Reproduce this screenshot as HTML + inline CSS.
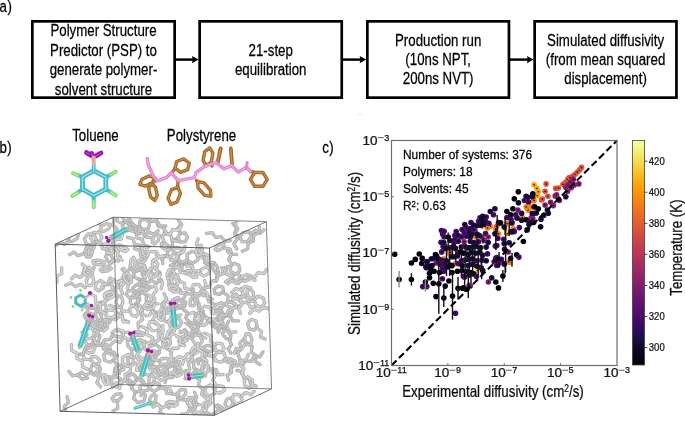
<!DOCTYPE html>
<html><head><meta charset="utf-8"><style>
html,body{margin:0;padding:0;background:#fff;}
svg{display:block;font-family:"Liberation Sans",sans-serif;will-change:transform;}
text{stroke:currentColor;stroke-width:0.25px;}
</style></head><body>
<svg width="685" height="436" viewBox="0 0 685 436">
<line x1="82.5" y1="177.2" x2="77.8" y2="175.2" stroke="#45bcc7" stroke-width="4.0" stroke-linecap="round" />
<line x1="77.8" y1="175.2" x2="73.0" y2="173.3" stroke="#82dc70" stroke-width="4.0" stroke-linecap="round" />
<line x1="77.8" y1="175.2" x2="73.0" y2="173.3" stroke="#b8f0a8" stroke-width="1.2" stroke-linecap="round" />
<line x1="82.5" y1="189.2" x2="77.5" y2="192.7" stroke="#45bcc7" stroke-width="4.0" stroke-linecap="round" />
<line x1="77.5" y1="192.7" x2="72.4" y2="196.2" stroke="#82dc70" stroke-width="4.0" stroke-linecap="round" />
<line x1="77.5" y1="192.7" x2="72.4" y2="196.2" stroke="#b8f0a8" stroke-width="1.2" stroke-linecap="round" />
<line x1="93.7" y1="195.6" x2="93.7" y2="201.4" stroke="#45bcc7" stroke-width="4.0" stroke-linecap="round" />
<line x1="93.7" y1="201.4" x2="93.7" y2="207.3" stroke="#82dc70" stroke-width="4.0" stroke-linecap="round" />
<line x1="93.7" y1="201.4" x2="93.7" y2="207.3" stroke="#b8f0a8" stroke-width="1.2" stroke-linecap="round" />
<line x1="105.8" y1="189.2" x2="110.8" y2="192.3" stroke="#45bcc7" stroke-width="4.0" stroke-linecap="round" />
<line x1="110.8" y1="192.3" x2="115.8" y2="195.4" stroke="#82dc70" stroke-width="4.0" stroke-linecap="round" />
<line x1="110.8" y1="192.3" x2="115.8" y2="195.4" stroke="#b8f0a8" stroke-width="1.2" stroke-linecap="round" />
<line x1="105.8" y1="177.2" x2="110.8" y2="174.5" stroke="#45bcc7" stroke-width="4.0" stroke-linecap="round" />
<line x1="110.8" y1="174.5" x2="115.8" y2="171.8" stroke="#82dc70" stroke-width="4.0" stroke-linecap="round" />
<line x1="110.8" y1="174.5" x2="115.8" y2="171.8" stroke="#b8f0a8" stroke-width="1.2" stroke-linecap="round" />
<polygon points="93.7,170.7 82.5,177.2 82.5,189.2 93.7,195.6 105.8,189.2 105.8,177.2" fill="none" stroke="#45bcc7" stroke-width="4.9" stroke-linejoin="round"/>
<polygon points="93.7,170.7 82.5,177.2 82.5,189.2 93.7,195.6 105.8,189.2 105.8,177.2" fill="none" stroke="#9be6ec" stroke-width="1.2" stroke-linejoin="round"/>
<line x1="93.7" y1="170.7" x2="93.7" y2="164.1" stroke="#45bcc7" stroke-width="3.8" stroke-linecap="round" />
<line x1="93.7" y1="164.1" x2="93.7" y2="157.5" stroke="#eba3a0" stroke-width="3.8" stroke-linecap="round" />
<line x1="93.7" y1="170.7" x2="93.7" y2="164.1" stroke="#9be6ec" stroke-width="1.14" stroke-linecap="round" />
<line x1="91.5" y1="155.7" x2="86.5" y2="152.6" stroke="#9a17aa" stroke-width="4.8" stroke-linecap="round" />
<line x1="91.5" y1="155.7" x2="86.5" y2="152.6" stroke="#c75bd2" stroke-width="1.0" stroke-linecap="round" />
<line x1="93.0" y1="155.9" x2="91.5" y2="153.4" stroke="#9a17aa" stroke-width="4.8" stroke-linecap="round" />
<line x1="93.0" y1="155.9" x2="91.5" y2="153.4" stroke="#c75bd2" stroke-width="1.0" stroke-linecap="round" />
<line x1="95.9" y1="155.8" x2="101.0" y2="153.0" stroke="#9a17aa" stroke-width="4.8" stroke-linecap="round" />
<line x1="95.9" y1="155.8" x2="101.0" y2="153.0" stroke="#c75bd2" stroke-width="1.0" stroke-linecap="round" />
<circle cx="93.7" cy="157.6" r="2.2" fill="#eba3a0"/>
<line x1="154.5" y1="179.5" x2="154.5" y2="177.6" stroke="#a66824" stroke-width="3.4" stroke-linecap="round" />
<line x1="154.5" y1="179.5" x2="154.5" y2="177.6" stroke="#d29a58" stroke-width="1.0" stroke-linecap="round" />
<path d="M154.5,177.6 L152.4,182.8 L145.2,186.1 L139.9,184.4 L142.0,179.2 L149.2,175.9 Z" fill="none" stroke="#a66824" stroke-width="3.4" stroke-linecap="round" stroke-linejoin="round"/>
<path d="M154.5,177.6 L152.4,182.8 L145.2,186.1 L139.9,184.4 L142.0,179.2 L149.2,175.9 Z" fill="none" stroke="#d29a58" stroke-width="1.0" stroke-linecap="round" stroke-linejoin="round"/>
<line x1="155.0" y1="181.0" x2="151.2" y2="183.6" stroke="#a66824" stroke-width="3.4" stroke-linecap="round" />
<line x1="155.0" y1="181.0" x2="151.2" y2="183.6" stroke="#d29a58" stroke-width="1.0" stroke-linecap="round" />
<path d="M154.8,200.4 L150.5,196.9 L148.7,188.5 L151.2,183.6 L155.5,187.1 L157.3,195.5 Z" fill="none" stroke="#a66824" stroke-width="3.4" stroke-linecap="round" stroke-linejoin="round"/>
<path d="M154.8,200.4 L150.5,196.9 L148.7,188.5 L151.2,183.6 L155.5,187.1 L157.3,195.5 Z" fill="none" stroke="#d29a58" stroke-width="1.0" stroke-linecap="round" stroke-linejoin="round"/>
<line x1="171.5" y1="173.5" x2="175.1" y2="168.2" stroke="#a66824" stroke-width="3.4" stroke-linecap="round" />
<line x1="171.5" y1="173.5" x2="175.1" y2="168.2" stroke="#d29a58" stroke-width="1.0" stroke-linecap="round" />
<path d="M189.3,163.0 L187.7,169.7 L180.6,172.3 L175.1,168.2 L176.7,161.5 L183.8,158.9 Z" fill="none" stroke="#a66824" stroke-width="3.4" stroke-linecap="round" stroke-linejoin="round"/>
<path d="M189.3,163.0 L187.7,169.7 L180.6,172.3 L175.1,168.2 L176.7,161.5 L183.8,158.9 Z" fill="none" stroke="#d29a58" stroke-width="1.0" stroke-linecap="round" stroke-linejoin="round"/>
<line x1="178.0" y1="181.0" x2="177.7" y2="187.3" stroke="#a66824" stroke-width="3.4" stroke-linecap="round" />
<line x1="178.0" y1="181.0" x2="177.7" y2="187.3" stroke="#d29a58" stroke-width="1.0" stroke-linecap="round" />
<path d="M177.7,187.3 L180.5,193.4 L177.1,201.9 L170.9,204.3 L168.1,198.2 L171.5,189.7 Z" fill="none" stroke="#a66824" stroke-width="3.4" stroke-linecap="round" stroke-linejoin="round"/>
<path d="M177.7,187.3 L180.5,193.4 L177.1,201.9 L170.9,204.3 L168.1,198.2 L171.5,189.7 Z" fill="none" stroke="#d29a58" stroke-width="1.0" stroke-linecap="round" stroke-linejoin="round"/>
<line x1="250.8" y1="171.5" x2="254.6" y2="172.5" stroke="#a66824" stroke-width="3.4" stroke-linecap="round" />
<line x1="250.8" y1="171.5" x2="254.6" y2="172.5" stroke="#d29a58" stroke-width="1.0" stroke-linecap="round" />
<path d="M267.2,179.4 L263.0,186.3 L254.6,186.3 L250.4,179.4 L254.6,172.5 L263.0,172.5 Z" fill="none" stroke="#a66824" stroke-width="3.4" stroke-linecap="round" stroke-linejoin="round"/>
<path d="M267.2,179.4 L263.0,186.3 L254.6,186.3 L250.4,179.4 L254.6,172.5 L263.0,172.5 Z" fill="none" stroke="#d29a58" stroke-width="1.0" stroke-linecap="round" stroke-linejoin="round"/>
<line x1="212.0" y1="166.0" x2="211.3" y2="162.0" stroke="#a66824" stroke-width="3.4" stroke-linecap="round" />
<line x1="212.0" y1="166.0" x2="211.3" y2="162.0" stroke="#d29a58" stroke-width="1.0" stroke-linecap="round" />
<path d="M209.6,147.9 L212.9,153.1 L211.3,162.0 L206.4,165.7 L203.1,160.5 L204.7,151.6 Z" fill="none" stroke="#a66824" stroke-width="3.4" stroke-linecap="round" stroke-linejoin="round"/>
<path d="M209.6,147.9 L212.9,153.1 L211.3,162.0 L206.4,165.7 L203.1,160.5 L204.7,151.6 Z" fill="none" stroke="#d29a58" stroke-width="1.0" stroke-linecap="round" stroke-linejoin="round"/>
<line x1="196.5" y1="180.5" x2="197.5" y2="181.6" stroke="#a66824" stroke-width="3.4" stroke-linecap="round" />
<line x1="196.5" y1="180.5" x2="197.5" y2="181.6" stroke="#d29a58" stroke-width="1.0" stroke-linecap="round" />
<path d="M210.9,196.4 L204.7,195.3 L198.0,187.8 L197.5,181.6 L203.7,182.7 L210.4,190.2 Z" fill="none" stroke="#a66824" stroke-width="3.4" stroke-linecap="round" stroke-linejoin="round"/>
<path d="M210.9,196.4 L204.7,195.3 L198.0,187.8 L197.5,181.6 L203.7,182.7 L210.4,190.2 Z" fill="none" stroke="#d29a58" stroke-width="1.0" stroke-linecap="round" stroke-linejoin="round"/>
<line x1="220.6" y1="148.5" x2="218.0" y2="161.5" stroke="#a66824" stroke-width="4.0" stroke-linecap="round" />
<line x1="220.6" y1="148.5" x2="218.0" y2="161.5" stroke="#d29a58" stroke-width="1.1" stroke-linecap="round" />
<line x1="230.8" y1="148.5" x2="232.0" y2="164.0" stroke="#a66824" stroke-width="3.8" stroke-linecap="round" />
<line x1="230.8" y1="148.5" x2="232.0" y2="164.0" stroke="#d29a58" stroke-width="1.1" stroke-linecap="round" />
<path d="M147.3,158.8 L148.3,165.0 L151.0,170.7 L153.0,175.5 L157.5,181.0 L167.1,177.2 L171.1,172.6 L178.3,180.6 L186.0,179.2 L194.4,177.6 L196.0,172.3 L204.6,166.5 L215.9,162.5 L223.9,168.9 L231.9,165.7 L238.3,172.1 L246.4,167.3 L250.4,171.3" fill="none" stroke="#e283d6" stroke-width="3.4" stroke-linecap="round" stroke-linejoin="round"/>
<path d="M147.3,158.8 L148.3,165.0 L151.0,170.7 L153.0,175.5 L157.5,181.0 L167.1,177.2 L171.1,172.6 L178.3,180.6 L186.0,179.2 L194.4,177.6 L196.0,172.3 L204.6,166.5 L215.9,162.5 L223.9,168.9 L231.9,165.7 L238.3,172.1 L246.4,167.3 L250.4,171.3" fill="none" stroke="#f2b4ea" stroke-width="1.0" stroke-linecap="round" stroke-linejoin="round"/>
<line x1="246.4" y1="167.3" x2="247.2" y2="162.5" stroke="#e283d6" stroke-width="3.0" stroke-linecap="round" />
<clipPath id="hull"><polygon points="55.2,244.2 113.3,217.2 266.3,221.7 271.6,388.9 214.4,415.3 60.1,411.3"/></clipPath>
<g clip-path="url(#hull)" fill="none" stroke-linecap="round" stroke-linejoin="round"><path d="M95.5,324.5 L99.6,320.3 L105.5,320.5 L107.2,325.0 L103.1,329.3 L97.3,329.0 Z" stroke="#a9a9a9" stroke-width="3.3"/><path d="M95.5,324.5 L99.6,320.3 L105.5,320.5 L107.2,325.0 L103.1,329.3 L97.3,329.0 Z" stroke="#d6d6d6" stroke-width="1.81"/><path d="M106.3,321.0 L110.6,317.6 L115.6,319.9 L118.8,316.1" stroke="#a9a9a9" stroke-width="3.3"/><path d="M106.3,321.0 L110.6,317.6 L115.6,319.9 L118.8,316.1" stroke="#d6d6d6" stroke-width="1.81"/><path d="M162.8,263.7 L162.6,257.9 L167.7,255.1 L167.5,249.3 L172.6,246.5 L172.3,240.7 L177.4,237.9" stroke="#a9a9a9" stroke-width="3.3"/><path d="M162.8,263.7 L162.6,257.9 L167.7,255.1 L167.5,249.3 L172.6,246.5 L172.3,240.7 L177.4,237.9" stroke="#c8c8c8" stroke-width="1.81"/><path d="M170.3,323.1 L173.2,318.7 L179.0,318.4 L181.8,322.6 L178.9,327.0 L173.2,327.3 Z" stroke="#a9a9a9" stroke-width="3.3"/><path d="M170.3,323.1 L173.2,318.7 L179.0,318.4 L181.8,322.6 L178.9,327.0 L173.2,327.3 Z" stroke="#cccccc" stroke-width="1.81"/><path d="M170.3,322.2 L164.9,321.5 L163.0,316.3 L158.0,316.7" stroke="#a9a9a9" stroke-width="3.3"/><path d="M170.3,322.2 L164.9,321.5 L163.0,316.3 L158.0,316.7" stroke="#cccccc" stroke-width="1.81"/><path d="M205.6,375.7 L200.1,377.4 L196.1,373.2 L190.5,374.9 L186.5,370.7 L181.0,372.4 L177.0,368.2" stroke="#a9a9a9" stroke-width="3.3"/><path d="M205.6,375.7 L200.1,377.4 L196.1,373.2 L190.5,374.9 L186.5,370.7 L181.0,372.4 L177.0,368.2" stroke="#cccccc" stroke-width="1.81"/><path d="M204.8,333.3 L199.5,335.6 L195.0,331.9 L189.7,334.3 L185.2,330.6 L179.9,332.9" stroke="#a9a9a9" stroke-width="3.3"/><path d="M204.8,333.3 L199.5,335.6 L195.0,331.9 L189.7,334.3 L185.2,330.6 L179.9,332.9" stroke="#d6d6d6" stroke-width="1.81"/><path d="M153.7,259.8 L157.9,263.9 L156.2,269.4 L160.4,273.4 L158.6,279.0 L162.8,283.0 L161.1,288.6" stroke="#a9a9a9" stroke-width="3.3"/><path d="M153.7,259.8 L157.9,263.9 L156.2,269.4 L160.4,273.4 L158.6,279.0 L162.8,283.0 L161.1,288.6" stroke="#d6d6d6" stroke-width="1.81"/><path d="M175.4,284.8 L169.5,283.6 L167.6,277.8 L171.5,273.3 L177.4,274.5 L179.4,280.3 Z" stroke="#a9a9a9" stroke-width="3.3"/><path d="M175.4,284.8 L169.5,283.6 L167.6,277.8 L171.5,273.3 L177.4,274.5 L179.4,280.3 Z" stroke="#d2d2d2" stroke-width="1.81"/><path d="M179.2,281.2 L184.3,283.1 L185.0,288.6 L189.9,289.3" stroke="#a9a9a9" stroke-width="3.3"/><path d="M179.2,281.2 L184.3,283.1 L185.0,288.6 L189.9,289.3" stroke="#d2d2d2" stroke-width="1.81"/><path d="M180.3,242.0 L177.8,237.8 L180.2,233.3 L185.0,233.0 L187.5,237.2 L185.2,241.7 Z" stroke="#a9a9a9" stroke-width="3.3"/><path d="M180.3,242.0 L177.8,237.8 L180.2,233.3 L185.0,233.0 L187.5,237.2 L185.2,241.7 Z" stroke="#c8c8c8" stroke-width="1.81"/><path d="M180.4,233.0 L177.9,228.1 L181.1,223.7 L178.0,219.7" stroke="#a9a9a9" stroke-width="3.3"/><path d="M180.4,233.0 L177.9,228.1 L181.1,223.7 L178.0,219.7" stroke="#c8c8c8" stroke-width="1.81"/><path d="M133.8,293.1 L132.8,287.9 L136.7,284.4 L141.5,286.2 L142.5,291.4 L138.6,294.9 Z" stroke="#a9a9a9" stroke-width="3.3"/><path d="M133.8,293.1 L132.8,287.9 L136.7,284.4 L141.5,286.2 L142.5,291.4 L138.6,294.9 Z" stroke="#c4c4c4" stroke-width="1.81"/><path d="M138.7,294.9 L139.7,300.3 L135.4,303.7 L137.3,308.3" stroke="#a9a9a9" stroke-width="3.3"/><path d="M138.7,294.9 L139.7,300.3 L135.4,303.7 L137.3,308.3" stroke="#c4c4c4" stroke-width="1.81"/><path d="M138.9,260.6 L143.0,257.4 L146.4,257.0 L145.7,259.9 L141.6,263.1 L138.2,263.5 Z" stroke="#a9a9a9" stroke-width="3.3"/><path d="M138.9,260.6 L143.0,257.4 L146.4,257.0 L145.7,259.9 L141.6,263.1 L138.2,263.5 Z" stroke="#d6d6d6" stroke-width="1.81"/><path d="M144.1,265.1 L146.1,270.3 L142.3,274.3 L145.0,278.6" stroke="#a9a9a9" stroke-width="3.3"/><path d="M144.1,265.1 L146.1,270.3 L142.3,274.3 L145.0,278.6" stroke="#d6d6d6" stroke-width="1.81"/><path d="M119.0,280.6 L118.5,286.4 L113.1,288.5 L112.5,294.2 L107.1,296.3" stroke="#a9a9a9" stroke-width="3.3"/><path d="M119.0,280.6 L118.5,286.4 L113.1,288.5 L112.5,294.2 L107.1,296.3" stroke="#c4c4c4" stroke-width="1.81"/><path d="M202.0,405.3 L205.7,402.0 L210.3,400.8 L211.2,403.0 L207.5,406.3 L203.0,407.5 Z" stroke="#a9a9a9" stroke-width="3.3"/><path d="M202.0,405.3 L205.7,402.0 L210.3,400.8 L211.2,403.0 L207.5,406.3 L203.0,407.5 Z" stroke="#d6d6d6" stroke-width="1.81"/><path d="M203.3,408.4 L199.9,412.8 L194.5,411.7 L192.3,416.2" stroke="#a9a9a9" stroke-width="3.3"/><path d="M203.3,408.4 L199.9,412.8 L194.5,411.7 L192.3,416.2" stroke="#d6d6d6" stroke-width="1.81"/><path d="M240.9,306.1 L236.2,306.0 L232.3,302.3 L233.0,298.7 L237.6,298.8 L241.5,302.5 Z" stroke="#a9a9a9" stroke-width="3.3"/><path d="M240.9,306.1 L236.2,306.0 L232.3,302.3 L233.0,298.7 L237.6,298.8 L241.5,302.5 Z" stroke="#d2d2d2" stroke-width="1.81"/><path d="M242.4,302.5 L247.9,302.6 L250.4,307.5 L255.3,306.6" stroke="#a9a9a9" stroke-width="3.3"/><path d="M242.4,302.5 L247.9,302.6 L250.4,307.5 L255.3,306.6" stroke="#d2d2d2" stroke-width="1.81"/><path d="M126.7,279.0 L126.0,273.9 L129.3,269.2 L133.3,269.6 L134.0,274.7 L130.7,279.4 Z" stroke="#a9a9a9" stroke-width="3.3"/><path d="M126.7,279.0 L126.0,273.9 L129.3,269.2 L133.3,269.6 L134.0,274.7 L130.7,279.4 Z" stroke="#c8c8c8" stroke-width="1.81"/><path d="M135.1,277.3 L139.8,280.1 L139.4,285.6 L144.1,287.3" stroke="#a9a9a9" stroke-width="3.3"/><path d="M135.1,277.3 L139.8,280.1 L139.4,285.6 L144.1,287.3" stroke="#c8c8c8" stroke-width="1.81"/><path d="M175.0,372.6 L174.6,368.1 L176.4,363.4 L178.7,363.2 L179.1,367.7 L177.3,372.4 Z" stroke="#a9a9a9" stroke-width="3.3"/><path d="M175.0,372.6 L174.6,368.1 L176.4,363.4 L178.7,363.2 L179.1,367.7 L177.3,372.4 Z" stroke="#c8c8c8" stroke-width="1.81"/><path d="M174.4,372.7 L171.9,377.6 L166.4,377.6 L165.1,382.5" stroke="#a9a9a9" stroke-width="3.3"/><path d="M174.4,372.7 L171.9,377.6 L166.4,377.6 L165.1,382.5" stroke="#c8c8c8" stroke-width="1.81"/><path d="M128.6,321.9 L123.0,320.2 L122.0,314.5 L116.4,312.9 L115.3,307.2 L109.8,305.5" stroke="#a9a9a9" stroke-width="3.3"/><path d="M128.6,321.9 L123.0,320.2 L122.0,314.5 L116.4,312.9 L115.3,307.2 L109.8,305.5" stroke="#d2d2d2" stroke-width="1.81"/><path d="M139.8,378.4 L143.7,374.0 L149.3,375.4 L153.1,371.0 L158.7,372.5" stroke="#a9a9a9" stroke-width="3.3"/><path d="M139.8,378.4 L143.7,374.0 L149.3,375.4 L153.1,371.0 L158.7,372.5" stroke="#cccccc" stroke-width="1.81"/><path d="M114.2,371.7 L115.3,368.1 L119.4,365.1 L122.4,365.7 L121.3,369.4 L117.2,372.3 Z" stroke="#a9a9a9" stroke-width="3.3"/><path d="M114.2,371.7 L115.3,368.1 L119.4,365.1 L122.4,365.7 L121.3,369.4 L117.2,372.3 Z" stroke="#c8c8c8" stroke-width="1.81"/><path d="M115.4,373.0 L112.2,377.5 L106.8,376.7 L104.8,381.3" stroke="#a9a9a9" stroke-width="3.3"/><path d="M115.4,373.0 L112.2,377.5 L106.8,376.7 L104.8,381.3" stroke="#c8c8c8" stroke-width="1.81"/><path d="M95.2,288.3 L96.4,283.2 L100.8,280.5 L104.2,283.0 L103.0,288.1 L98.6,290.8 Z" stroke="#a9a9a9" stroke-width="3.3"/><path d="M95.2,288.3 L96.4,283.2 L100.8,280.5 L104.2,283.0 L103.0,288.1 L98.6,290.8 Z" stroke="#d2d2d2" stroke-width="1.81"/><path d="M105.2,284.9 L110.7,284.1 L113.8,288.6 L118.5,286.9" stroke="#a9a9a9" stroke-width="3.3"/><path d="M105.2,284.9 L110.7,284.1 L113.8,288.6 L118.5,286.9" stroke="#d2d2d2" stroke-width="1.81"/><path d="M195.2,375.9 L199.7,379.5 L198.4,385.2 L202.9,388.9 L201.6,394.6 L206.1,398.3" stroke="#a9a9a9" stroke-width="3.3"/><path d="M195.2,375.9 L199.7,379.5 L198.4,385.2 L202.9,388.9 L201.6,394.6 L206.1,398.3" stroke="#cccccc" stroke-width="1.81"/><path d="M180.7,368.6 L175.7,365.7 L176.0,359.9 L171.0,357.0 L171.3,351.2 L166.3,348.3 L166.6,342.5" stroke="#a9a9a9" stroke-width="3.3"/><path d="M180.7,368.6 L175.7,365.7 L176.0,359.9 L171.0,357.0 L171.3,351.2 L166.3,348.3 L166.6,342.5" stroke="#d2d2d2" stroke-width="1.81"/><path d="M121.0,312.5 L118.1,317.5 L112.3,317.3 L109.5,322.4 L103.7,322.1 L100.8,327.2" stroke="#a9a9a9" stroke-width="3.3"/><path d="M121.0,312.5 L118.1,317.5 L112.3,317.3 L109.5,322.4 L103.7,322.1 L100.8,327.2" stroke="#cccccc" stroke-width="1.81"/><path d="M205.0,393.0 L205.7,387.3 L210.8,384.8 L215.2,387.9 L214.6,393.5 L209.5,396.1 Z" stroke="#a9a9a9" stroke-width="3.3"/><path d="M205.0,393.0 L205.7,387.3 L210.8,384.8 L215.2,387.9 L214.6,393.5 L209.5,396.1 Z" stroke="#d2d2d2" stroke-width="1.81"/><path d="M210.2,396.2 L210.4,401.7 L205.5,404.3 L206.6,409.2" stroke="#a9a9a9" stroke-width="3.3"/><path d="M210.2,396.2 L210.4,401.7 L205.5,404.3 L206.6,409.2" stroke="#d2d2d2" stroke-width="1.81"/><path d="M149.8,364.2 L155.0,366.8 L155.1,372.6 L160.3,375.2" stroke="#a9a9a9" stroke-width="3.3"/><path d="M149.8,364.2 L155.0,366.8 L155.1,372.6 L160.3,375.2" stroke="#d2d2d2" stroke-width="1.81"/><path d="M94.1,375.1 L90.4,370.8 L91.8,365.4 L96.9,364.4 L100.6,368.7 L99.2,374.1 Z" stroke="#a9a9a9" stroke-width="3.3"/><path d="M94.1,375.1 L90.4,370.8 L91.8,365.4 L96.9,364.4 L100.6,368.7 L99.2,374.1 Z" stroke="#c8c8c8" stroke-width="1.81"/><path d="M90.5,372.6 L85.7,375.3 L81.1,372.2 L77.3,375.5" stroke="#a9a9a9" stroke-width="3.3"/><path d="M90.5,372.6 L85.7,375.3 L81.1,372.2 L77.3,375.5" stroke="#c8c8c8" stroke-width="1.81"/><path d="M143.0,335.4 L137.8,335.4 L133.7,333.6 L134.8,331.7 L140.0,331.8 L144.1,333.6 Z" stroke="#a9a9a9" stroke-width="3.3"/><path d="M143.0,335.4 L137.8,335.4 L133.7,333.6 L134.8,331.7 L140.0,331.8 L144.1,333.6 Z" stroke="#cccccc" stroke-width="1.81"/><path d="M138.4,328.1 L138.0,322.6 L142.6,319.7 L141.2,314.9" stroke="#a9a9a9" stroke-width="3.3"/><path d="M138.4,328.1 L138.0,322.6 L142.6,319.7 L141.2,314.9" stroke="#cccccc" stroke-width="1.81"/><path d="M185.1,263.7 L179.9,266.4 L175.2,263.1 L170.1,265.8" stroke="#a9a9a9" stroke-width="3.3"/><path d="M185.1,263.7 L179.9,266.4 L175.2,263.1 L170.1,265.8" stroke="#c8c8c8" stroke-width="1.81"/><path d="M187.8,314.2 L193.3,312.3 L197.5,316.3 L203.0,314.3 L207.2,318.4" stroke="#a9a9a9" stroke-width="3.3"/><path d="M187.8,314.2 L193.3,312.3 L197.5,316.3 L203.0,314.3 L207.2,318.4" stroke="#d6d6d6" stroke-width="1.81"/><path d="M164.1,388.7 L169.9,388.9 L172.3,394.2 L178.1,394.5 L180.5,399.7 L186.3,400.0" stroke="#a9a9a9" stroke-width="3.3"/><path d="M164.1,388.7 L169.9,388.9 L172.3,394.2 L178.1,394.5 L180.5,399.7 L186.3,400.0" stroke="#d6d6d6" stroke-width="1.81"/><path d="M199.4,370.9 L194.0,368.2 L193.3,362.3 L197.9,359.0 L203.4,361.6 L204.1,367.5 Z" stroke="#a9a9a9" stroke-width="3.3"/><path d="M199.4,370.9 L194.0,368.2 L193.3,362.3 L197.9,359.0 L203.4,361.6 L204.1,367.5 Z" stroke="#c8c8c8" stroke-width="1.81"/><path d="M195.4,370.0 L192.3,374.6 L186.9,374.0 L185.0,378.7" stroke="#a9a9a9" stroke-width="3.3"/><path d="M195.4,370.0 L192.3,374.6 L186.9,374.0 L185.0,378.7" stroke="#c8c8c8" stroke-width="1.81"/><path d="M67.0,396.8 L68.6,402.4 L64.4,406.3 L66.0,411.9 L61.8,415.8 L63.4,421.4" stroke="#a9a9a9" stroke-width="3.3"/><path d="M67.0,396.8 L68.6,402.4 L64.4,406.3 L66.0,411.9 L61.8,415.8 L63.4,421.4" stroke="#c8c8c8" stroke-width="1.81"/><path d="M213.6,388.7 L217.5,385.7 L223.0,386.3 L224.7,390.0 L220.8,393.0 L215.2,392.3 Z" stroke="#a9a9a9" stroke-width="3.3"/><path d="M213.6,388.7 L217.5,385.7 L223.0,386.3 L224.7,390.0 L220.8,393.0 L215.2,392.3 Z" stroke="#d6d6d6" stroke-width="1.81"/><path d="M215.9,384.6 L212.8,380.1 L215.4,375.3 L211.8,371.8" stroke="#a9a9a9" stroke-width="3.3"/><path d="M215.9,384.6 L212.8,380.1 L215.4,375.3 L211.8,371.8" stroke="#d6d6d6" stroke-width="1.81"/><path d="M163.3,347.0 L162.5,342.2 L165.8,338.0 L169.8,338.6 L170.6,343.4 L167.3,347.6 Z" stroke="#a9a9a9" stroke-width="3.3"/><path d="M163.3,347.0 L162.5,342.2 L165.8,338.0 L169.8,338.6 L170.6,343.4 L167.3,347.6 Z" stroke="#cccccc" stroke-width="1.81"/><path d="M167.7,337.5 L168.9,332.1 L174.2,330.7 L174.3,325.7" stroke="#a9a9a9" stroke-width="3.3"/><path d="M167.7,337.5 L168.9,332.1 L174.2,330.7 L174.3,325.7" stroke="#cccccc" stroke-width="1.81"/><path d="M134.2,306.6 L130.4,302.9 L130.4,297.4 L134.2,295.5 L137.9,299.2 L137.9,304.8 Z" stroke="#a9a9a9" stroke-width="3.3"/><path d="M134.2,306.6 L130.4,302.9 L130.4,297.4 L134.2,295.5 L137.9,299.2 L137.9,304.8 Z" stroke="#cccccc" stroke-width="1.81"/><path d="M138.6,304.7 L142.9,308.2 L141.8,313.6 L146.2,315.9" stroke="#a9a9a9" stroke-width="3.3"/><path d="M138.6,304.7 L142.9,308.2 L141.8,313.6 L146.2,315.9" stroke="#cccccc" stroke-width="1.81"/><path d="M239.8,237.7 L243.2,232.6 L249.0,231.7 L251.4,236.0 L248.1,241.1 L242.3,241.9 Z" stroke="#a9a9a9" stroke-width="3.3"/><path d="M239.8,237.7 L243.2,232.6 L249.0,231.7 L251.4,236.0 L248.1,241.1 L242.3,241.9 Z" stroke="#cccccc" stroke-width="1.81"/><path d="M250.9,233.5 L255.6,230.5 L260.3,233.3 L263.9,229.8" stroke="#a9a9a9" stroke-width="3.3"/><path d="M250.9,233.5 L255.6,230.5 L260.3,233.3 L263.9,229.8" stroke="#cccccc" stroke-width="1.81"/><path d="M214.1,289.3 L218.2,286.1 L222.8,287.1 L223.5,291.2 L219.5,294.4 L214.8,293.4 Z" stroke="#a9a9a9" stroke-width="3.3"/><path d="M214.1,289.3 L218.2,286.1 L222.8,287.1 L223.5,291.2 L219.5,294.4 L214.8,293.4 Z" stroke="#c4c4c4" stroke-width="1.81"/><path d="M223.3,292.8 L228.1,295.6 L227.8,301.1 L232.6,302.6" stroke="#a9a9a9" stroke-width="3.3"/><path d="M223.3,292.8 L228.1,295.6 L227.8,301.1 L232.6,302.6" stroke="#c4c4c4" stroke-width="1.81"/><path d="M177.6,241.5 L172.0,240.1 L170.6,234.5 L165.0,233.1 L163.7,227.5 L158.0,226.1 L156.7,220.5" stroke="#a9a9a9" stroke-width="3.3"/><path d="M177.6,241.5 L172.0,240.1 L170.6,234.5 L165.0,233.1 L163.7,227.5 L158.0,226.1 L156.7,220.5" stroke="#cccccc" stroke-width="1.81"/><path d="M84.8,350.0 L86.5,345.6 L91.6,344.3 L95.0,347.5 L93.3,351.9 L88.2,353.1 Z" stroke="#a9a9a9" stroke-width="3.3"/><path d="M84.8,350.0 L86.5,345.6 L91.6,344.3 L95.0,347.5 L93.3,351.9 L88.2,353.1 Z" stroke="#d2d2d2" stroke-width="1.81"/><path d="M87.0,344.4 L83.9,339.8 L86.6,335.0 L83.0,331.5" stroke="#a9a9a9" stroke-width="3.3"/><path d="M87.0,344.4 L83.9,339.8 L86.6,335.0 L83.0,331.5" stroke="#d2d2d2" stroke-width="1.81"/><path d="M239.4,358.4 L237.5,352.9 L241.6,348.7 L239.8,343.2 L243.9,339.1" stroke="#a9a9a9" stroke-width="3.3"/><path d="M239.4,358.4 L237.5,352.9 L241.6,348.7 L239.8,343.2 L243.9,339.1" stroke="#c8c8c8" stroke-width="1.81"/><path d="M247.4,343.1 L252.1,346.4 L251.3,352.2 L256.1,355.5 L255.3,361.3 L260.0,364.6" stroke="#a9a9a9" stroke-width="3.3"/><path d="M247.4,343.1 L252.1,346.4 L251.3,352.2 L256.1,355.5 L255.3,361.3 L260.0,364.6" stroke="#c4c4c4" stroke-width="1.81"/><path d="M131.4,229.8 L125.9,230.9 L122.2,226.8 L123.9,221.7 L129.4,220.7 L133.1,224.7 Z" stroke="#a9a9a9" stroke-width="3.3"/><path d="M131.4,229.8 L125.9,230.9 L122.2,226.8 L123.9,221.7 L129.4,220.7 L133.1,224.7 Z" stroke="#cccccc" stroke-width="1.81"/><path d="M122.5,223.5 L117.5,221.2 L117.3,215.7 L112.4,214.6" stroke="#a9a9a9" stroke-width="3.3"/><path d="M122.5,223.5 L117.5,221.2 L117.3,215.7 L112.4,214.6" stroke="#cccccc" stroke-width="1.81"/><path d="M236.0,331.8 L230.2,332.3 L227.2,327.3 L221.4,327.8 L218.3,322.8 L212.6,323.3 L209.5,318.3" stroke="#a9a9a9" stroke-width="3.3"/><path d="M236.0,331.8 L230.2,332.3 L227.2,327.3 L221.4,327.8 L218.3,322.8 L212.6,323.3 L209.5,318.3" stroke="#cccccc" stroke-width="1.81"/><path d="M161.3,304.5 L164.8,301.5 L169.6,302.1 L170.9,305.6 L167.4,308.5 L162.6,308.0 Z" stroke="#a9a9a9" stroke-width="3.3"/><path d="M161.3,304.5 L164.8,301.5 L169.6,302.1 L170.9,305.6 L167.4,308.5 L162.6,308.0 Z" stroke="#d6d6d6" stroke-width="1.81"/><path d="M171.1,304.4 L176.5,303.8 L179.6,308.3 L184.4,306.7" stroke="#a9a9a9" stroke-width="3.3"/><path d="M171.1,304.4 L176.5,303.8 L179.6,308.3 L184.4,306.7" stroke="#d6d6d6" stroke-width="1.81"/><path d="M184.9,399.8 L190.6,399.7 L193.4,404.8 L199.2,404.6" stroke="#a9a9a9" stroke-width="3.3"/><path d="M184.9,399.8 L190.6,399.7 L193.4,404.8 L199.2,404.6" stroke="#d6d6d6" stroke-width="1.81"/><path d="M167.5,278.9 L167.6,275.8 L170.5,271.4 L173.2,270.2 L173.1,273.3 L170.2,277.6 Z" stroke="#a9a9a9" stroke-width="3.3"/><path d="M167.5,278.9 L167.6,275.8 L170.5,271.4 L173.2,270.2 L173.1,273.3 L170.2,277.6 Z" stroke="#d6d6d6" stroke-width="1.81"/><path d="M174.1,278.1 L178.1,281.9 L176.5,287.2 L180.7,289.9" stroke="#a9a9a9" stroke-width="3.3"/><path d="M174.1,278.1 L178.1,281.9 L176.5,287.2 L180.7,289.9" stroke="#d6d6d6" stroke-width="1.81"/><path d="M102.8,328.3 L102.3,323.7 L104.5,319.5 L107.2,320.0 L107.7,324.6 L105.5,328.7 Z" stroke="#a9a9a9" stroke-width="3.3"/><path d="M102.8,328.3 L102.3,323.7 L104.5,319.5 L107.2,320.0 L107.7,324.6 L105.5,328.7 Z" stroke="#cccccc" stroke-width="1.81"/><path d="M100.1,325.7 L94.8,327.4 L91.0,323.5 L86.6,325.9" stroke="#a9a9a9" stroke-width="3.3"/><path d="M100.1,325.7 L94.8,327.4 L91.0,323.5 L86.6,325.9" stroke="#cccccc" stroke-width="1.81"/><path d="M219.0,332.1 L216.7,326.7 L220.5,322.3 L218.2,316.9 L221.9,312.5 L219.7,307.2" stroke="#a9a9a9" stroke-width="3.3"/><path d="M219.0,332.1 L216.7,326.7 L220.5,322.3 L218.2,316.9 L221.9,312.5 L219.7,307.2" stroke="#d2d2d2" stroke-width="1.81"/><path d="M171.1,311.5 L172.7,317.1 L168.5,321.0 L170.1,326.6" stroke="#a9a9a9" stroke-width="3.3"/><path d="M171.1,311.5 L172.7,317.1 L168.5,321.0 L170.1,326.6" stroke="#d2d2d2" stroke-width="1.81"/><path d="M156.0,312.3 L151.0,309.4 L151.2,303.6 L146.2,300.8 L146.4,295.0 L141.4,292.1 L141.6,286.3" stroke="#a9a9a9" stroke-width="3.3"/><path d="M156.0,312.3 L151.0,309.4 L151.2,303.6 L146.2,300.8 L146.4,295.0 L141.4,292.1 L141.6,286.3" stroke="#c4c4c4" stroke-width="1.81"/><path d="M238.7,237.4 L234.8,233.2 L236.7,227.8 L232.7,223.5" stroke="#a9a9a9" stroke-width="3.3"/><path d="M238.7,237.4 L234.8,233.2 L236.7,227.8 L232.7,223.5" stroke="#c8c8c8" stroke-width="1.81"/><path d="M190.6,408.3 L187.1,403.3 L188.4,397.8 L193.2,397.4 L196.6,402.4 L195.3,407.9 Z" stroke="#a9a9a9" stroke-width="3.3"/><path d="M190.6,408.3 L187.1,403.3 L188.4,397.8 L193.2,397.4 L196.6,402.4 L195.3,407.9 Z" stroke="#cccccc" stroke-width="1.81"/><path d="M189.5,408.6 L187.4,413.7 L181.9,414.1 L180.9,419.0" stroke="#a9a9a9" stroke-width="3.3"/><path d="M189.5,408.6 L187.4,413.7 L181.9,414.1 L180.9,419.0" stroke="#cccccc" stroke-width="1.81"/><path d="M216.3,273.5 L213.0,269.1 L211.9,263.7 L214.0,262.6 L217.3,267.0 L218.4,272.4 Z" stroke="#a9a9a9" stroke-width="3.3"/><path d="M216.3,273.5 L213.0,269.1 L211.9,263.7 L214.0,262.6 L217.3,267.0 L218.4,272.4 Z" stroke="#c4c4c4" stroke-width="1.81"/><path d="M209.6,265.2 L204.7,262.7 L204.7,257.2 L199.9,255.9" stroke="#a9a9a9" stroke-width="3.3"/><path d="M209.6,265.2 L204.7,262.7 L204.7,257.2 L199.9,255.9" stroke="#c4c4c4" stroke-width="1.81"/><path d="M136.5,266.7 L141.6,265.9 L144.6,267.4 L142.5,269.7 L137.3,270.5 L134.3,269.0 Z" stroke="#a9a9a9" stroke-width="3.3"/><path d="M136.5,266.7 L141.6,265.9 L144.6,267.4 L142.5,269.7 L137.3,270.5 L134.3,269.0 Z" stroke="#d6d6d6" stroke-width="1.81"/><path d="M142.2,272.7 L145.0,277.4 L142.1,282.1 L145.4,285.8" stroke="#a9a9a9" stroke-width="3.3"/><path d="M142.2,272.7 L145.0,277.4 L142.1,282.1 L145.4,285.8" stroke="#d6d6d6" stroke-width="1.81"/><path d="M190.4,352.7 L192.9,347.9 L197.8,345.2 L200.3,347.3 L197.8,352.1 L192.9,354.8 Z" stroke="#a9a9a9" stroke-width="3.3"/><path d="M190.4,352.7 L192.9,347.9 L197.8,345.2 L200.3,347.3 L197.8,352.1 L192.9,354.8 Z" stroke="#d6d6d6" stroke-width="1.81"/><path d="M192.3,355.3 L189.5,360.0 L184.0,359.7 L182.4,364.5" stroke="#a9a9a9" stroke-width="3.3"/><path d="M192.3,355.3 L189.5,360.0 L184.0,359.7 L182.4,364.5" stroke="#d6d6d6" stroke-width="1.81"/><path d="M186.1,273.7 L181.6,269.3 L182.5,263.3 L187.9,261.7 L192.5,266.1 L191.6,272.0 Z" stroke="#a9a9a9" stroke-width="3.3"/><path d="M186.1,273.7 L181.6,269.3 L182.5,263.3 L187.9,261.7 L192.5,266.1 L191.6,272.0 Z" stroke="#c8c8c8" stroke-width="1.81"/><path d="M182.0,263.7 L177.7,260.4 L178.7,255.0 L174.3,252.7" stroke="#a9a9a9" stroke-width="3.3"/><path d="M182.0,263.7 L177.7,260.4 L178.7,255.0 L174.3,252.7" stroke="#c8c8c8" stroke-width="1.81"/><path d="M173.7,376.9 L167.9,377.0 L165.2,371.9 L159.4,372.0 L156.7,366.8 L150.9,367.0" stroke="#a9a9a9" stroke-width="3.3"/><path d="M173.7,376.9 L167.9,377.0 L165.2,371.9 L159.4,372.0 L156.7,366.8 L150.9,367.0" stroke="#cccccc" stroke-width="1.81"/><path d="M90.4,237.4 L93.6,232.5 L99.4,232.4 L102.0,237.3 L98.8,242.3 L93.0,242.3 Z" stroke="#a9a9a9" stroke-width="3.3"/><path d="M90.4,237.4 L93.6,232.5 L99.4,232.4 L102.0,237.3 L98.8,242.3 L93.0,242.3 Z" stroke="#d2d2d2" stroke-width="1.81"/><path d="M95.0,243.2 L93.8,248.6 L88.5,250.0 L88.5,255.0" stroke="#a9a9a9" stroke-width="3.3"/><path d="M95.0,243.2 L93.8,248.6 L88.5,250.0 L88.5,255.0" stroke="#d2d2d2" stroke-width="1.81"/><path d="M111.6,384.7 L111.5,379.5 L116.0,376.5 L120.6,378.7 L120.7,383.9 L116.3,386.9 Z" stroke="#a9a9a9" stroke-width="3.3"/><path d="M111.6,384.7 L111.5,379.5 L116.0,376.5 L120.6,378.7 L120.7,383.9 L116.3,386.9 Z" stroke="#cccccc" stroke-width="1.81"/><path d="M117.2,376.4 L118.3,371.1 L123.7,369.6 L123.7,364.6" stroke="#a9a9a9" stroke-width="3.3"/><path d="M117.2,376.4 L118.3,371.1 L123.7,369.6 L123.7,364.6" stroke="#cccccc" stroke-width="1.81"/><path d="M194.6,392.2 L196.8,397.5 L193.1,402.0 L195.3,407.3 L191.6,411.7" stroke="#a9a9a9" stroke-width="3.3"/><path d="M194.6,392.2 L196.8,397.5 L193.1,402.0 L195.3,407.3 L191.6,411.7" stroke="#c8c8c8" stroke-width="1.81"/><path d="M259.3,227.0 L259.0,232.8 L253.7,235.1 L253.3,240.9 L248.0,243.2 L247.7,249.0 L242.4,251.3" stroke="#a9a9a9" stroke-width="3.3"/><path d="M259.3,227.0 L259.0,232.8 L253.7,235.1 L253.3,240.9 L248.0,243.2 L247.7,249.0 L242.4,251.3" stroke="#c4c4c4" stroke-width="1.81"/><path d="M186.8,378.7 L185.4,373.0 L189.7,369.2 L188.3,363.6 L192.6,359.8 L191.2,354.1 L195.5,350.3" stroke="#a9a9a9" stroke-width="3.3"/><path d="M186.8,378.7 L185.4,373.0 L189.7,369.2 L188.3,363.6 L192.6,359.8 L191.2,354.1 L195.5,350.3" stroke="#cccccc" stroke-width="1.81"/><path d="M111.7,283.5 L112.7,289.2 L108.0,292.7 L109.1,298.4 L104.4,301.9" stroke="#a9a9a9" stroke-width="3.3"/><path d="M111.7,283.5 L112.7,289.2 L108.0,292.7 L109.1,298.4 L104.4,301.9" stroke="#d2d2d2" stroke-width="1.81"/><path d="M119.5,238.5 L115.3,234.5 L117.0,228.9 L112.8,224.9 L114.4,219.4 L110.2,215.4 L111.9,209.8" stroke="#a9a9a9" stroke-width="3.3"/><path d="M119.5,238.5 L115.3,234.5 L117.0,228.9 L112.8,224.9 L114.4,219.4 L110.2,215.4 L111.9,209.8" stroke="#cccccc" stroke-width="1.81"/><path d="M183.7,344.6 L182.0,339.0 L186.3,335.1 L184.6,329.5" stroke="#a9a9a9" stroke-width="3.3"/><path d="M183.7,344.6 L182.0,339.0 L186.3,335.1 L184.6,329.5" stroke="#c8c8c8" stroke-width="1.81"/><path d="M240.6,313.5 L238.3,308.2 L242.0,303.7 L239.7,298.4 L243.3,293.9 L241.0,288.6" stroke="#a9a9a9" stroke-width="3.3"/><path d="M240.6,313.5 L238.3,308.2 L242.0,303.7 L239.7,298.4 L243.3,293.9 L241.0,288.6" stroke="#d6d6d6" stroke-width="1.81"/><path d="M261.4,307.0 L256.2,305.4 L254.4,300.0 L257.8,296.2 L263.0,297.8 L264.8,303.2 Z" stroke="#a9a9a9" stroke-width="3.3"/><path d="M261.4,307.0 L256.2,305.4 L254.4,300.0 L257.8,296.2 L263.0,297.8 L264.8,303.2 Z" stroke="#d2d2d2" stroke-width="1.81"/><path d="M253.9,301.4 L248.4,301.2 L246.1,296.2 L241.2,297.0" stroke="#a9a9a9" stroke-width="3.3"/><path d="M253.9,301.4 L248.4,301.2 L246.1,296.2 L241.2,297.0" stroke="#d2d2d2" stroke-width="1.81"/><path d="M238.1,283.6 L233.8,281.8 L232.4,276.7 L235.3,273.5 L239.6,275.3 L241.1,280.3 Z" stroke="#a9a9a9" stroke-width="3.3"/><path d="M238.1,283.6 L233.8,281.8 L232.4,276.7 L235.3,273.5 L239.6,275.3 L241.1,280.3 Z" stroke="#d2d2d2" stroke-width="1.81"/><path d="M231.9,276.4 L226.8,274.3 L226.5,268.8 L221.6,267.8" stroke="#a9a9a9" stroke-width="3.3"/><path d="M231.9,276.4 L226.8,274.3 L226.5,268.8 L221.6,267.8" stroke="#d2d2d2" stroke-width="1.81"/><path d="M149.0,295.3 L152.2,300.2 L149.3,305.2 L152.4,310.0 L149.5,315.1" stroke="#a9a9a9" stroke-width="3.3"/><path d="M149.0,295.3 L152.2,300.2 L149.3,305.2 L152.4,310.0 L149.5,315.1" stroke="#d6d6d6" stroke-width="1.81"/><path d="M221.5,351.8 L216.5,351.0 L214.2,346.7 L216.9,343.1 L221.9,343.9 L224.2,348.2 Z" stroke="#a9a9a9" stroke-width="3.3"/><path d="M221.5,351.8 L216.5,351.0 L214.2,346.7 L216.9,343.1 L221.9,343.9 L224.2,348.2 Z" stroke="#d6d6d6" stroke-width="1.81"/><path d="M215.0,344.5 L210.5,341.4 L211.2,335.9 L206.6,333.9" stroke="#a9a9a9" stroke-width="3.3"/><path d="M215.0,344.5 L210.5,341.4 L211.2,335.9 L206.6,333.9" stroke="#d6d6d6" stroke-width="1.81"/><path d="M213.5,308.2 L215.8,304.7 L221.2,302.7 L224.5,304.1 L222.2,307.5 L216.8,309.6 Z" stroke="#a9a9a9" stroke-width="3.3"/><path d="M213.5,308.2 L215.8,304.7 L221.2,302.7 L224.5,304.1 L222.2,307.5 L216.8,309.6 Z" stroke="#c8c8c8" stroke-width="1.81"/><path d="M213.6,303.8 L208.6,301.6 L208.3,296.1 L203.4,295.0" stroke="#a9a9a9" stroke-width="3.3"/><path d="M213.6,303.8 L208.6,301.6 L208.3,296.1 L203.4,295.0" stroke="#c8c8c8" stroke-width="1.81"/><path d="M242.3,365.8 L245.4,360.8 L251.2,361.3 L254.2,356.4 L260.0,356.9 L263.0,351.9" stroke="#a9a9a9" stroke-width="3.3"/><path d="M242.3,365.8 L245.4,360.8 L251.2,361.3 L254.2,356.4 L260.0,356.9 L263.0,351.9" stroke="#c4c4c4" stroke-width="1.81"/><path d="M149.4,346.4 L155.4,344.4 L160.2,347.9 L159.1,353.4 L153.1,355.5 L148.3,352.0 Z" stroke="#a9a9a9" stroke-width="3.3"/><path d="M149.4,346.4 L155.4,344.4 L160.2,347.9 L159.1,353.4 L153.1,355.5 L148.3,352.0 Z" stroke="#c8c8c8" stroke-width="1.81"/><path d="M154.1,356.3 L153.9,361.8 L149.0,364.1 L149.9,369.0" stroke="#a9a9a9" stroke-width="3.3"/><path d="M154.1,356.3 L153.9,361.8 L149.0,364.1 L149.9,369.0" stroke="#c8c8c8" stroke-width="1.81"/><path d="M104.4,264.0 L99.2,264.9 L93.4,263.3 L92.9,260.9 L98.1,260.1 L103.9,261.6 Z" stroke="#a9a9a9" stroke-width="3.3"/><path d="M104.4,264.0 L99.2,264.9 L93.4,263.3 L92.9,260.9 L98.1,260.1 L103.9,261.6 Z" stroke="#cccccc" stroke-width="1.81"/><path d="M94.3,267.1 L90.5,271.2 L85.2,269.6 L82.6,273.9" stroke="#a9a9a9" stroke-width="3.3"/><path d="M94.3,267.1 L90.5,271.2 L85.2,269.6 L82.6,273.9" stroke="#cccccc" stroke-width="1.81"/><path d="M83.2,334.8 L85.2,328.9 L90.9,327.6 L94.5,332.0 L92.5,337.8 L86.8,339.2 Z" stroke="#a9a9a9" stroke-width="3.3"/><path d="M83.2,334.8 L85.2,328.9 L90.9,327.6 L94.5,332.0 L92.5,337.8 L86.8,339.2 Z" stroke="#d6d6d6" stroke-width="1.81"/><path d="M94.3,330.5 L99.2,327.9 L103.7,331.0 L107.5,327.9" stroke="#a9a9a9" stroke-width="3.3"/><path d="M94.3,330.5 L99.2,327.9 L103.7,331.0 L107.5,327.9" stroke="#d6d6d6" stroke-width="1.81"/><path d="M171.7,305.4 L172.6,299.7 L177.9,297.6 L182.3,301.2 L181.3,306.8 L176.0,309.0 Z" stroke="#a9a9a9" stroke-width="3.3"/><path d="M171.7,305.4 L172.6,299.7 L177.9,297.6 L182.3,301.2 L181.3,306.8 L176.0,309.0 Z" stroke="#cccccc" stroke-width="1.81"/><path d="M172.4,306.9 L168.1,310.3 L163.1,308.0 L159.9,311.9" stroke="#a9a9a9" stroke-width="3.3"/><path d="M172.4,306.9 L168.1,310.3 L163.1,308.0 L159.9,311.9" stroke="#cccccc" stroke-width="1.81"/><path d="M249.6,313.2 L253.8,309.2 L259.3,311.1 L263.4,307.1 L268.9,309.0 L273.1,305.0" stroke="#a9a9a9" stroke-width="3.3"/><path d="M249.6,313.2 L253.8,309.2 L259.3,311.1 L263.4,307.1 L268.9,309.0 L273.1,305.0" stroke="#d6d6d6" stroke-width="1.81"/><path d="M130.1,266.6 L131.0,260.4 L133.6,257.3 L135.3,260.4 L134.4,266.6 L131.8,269.7 Z" stroke="#a9a9a9" stroke-width="3.3"/><path d="M130.1,266.6 L131.0,260.4 L133.6,257.3 L135.3,260.4 L134.4,266.6 L131.8,269.7 Z" stroke="#d2d2d2" stroke-width="1.81"/><path d="M138.9,264.6 L144.3,265.6 L145.9,270.8 L150.9,270.7" stroke="#a9a9a9" stroke-width="3.3"/><path d="M138.9,264.6 L144.3,265.6 L145.9,270.8 L150.9,270.7" stroke="#d2d2d2" stroke-width="1.81"/><path d="M249.3,329.1 L247.7,323.6 L250.9,319.4 L255.6,320.5 L257.2,326.0 L254.1,330.2 Z" stroke="#a9a9a9" stroke-width="3.3"/><path d="M249.3,329.1 L247.7,323.6 L250.9,319.4 L255.6,320.5 L257.2,326.0 L254.1,330.2 Z" stroke="#cccccc" stroke-width="1.81"/><path d="M257.1,328.2 L261.5,331.5 L260.6,336.9 L265.1,339.0" stroke="#a9a9a9" stroke-width="3.3"/><path d="M257.1,328.2 L261.5,331.5 L260.6,336.9 L265.1,339.0" stroke="#cccccc" stroke-width="1.81"/><path d="M203.3,311.7 L198.4,308.7 L198.9,302.9 L194.0,299.8 L194.5,294.0" stroke="#a9a9a9" stroke-width="3.3"/><path d="M203.3,311.7 L198.4,308.7 L198.9,302.9 L194.0,299.8 L194.5,294.0" stroke="#c8c8c8" stroke-width="1.81"/><path d="M236.7,248.8 L233.9,243.7 L237.2,238.9 L234.4,233.8 L237.7,229.0 L234.9,223.9 L238.1,219.1" stroke="#a9a9a9" stroke-width="3.3"/><path d="M236.7,248.8 L233.9,243.7 L237.2,238.9 L234.4,233.8 L237.7,229.0 L234.9,223.9 L238.1,219.1" stroke="#c8c8c8" stroke-width="1.81"/><path d="M251.0,298.9 L247.5,295.5 L246.9,290.3 L249.7,288.6 L253.1,292.0 L253.8,297.1 Z" stroke="#a9a9a9" stroke-width="3.3"/><path d="M251.0,298.9 L247.5,295.5 L246.9,290.3 L249.7,288.6 L253.1,292.0 L253.8,297.1 Z" stroke="#cccccc" stroke-width="1.81"/><path d="M245.2,295.7 L240.1,297.7 L236.0,294.0 L231.7,296.7" stroke="#a9a9a9" stroke-width="3.3"/><path d="M245.2,295.7 L240.1,297.7 L236.0,294.0 L231.7,296.7" stroke="#cccccc" stroke-width="1.81"/><path d="M153.5,339.4 L149.3,343.4 L143.8,341.4 L139.6,345.3" stroke="#a9a9a9" stroke-width="3.3"/><path d="M153.5,339.4 L149.3,343.4 L143.8,341.4 L139.6,345.3" stroke="#d2d2d2" stroke-width="1.81"/><path d="M140.1,312.6 L143.3,307.7 L149.0,308.2 L152.1,303.3 L157.9,303.9" stroke="#a9a9a9" stroke-width="3.3"/><path d="M140.1,312.6 L143.3,307.7 L149.0,308.2 L152.1,303.3 L157.9,303.9" stroke="#d2d2d2" stroke-width="1.81"/><path d="M157.1,377.2 L158.8,372.0 L164.1,369.9 L167.9,373.1 L166.2,378.4 L160.9,380.5 Z" stroke="#a9a9a9" stroke-width="3.3"/><path d="M157.1,377.2 L158.8,372.0 L164.1,369.9 L167.9,373.1 L166.2,378.4 L160.9,380.5 Z" stroke="#d2d2d2" stroke-width="1.81"/><path d="M168.2,373.7 L173.5,372.2 L177.2,376.3 L181.6,374.1" stroke="#a9a9a9" stroke-width="3.3"/><path d="M168.2,373.7 L173.5,372.2 L177.2,376.3 L181.6,374.1" stroke="#d2d2d2" stroke-width="1.81"/><path d="M187.9,353.7 L184.1,358.1 L178.5,356.6 L174.6,361.0" stroke="#a9a9a9" stroke-width="3.3"/><path d="M187.9,353.7 L184.1,358.1 L178.5,356.6 L174.6,361.0" stroke="#d6d6d6" stroke-width="1.81"/><path d="M111.8,262.9 L108.0,261.4 L105.7,256.7 L107.1,253.4 L110.9,254.9 L113.3,259.7 Z" stroke="#a9a9a9" stroke-width="3.3"/><path d="M111.8,262.9 L108.0,261.4 L105.7,256.7 L107.1,253.4 L110.9,254.9 L113.3,259.7 Z" stroke="#c8c8c8" stroke-width="1.81"/><path d="M109.0,252.9 L108.5,247.4 L113.2,244.5 L111.8,239.7" stroke="#a9a9a9" stroke-width="3.3"/><path d="M109.0,252.9 L108.5,247.4 L113.2,244.5 L111.8,239.7" stroke="#c8c8c8" stroke-width="1.81"/><path d="M267.1,269.0 L263.7,273.7 L258.0,272.7 L254.5,277.4 L248.8,276.4" stroke="#a9a9a9" stroke-width="3.3"/><path d="M267.1,269.0 L263.7,273.7 L258.0,272.7 L254.5,277.4 L248.8,276.4" stroke="#d2d2d2" stroke-width="1.81"/><path d="M178.7,341.2 L180.7,337.5 L185.7,335.3 L188.8,336.7 L186.8,340.4 L181.7,342.7 Z" stroke="#a9a9a9" stroke-width="3.3"/><path d="M178.7,341.2 L180.7,337.5 L185.7,335.3 L188.8,336.7 L186.8,340.4 L181.7,342.7 Z" stroke="#d2d2d2" stroke-width="1.81"/><path d="M180.9,343.8 L178.1,348.5 L172.6,348.2 L171.0,352.9" stroke="#a9a9a9" stroke-width="3.3"/><path d="M180.9,343.8 L178.1,348.5 L172.6,348.2 L171.0,352.9" stroke="#d2d2d2" stroke-width="1.81"/><path d="M98.5,363.6 L93.8,363.3 L90.5,359.7 L91.8,356.6 L96.5,357.0 L99.9,360.5 Z" stroke="#a9a9a9" stroke-width="3.3"/><path d="M98.5,363.6 L93.8,363.3 L90.5,359.7 L91.8,356.6 L96.5,357.0 L99.9,360.5 Z" stroke="#d2d2d2" stroke-width="1.81"/><path d="M90.0,359.7 L84.6,359.2 L82.5,354.1 L77.5,354.7" stroke="#a9a9a9" stroke-width="3.3"/><path d="M90.0,359.7 L84.6,359.2 L82.5,354.1 L77.5,354.7" stroke="#d2d2d2" stroke-width="1.81"/><path d="M185.8,323.4 L191.4,324.6 L193.0,330.2 L198.7,331.3 L200.3,336.9 L205.9,338.0" stroke="#a9a9a9" stroke-width="3.3"/><path d="M185.8,323.4 L191.4,324.6 L193.0,330.2 L198.7,331.3 L200.3,336.9 L205.9,338.0" stroke="#d2d2d2" stroke-width="1.81"/><path d="M225.4,281.8 L230.2,278.5 L235.3,281.3 L240.0,278.0 L245.2,280.7 L249.9,277.4 L255.0,280.2" stroke="#a9a9a9" stroke-width="3.3"/><path d="M225.4,281.8 L230.2,278.5 L235.3,281.3 L240.0,278.0 L245.2,280.7 L249.9,277.4 L255.0,280.2" stroke="#d2d2d2" stroke-width="1.81"/><path d="M204.2,289.2 L202.3,294.7 L196.6,295.5 L194.7,301.0" stroke="#a9a9a9" stroke-width="3.3"/><path d="M204.2,289.2 L202.3,294.7 L196.6,295.5 L194.7,301.0" stroke="#d2d2d2" stroke-width="1.81"/><path d="M56.9,282.2 L56.7,276.4 L61.8,273.6 L61.6,267.8" stroke="#a9a9a9" stroke-width="3.3"/><path d="M56.9,282.2 L56.7,276.4 L61.8,273.6 L61.6,267.8" stroke="#d6d6d6" stroke-width="1.81"/><path d="M86.7,257.0 L84.6,252.0 L86.6,246.8 L90.6,246.6 L92.6,251.6 L90.7,256.8 Z" stroke="#a9a9a9" stroke-width="3.3"/><path d="M86.7,257.0 L84.6,252.0 L86.6,246.8 L90.6,246.6 L92.6,251.6 L90.7,256.8 Z" stroke="#c8c8c8" stroke-width="1.81"/><path d="M83.1,253.9 L78.0,255.8 L73.9,252.1 L69.7,254.7" stroke="#a9a9a9" stroke-width="3.3"/><path d="M83.1,253.9 L78.0,255.8 L73.9,252.1 L69.7,254.7" stroke="#c8c8c8" stroke-width="1.81"/><path d="M230.3,339.1 L226.2,338.7 L222.7,334.4 L223.4,330.5 L227.5,330.9 L230.9,335.2 Z" stroke="#a9a9a9" stroke-width="3.3"/><path d="M230.3,339.1 L226.2,338.7 L222.7,334.4 L223.4,330.5 L227.5,330.9 L230.9,335.2 Z" stroke="#c4c4c4" stroke-width="1.81"/><path d="M229.2,339.8 L231.5,344.8 L228.1,349.1 L231.0,353.1" stroke="#a9a9a9" stroke-width="3.3"/><path d="M229.2,339.8 L231.5,344.8 L228.1,349.1 L231.0,353.1" stroke="#c4c4c4" stroke-width="1.81"/><path d="M202.8,258.1 L198.7,254.0 L200.4,248.5 L196.3,244.4 L198.1,238.9" stroke="#a9a9a9" stroke-width="3.3"/><path d="M202.8,258.1 L198.7,254.0 L200.4,248.5 L196.3,244.4 L198.1,238.9" stroke="#d2d2d2" stroke-width="1.81"/><path d="M100.7,289.7 L102.6,284.2 L108.3,283.4 L110.1,277.9" stroke="#a9a9a9" stroke-width="3.3"/><path d="M100.7,289.7 L102.6,284.2 L108.3,283.4 L110.1,277.9" stroke="#d2d2d2" stroke-width="1.81"/><path d="M122.0,269.2 L126.3,273.1 L124.7,278.7 L129.0,282.6 L127.4,288.2" stroke="#a9a9a9" stroke-width="3.3"/><path d="M122.0,269.2 L126.3,273.1 L124.7,278.7 L129.0,282.6 L127.4,288.2" stroke="#d6d6d6" stroke-width="1.81"/><path d="M165.9,226.0 L160.1,226.2 L157.3,221.1 L151.5,221.3 L148.8,216.2" stroke="#a9a9a9" stroke-width="3.3"/><path d="M165.9,226.0 L160.1,226.2 L157.3,221.1 L151.5,221.3 L148.8,216.2" stroke="#c4c4c4" stroke-width="1.81"/><path d="M214.3,355.6 L218.7,351.8 L224.3,353.1 L225.6,358.3 L221.2,362.2 L215.6,360.8 Z" stroke="#a9a9a9" stroke-width="3.3"/><path d="M214.3,355.6 L218.7,351.8 L224.3,353.1 L225.6,358.3 L221.2,362.2 L215.6,360.8 Z" stroke="#d2d2d2" stroke-width="1.81"/><path d="M214.0,356.3 L208.5,355.7 L206.6,350.5 L201.6,350.9" stroke="#a9a9a9" stroke-width="3.3"/><path d="M214.0,356.3 L208.5,355.7 L206.6,350.5 L201.6,350.9" stroke="#d2d2d2" stroke-width="1.81"/><path d="M135.7,297.6 L129.6,297.9 L125.9,294.4 L128.4,290.7 L134.5,290.4 L138.2,293.9 Z" stroke="#a9a9a9" stroke-width="3.3"/><path d="M135.7,297.6 L129.6,297.9 L125.9,294.4 L128.4,290.7 L134.5,290.4 L138.2,293.9 Z" stroke="#c8c8c8" stroke-width="1.81"/><path d="M137.3,290.8 L141.9,287.9 L146.7,290.7 L150.3,287.3" stroke="#a9a9a9" stroke-width="3.3"/><path d="M137.3,290.8 L141.9,287.9 L146.7,290.7 L150.3,287.3" stroke="#c8c8c8" stroke-width="1.81"/><path d="M105.1,313.0 L109.1,309.8 L114.9,310.6 L116.6,314.6 L112.6,317.8 L106.8,317.0 Z" stroke="#a9a9a9" stroke-width="3.3"/><path d="M105.1,313.0 L109.1,309.8 L114.9,310.6 L116.6,314.6 L112.6,317.8 L106.8,317.0 Z" stroke="#d6d6d6" stroke-width="1.81"/><path d="M116.6,315.2 L122.0,316.4 L123.3,321.8 L128.3,321.9" stroke="#a9a9a9" stroke-width="3.3"/><path d="M116.6,315.2 L122.0,316.4 L123.3,321.8 L128.3,321.9" stroke="#d6d6d6" stroke-width="1.81"/><path d="M173.6,360.0 L172.9,365.7 L167.5,367.7 L166.8,373.5" stroke="#a9a9a9" stroke-width="3.3"/><path d="M173.6,360.0 L172.9,365.7 L167.5,367.7 L166.8,373.5" stroke="#c8c8c8" stroke-width="1.81"/><path d="M204.7,306.1 L210.4,307.3 L211.9,312.9 L217.6,314.1" stroke="#a9a9a9" stroke-width="3.3"/><path d="M204.7,306.1 L210.4,307.3 L211.9,312.9 L217.6,314.1" stroke="#d6d6d6" stroke-width="1.81"/><path d="M122.4,293.3 L120.3,287.9 L124.2,283.5 L122.1,278.1 L126.0,273.8 L123.9,268.4" stroke="#a9a9a9" stroke-width="3.3"/><path d="M122.4,293.3 L120.3,287.9 L124.2,283.5 L122.1,278.1 L126.0,273.8 L123.9,268.4" stroke="#d2d2d2" stroke-width="1.81"/><path d="M204.7,280.7 L206.3,286.2 L202.1,290.2 L203.8,295.8" stroke="#a9a9a9" stroke-width="3.3"/><path d="M204.7,280.7 L206.3,286.2 L202.1,290.2 L203.8,295.8" stroke="#d6d6d6" stroke-width="1.81"/><path d="M203.9,412.4 L200.2,416.9 L194.6,415.6 L190.9,420.1 L185.2,418.9 L181.6,423.4 L175.9,422.2" stroke="#a9a9a9" stroke-width="3.3"/><path d="M203.9,412.4 L200.2,416.9 L194.6,415.6 L190.9,420.1 L185.2,418.9 L181.6,423.4 L175.9,422.2" stroke="#cccccc" stroke-width="1.81"/><path d="M65.6,285.3 L70.9,282.9 L75.4,286.6 L80.7,284.2 L85.2,287.8" stroke="#a9a9a9" stroke-width="3.3"/><path d="M65.6,285.3 L70.9,282.9 L75.4,286.6 L80.7,284.2 L85.2,287.8" stroke="#cccccc" stroke-width="1.81"/><path d="M215.1,249.7 L216.5,246.2 L221.0,243.6 L224.2,244.5 L222.7,248.0 L218.2,250.6 Z" stroke="#a9a9a9" stroke-width="3.3"/><path d="M215.1,249.7 L216.5,246.2 L221.0,243.6 L224.2,244.5 L222.7,248.0 L218.2,250.6 Z" stroke="#cccccc" stroke-width="1.81"/><path d="M224.8,248.1 L230.2,249.1 L231.7,254.4 L236.7,254.3" stroke="#a9a9a9" stroke-width="3.3"/><path d="M224.8,248.1 L230.2,249.1 L231.7,254.4 L236.7,254.3" stroke="#cccccc" stroke-width="1.81"/><path d="M164.0,293.6 L166.7,298.8 L163.3,303.5 L166.0,308.6 L162.6,313.3" stroke="#a9a9a9" stroke-width="3.3"/><path d="M164.0,293.6 L166.7,298.8 L163.3,303.5 L166.0,308.6 L162.6,313.3" stroke="#cccccc" stroke-width="1.81"/><path d="M159.5,272.5 L154.1,274.8 L149.7,271.1 L144.3,273.4 L139.9,269.7 L134.6,272.0 L130.1,268.2" stroke="#a9a9a9" stroke-width="3.3"/><path d="M159.5,272.5 L154.1,274.8 L149.7,271.1 L144.3,273.4 L139.9,269.7 L134.6,272.0 L130.1,268.2" stroke="#c4c4c4" stroke-width="1.81"/><path d="M125.7,251.3 L119.9,249.7 L116.3,246.5 L118.5,244.9 L124.3,246.5 L127.9,249.7 Z" stroke="#a9a9a9" stroke-width="3.3"/><path d="M125.7,251.3 L119.9,249.7 L116.3,246.5 L118.5,244.9 L124.3,246.5 L127.9,249.7 Z" stroke="#d6d6d6" stroke-width="1.81"/><path d="M115.9,248.3 L110.4,248.5 L107.7,243.7 L102.9,244.9" stroke="#a9a9a9" stroke-width="3.3"/><path d="M115.9,248.3 L110.4,248.5 L107.7,243.7 L102.9,244.9" stroke="#d6d6d6" stroke-width="1.81"/><path d="M139.4,279.1 L145.1,280.4 L146.6,286.0 L152.2,287.2" stroke="#a9a9a9" stroke-width="3.3"/><path d="M139.4,279.1 L145.1,280.4 L146.6,286.0 L152.2,287.2" stroke="#c4c4c4" stroke-width="1.81"/><path d="M216.1,281.6 L216.9,275.9 L222.4,274.0 L223.3,268.3 L228.8,266.4" stroke="#a9a9a9" stroke-width="3.3"/><path d="M216.1,281.6 L216.9,275.9 L222.4,274.0 L223.3,268.3 L228.8,266.4" stroke="#d6d6d6" stroke-width="1.81"/><path d="M142.8,393.0 L139.7,388.1 L142.6,383.1 L139.5,378.2 L142.4,373.2 L139.3,368.3 L142.2,363.3" stroke="#a9a9a9" stroke-width="3.3"/><path d="M142.8,393.0 L139.7,388.1 L142.6,383.1 L139.5,378.2 L142.4,373.2 L139.3,368.3 L142.2,363.3" stroke="#d2d2d2" stroke-width="1.81"/><path d="M112.4,387.5 L115.8,382.8 L121.5,383.7 L124.9,379.0" stroke="#a9a9a9" stroke-width="3.3"/><path d="M112.4,387.5 L115.8,382.8 L121.5,383.7 L124.9,379.0" stroke="#d2d2d2" stroke-width="1.81"/><path d="M176.8,263.7 L174.7,269.2 L169.0,269.8 L166.9,275.2" stroke="#a9a9a9" stroke-width="3.3"/><path d="M176.8,263.7 L174.7,269.2 L169.0,269.8 L166.9,275.2" stroke="#d6d6d6" stroke-width="1.81"/><path d="M248.3,354.5 L246.1,359.9 L240.3,360.3 L238.1,365.7 L232.3,366.1 L230.1,371.4" stroke="#a9a9a9" stroke-width="3.3"/><path d="M248.3,354.5 L246.1,359.9 L240.3,360.3 L238.1,365.7 L232.3,366.1 L230.1,371.4" stroke="#cccccc" stroke-width="1.81"/><path d="M94.5,343.1 L93.7,337.4 L98.4,334.0 L97.6,328.3 L102.3,325.0 L101.5,319.2" stroke="#a9a9a9" stroke-width="3.3"/><path d="M94.5,343.1 L93.7,337.4 L98.4,334.0 L97.6,328.3 L102.3,325.0 L101.5,319.2" stroke="#c8c8c8" stroke-width="1.81"/><path d="M143.3,229.9 L139.1,226.0 L140.1,220.6 L145.4,219.0 L149.7,222.9 L148.6,228.3 Z" stroke="#a9a9a9" stroke-width="3.3"/><path d="M143.3,229.9 L139.1,226.0 L140.1,220.6 L145.4,219.0 L149.7,222.9 L148.6,228.3 Z" stroke="#c4c4c4" stroke-width="1.81"/><path d="M139.3,227.1 L134.5,229.7 L130.0,226.6 L126.1,229.7" stroke="#a9a9a9" stroke-width="3.3"/><path d="M139.3,227.1 L134.5,229.7 L130.0,226.6 L126.1,229.7" stroke="#c4c4c4" stroke-width="1.81"/><path d="M204.8,374.0 L201.9,370.7 L202.2,365.0 L205.5,362.5 L208.5,365.8 L208.1,371.5 Z" stroke="#a9a9a9" stroke-width="3.3"/><path d="M204.8,374.0 L201.9,370.7 L202.2,365.0 L205.5,362.5 L208.5,365.8 L208.1,371.5 Z" stroke="#cccccc" stroke-width="1.81"/><path d="M210.9,369.0 L216.3,369.7 L218.1,374.9 L223.1,374.5" stroke="#a9a9a9" stroke-width="3.3"/><path d="M210.9,369.0 L216.3,369.7 L218.1,374.9 L223.1,374.5" stroke="#cccccc" stroke-width="1.81"/><path d="M120.0,337.0 L114.5,336.2 L112.1,332.8 L115.3,330.1 L120.8,330.9 L123.1,334.4 Z" stroke="#a9a9a9" stroke-width="3.3"/><path d="M120.0,337.0 L114.5,336.2 L112.1,332.8 L115.3,330.1 L120.8,330.9 L123.1,334.4 Z" stroke="#d2d2d2" stroke-width="1.81"/><path d="M123.2,332.9 L128.6,332.2 L131.7,336.8 L136.4,335.2" stroke="#a9a9a9" stroke-width="3.3"/><path d="M123.2,332.9 L128.6,332.2 L131.7,336.8 L136.4,335.2" stroke="#d2d2d2" stroke-width="1.81"/><path d="M200.0,344.9 L194.8,343.8 L192.0,338.7 L194.5,334.6 L199.8,335.7 L202.5,340.9 Z" stroke="#a9a9a9" stroke-width="3.3"/><path d="M200.0,344.9 L194.8,343.8 L192.0,338.7 L194.5,334.6 L199.8,335.7 L202.5,340.9 Z" stroke="#cccccc" stroke-width="1.81"/><path d="M191.6,338.2 L186.3,336.8 L185.1,331.4 L180.2,331.1" stroke="#a9a9a9" stroke-width="3.3"/><path d="M191.6,338.2 L186.3,336.8 L185.1,331.4 L180.2,331.1" stroke="#cccccc" stroke-width="1.81"/><path d="M127.4,237.3 L133.1,238.6 L134.6,244.2 L140.2,245.4 L141.7,251.0 L147.4,252.3" stroke="#a9a9a9" stroke-width="3.3"/><path d="M127.4,237.3 L133.1,238.6 L134.6,244.2 L140.2,245.4 L141.7,251.0 L147.4,252.3" stroke="#cccccc" stroke-width="1.81"/><path d="M190.2,305.5 L190.2,300.3 L193.8,295.3 L197.4,295.6 L197.5,300.8 L193.8,305.7 Z" stroke="#a9a9a9" stroke-width="3.3"/><path d="M190.2,305.5 L190.2,300.3 L193.8,295.3 L197.4,295.6 L197.5,300.8 L193.8,305.7 Z" stroke="#cccccc" stroke-width="1.81"/><path d="M198.4,304.9 L202.4,308.6 L200.9,313.9 L205.1,316.6" stroke="#a9a9a9" stroke-width="3.3"/><path d="M198.4,304.9 L202.4,308.6 L200.9,313.9 L205.1,316.6" stroke="#cccccc" stroke-width="1.81"/><path d="M215.7,310.9 L221.5,310.8 L224.3,315.9 L230.1,315.8 L232.8,320.9 L238.6,320.8" stroke="#a9a9a9" stroke-width="3.3"/><path d="M215.7,310.9 L221.5,310.8 L224.3,315.9 L230.1,315.8 L232.8,320.9 L238.6,320.8" stroke="#c4c4c4" stroke-width="1.81"/><path d="M225.9,314.8 L222.4,319.4 L216.7,318.4 L213.2,323.0 L207.5,322.0" stroke="#a9a9a9" stroke-width="3.3"/><path d="M225.9,314.8 L222.4,319.4 L216.7,318.4 L213.2,323.0 L207.5,322.0" stroke="#c4c4c4" stroke-width="1.81"/><path d="M91.2,321.8 L86.8,320.0 L84.1,315.7 L85.7,313.2 L90.1,315.1 L92.8,319.3 Z" stroke="#a9a9a9" stroke-width="3.3"/><path d="M91.2,321.8 L86.8,320.0 L84.1,315.7 L85.7,313.2 L90.1,315.1 L92.8,319.3 Z" stroke="#c4c4c4" stroke-width="1.81"/><path d="M93.1,320.3 L97.7,323.2 L97.3,328.7 L102.0,330.4" stroke="#a9a9a9" stroke-width="3.3"/><path d="M93.1,320.3 L97.7,323.2 L97.3,328.7 L102.0,330.4" stroke="#c4c4c4" stroke-width="1.81"/><path d="M98.3,320.5 L95.6,315.8 L95.9,311.2 L98.9,311.4 L101.5,316.1 L101.3,320.7 Z" stroke="#a9a9a9" stroke-width="3.3"/><path d="M98.3,320.5 L95.6,315.8 L95.9,311.2 L98.9,311.4 L101.5,316.1 L101.3,320.7 Z" stroke="#c4c4c4" stroke-width="1.81"/><path d="M93.2,314.3 L88.0,312.6 L87.1,307.2 L82.1,306.7" stroke="#a9a9a9" stroke-width="3.3"/><path d="M93.2,314.3 L88.0,312.6 L87.1,307.2 L82.1,306.7" stroke="#c4c4c4" stroke-width="1.81"/><path d="M132.3,349.8 L128.0,346.2 L127.3,341.1 L130.8,339.6 L135.0,343.2 L135.7,348.2 Z" stroke="#a9a9a9" stroke-width="3.3"/><path d="M132.3,349.8 L128.0,346.2 L127.3,341.1 L130.8,339.6 L135.0,343.2 L135.7,348.2 Z" stroke="#c8c8c8" stroke-width="1.81"/><path d="M131.8,350.5 L132.1,356.0 L127.3,358.7 L128.5,363.5" stroke="#a9a9a9" stroke-width="3.3"/><path d="M131.8,350.5 L132.1,356.0 L127.3,358.7 L128.5,363.5" stroke="#c8c8c8" stroke-width="1.81"/><path d="M145.6,303.8 L151.2,302.3 L154.8,304.5 L152.9,308.1 L147.3,309.6 L143.7,307.4 Z" stroke="#a9a9a9" stroke-width="3.3"/><path d="M145.6,303.8 L151.2,302.3 L154.8,304.5 L152.9,308.1 L147.3,309.6 L143.7,307.4 Z" stroke="#d2d2d2" stroke-width="1.81"/><path d="M152.3,310.9 L155.2,315.6 L152.3,320.3 L155.7,323.9" stroke="#a9a9a9" stroke-width="3.3"/><path d="M152.3,310.9 L155.2,315.6 L152.3,320.3 L155.7,323.9" stroke="#d2d2d2" stroke-width="1.81"/><path d="M199.9,293.5 L194.6,293.7 L191.4,289.4 L193.5,284.7 L198.7,284.5 L201.9,288.9 Z" stroke="#a9a9a9" stroke-width="3.3"/><path d="M199.9,293.5 L194.6,293.7 L191.4,289.4 L193.5,284.7 L198.7,284.5 L201.9,288.9 Z" stroke="#d2d2d2" stroke-width="1.81"/><path d="M201.8,291.0 L206.9,293.0 L207.6,298.4 L212.5,299.2" stroke="#a9a9a9" stroke-width="3.3"/><path d="M201.8,291.0 L206.9,293.0 L207.6,298.4 L212.5,299.2" stroke="#d2d2d2" stroke-width="1.81"/><path d="M180.2,253.8 L175.2,253.2 L172.6,250.1 L175.1,247.5 L180.1,248.1 L182.7,251.2 Z" stroke="#a9a9a9" stroke-width="3.3"/><path d="M180.2,253.8 L175.2,253.2 L172.6,250.1 L175.1,247.5 L180.1,248.1 L182.7,251.2 Z" stroke="#cccccc" stroke-width="1.81"/><path d="M173.8,254.0 L169.6,257.5 L164.5,255.4 L161.4,259.3" stroke="#a9a9a9" stroke-width="3.3"/><path d="M173.8,254.0 L169.6,257.5 L164.5,255.4 L161.4,259.3" stroke="#cccccc" stroke-width="1.81"/><path d="M122.4,363.2 L122.8,357.2 L128.2,354.4 L133.2,357.7 L132.9,363.8 L127.5,366.5 Z" stroke="#a9a9a9" stroke-width="3.3"/><path d="M122.4,363.2 L122.8,357.2 L128.2,354.4 L133.2,357.7 L132.9,363.8 L127.5,366.5 Z" stroke="#d6d6d6" stroke-width="1.81"/><path d="M133.4,358.0 L138.4,355.8 L142.7,359.3 L146.8,356.4" stroke="#a9a9a9" stroke-width="3.3"/><path d="M133.4,358.0 L138.4,355.8 L142.7,359.3 L146.8,356.4" stroke="#d6d6d6" stroke-width="1.81"/><path d="M106.1,248.7 L110.1,245.2 L115.0,245.6 L115.9,249.7 L111.9,253.3 L107.0,252.8 Z" stroke="#a9a9a9" stroke-width="3.3"/><path d="M106.1,248.7 L110.1,245.2 L115.0,245.6 L115.9,249.7 L111.9,253.3 L107.0,252.8 Z" stroke="#d6d6d6" stroke-width="1.81"/><path d="M113.4,244.3 L115.8,239.3 L121.3,239.2 L122.5,234.3" stroke="#a9a9a9" stroke-width="3.3"/><path d="M113.4,244.3 L115.8,239.3 L121.3,239.2 L122.5,234.3" stroke="#d6d6d6" stroke-width="1.81"/><path d="M138.1,402.7 L133.6,398.4 L135.0,392.4 L141.0,390.7 L145.5,395.0 L144.0,401.0 Z" stroke="#a9a9a9" stroke-width="3.3"/><path d="M138.1,402.7 L133.6,398.4 L135.0,392.4 L141.0,390.7 L145.5,395.0 L144.0,401.0 Z" stroke="#c4c4c4" stroke-width="1.81"/><path d="M135.3,392.2 L131.5,388.1 L133.4,383.0 L129.4,380.1" stroke="#a9a9a9" stroke-width="3.3"/><path d="M135.3,392.2 L131.5,388.1 L133.4,383.0 L129.4,380.1" stroke="#c4c4c4" stroke-width="1.81"/><path d="M92.2,274.2 L87.5,274.7 L83.7,271.6 L84.6,268.0 L89.2,267.5 L93.1,270.6 Z" stroke="#a9a9a9" stroke-width="3.3"/><path d="M92.2,274.2 L87.5,274.7 L83.7,271.6 L84.6,268.0 L89.2,267.5 L93.1,270.6 Z" stroke="#d2d2d2" stroke-width="1.81"/><path d="M84.3,274.2 L79.9,277.5 L74.9,275.1 L71.6,278.8" stroke="#a9a9a9" stroke-width="3.3"/><path d="M84.3,274.2 L79.9,277.5 L74.9,275.1 L71.6,278.8" stroke="#d2d2d2" stroke-width="1.81"/><path d="M222.8,327.4 L217.4,328.9 L212.3,325.6 L212.6,320.8 L217.9,319.4 L223.0,322.6 Z" stroke="#a9a9a9" stroke-width="3.3"/><path d="M222.8,327.4 L217.4,328.9 L212.3,325.6 L212.6,320.8 L217.9,319.4 L223.0,322.6 Z" stroke="#c4c4c4" stroke-width="1.81"/><path d="M221.4,319.1 L224.6,314.7 L230.1,315.6 L232.2,311.1" stroke="#a9a9a9" stroke-width="3.3"/><path d="M221.4,319.1 L224.6,314.7 L230.1,315.6 L232.2,311.1" stroke="#c4c4c4" stroke-width="1.81"/><path d="M87.3,285.4 L86.2,280.6 L89.1,276.2 L92.9,276.5 L93.9,281.2 L91.1,285.7 Z" stroke="#a9a9a9" stroke-width="3.3"/><path d="M87.3,285.4 L86.2,280.6 L89.1,276.2 L92.9,276.5 L93.9,281.2 L91.1,285.7 Z" stroke="#d6d6d6" stroke-width="1.81"/><path d="M86.8,276.5 L83.5,272.1 L86.0,267.2 L82.2,263.9" stroke="#a9a9a9" stroke-width="3.3"/><path d="M86.8,276.5 L83.5,272.1 L86.0,267.2 L82.2,263.9" stroke="#d6d6d6" stroke-width="1.81"/><path d="M225.7,267.9 L224.2,273.5 L218.5,274.6 L216.9,280.2 L211.2,281.4 L209.7,286.9 L204.0,288.1" stroke="#a9a9a9" stroke-width="3.3"/><path d="M225.7,267.9 L224.2,273.5 L218.5,274.6 L216.9,280.2 L211.2,281.4 L209.7,286.9 L204.0,288.1" stroke="#cccccc" stroke-width="1.81"/><path d="M227.0,408.1 L224.9,404.1 L226.8,399.0 L230.9,398.1 L233.0,402.1 L231.0,407.2 Z" stroke="#a9a9a9" stroke-width="3.3"/><path d="M227.0,408.1 L224.9,404.1 L226.8,399.0 L230.9,398.1 L233.0,402.1 L231.0,407.2 Z" stroke="#c8c8c8" stroke-width="1.81"/><path d="M233.6,406.0 L238.2,408.8 L237.8,414.3 L242.5,416.0" stroke="#a9a9a9" stroke-width="3.3"/><path d="M233.6,406.0 L238.2,408.8 L237.8,414.3 L242.5,416.0" stroke="#c8c8c8" stroke-width="1.81"/><path d="M192.9,263.2 L187.4,260.4 L187.0,254.3 L192.1,251.1 L197.6,253.9 L198.0,260.0 Z" stroke="#a9a9a9" stroke-width="3.3"/><path d="M192.9,263.2 L187.4,260.4 L187.0,254.3 L192.1,251.1 L197.6,253.9 L198.0,260.0 Z" stroke="#c8c8c8" stroke-width="1.81"/><path d="M187.0,259.9 L182.0,262.4 L177.6,259.1 L173.7,262.2" stroke="#a9a9a9" stroke-width="3.3"/><path d="M187.0,259.9 L182.0,262.4 L177.6,259.1 L173.7,262.2" stroke="#c8c8c8" stroke-width="1.81"/><path d="M148.9,383.1 L149.2,377.8 L151.9,374.9 L154.3,377.4 L154.0,382.7 L151.3,385.6 Z" stroke="#a9a9a9" stroke-width="3.3"/><path d="M148.9,383.1 L149.2,377.8 L151.9,374.9 L154.3,377.4 L154.0,382.7 L151.3,385.6 Z" stroke="#cccccc" stroke-width="1.81"/><path d="M149.6,385.2 L147.5,390.3 L142.0,390.7 L141.0,395.6" stroke="#a9a9a9" stroke-width="3.3"/><path d="M149.6,385.2 L147.5,390.3 L142.0,390.7 L141.0,395.6" stroke="#cccccc" stroke-width="1.81"/><path d="M100.1,335.8 L98.3,341.3 L92.5,342.2 L90.7,347.7 L84.9,348.5 L83.1,354.0 L77.3,354.8" stroke="#a9a9a9" stroke-width="3.3"/><path d="M100.1,335.8 L98.3,341.3 L92.5,342.2 L90.7,347.7 L84.9,348.5 L83.1,354.0 L77.3,354.8" stroke="#c4c4c4" stroke-width="1.81"/><path d="M235.0,363.0 L229.9,363.1 L224.9,361.0 L225.1,358.9 L230.2,358.8 L235.2,360.9 Z" stroke="#a9a9a9" stroke-width="3.3"/><path d="M235.0,363.0 L229.9,363.1 L224.9,361.0 L225.1,358.9 L230.2,358.8 L235.2,360.9 Z" stroke="#c8c8c8" stroke-width="1.81"/><path d="M230.8,366.9 L231.5,372.3 L227.0,375.4 L228.6,380.2" stroke="#a9a9a9" stroke-width="3.3"/><path d="M230.8,366.9 L231.5,372.3 L227.0,375.4 L228.6,380.2" stroke="#c8c8c8" stroke-width="1.81"/><path d="M198.0,321.2 L201.9,317.7 L207.1,318.1 L208.2,321.9 L204.2,325.4 L199.1,325.1 Z" stroke="#a9a9a9" stroke-width="3.3"/><path d="M198.0,321.2 L201.9,317.7 L207.1,318.1 L208.2,321.9 L204.2,325.4 L199.1,325.1 Z" stroke="#d6d6d6" stroke-width="1.81"/><path d="M208.5,320.3 L213.9,319.1 L217.4,323.3 L222.0,321.3" stroke="#a9a9a9" stroke-width="3.3"/><path d="M208.5,320.3 L213.9,319.1 L217.4,323.3 L222.0,321.3" stroke="#d6d6d6" stroke-width="1.81"/><path d="M147.8,273.5 L150.8,268.3 L155.8,267.4 L157.8,271.7 L154.7,276.9 L149.7,277.8 Z" stroke="#a9a9a9" stroke-width="3.3"/><path d="M147.8,273.5 L150.8,268.3 L155.8,267.4 L157.8,271.7 L154.7,276.9 L149.7,277.8 Z" stroke="#d6d6d6" stroke-width="1.81"/><path d="M152.6,266.5 L152.5,261.0 L157.4,258.4 L156.3,253.6" stroke="#a9a9a9" stroke-width="3.3"/><path d="M152.6,266.5 L152.5,261.0 L157.4,258.4 L156.3,253.6" stroke="#d6d6d6" stroke-width="1.81"/><path d="M135.7,347.5 L135.8,342.0 L140.0,339.4 L144.2,342.1 L144.1,347.6 L139.8,350.2 Z" stroke="#a9a9a9" stroke-width="3.3"/><path d="M135.7,347.5 L135.8,342.0 L140.0,339.4 L144.2,342.1 L144.1,347.6 L139.8,350.2 Z" stroke="#cccccc" stroke-width="1.81"/><path d="M144.1,348.3 L148.3,351.8 L147.1,357.2 L151.5,359.5" stroke="#a9a9a9" stroke-width="3.3"/><path d="M144.1,348.3 L148.3,351.8 L147.1,357.2 L151.5,359.5" stroke="#cccccc" stroke-width="1.81"/><path d="M149.2,246.6 L143.6,245.0 L142.5,239.4 L136.9,237.8 L135.8,232.1 L130.2,230.5 L129.1,224.8" stroke="#a9a9a9" stroke-width="3.3"/><path d="M149.2,246.6 L143.6,245.0 L142.5,239.4 L136.9,237.8 L135.8,232.1 L130.2,230.5 L129.1,224.8" stroke="#c8c8c8" stroke-width="1.81"/><path d="M196.8,329.9 L191.9,328.3 L188.5,324.5 L190.0,322.3 L194.9,323.8 L198.3,327.7 Z" stroke="#a9a9a9" stroke-width="3.3"/><path d="M196.8,329.9 L191.9,328.3 L188.5,324.5 L190.0,322.3 L194.9,323.8 L198.3,327.7 Z" stroke="#c4c4c4" stroke-width="1.81"/><path d="M189.5,321.9 L185.7,317.9 L187.6,312.7 L183.5,309.8" stroke="#a9a9a9" stroke-width="3.3"/><path d="M189.5,321.9 L185.7,317.9 L187.6,312.7 L183.5,309.8" stroke="#c4c4c4" stroke-width="1.81"/><path d="M126.4,381.5 L128.0,376.1 L133.0,374.0 L136.4,377.3 L134.8,382.7 L129.8,384.8 Z" stroke="#a9a9a9" stroke-width="3.3"/><path d="M126.4,381.5 L128.0,376.1 L133.0,374.0 L136.4,377.3 L134.8,382.7 L129.8,384.8 Z" stroke="#c4c4c4" stroke-width="1.81"/><path d="M137.2,379.8 L142.7,380.2 L144.8,385.2 L149.8,384.6" stroke="#a9a9a9" stroke-width="3.3"/><path d="M137.2,379.8 L142.7,380.2 L144.8,385.2 L149.8,384.6" stroke="#c4c4c4" stroke-width="1.81"/><path d="M99.9,230.3 L101.2,226.4 L106.5,223.6 L110.4,224.7 L109.1,228.6 L103.9,231.4 Z" stroke="#a9a9a9" stroke-width="3.3"/><path d="M99.9,230.3 L101.2,226.4 L106.5,223.6 L110.4,224.7 L109.1,228.6 L103.9,231.4 Z" stroke="#cccccc" stroke-width="1.81"/><path d="M100.1,224.4 L95.4,221.6 L95.7,216.1 L91.0,214.4" stroke="#a9a9a9" stroke-width="3.3"/><path d="M100.1,224.4 L95.4,221.6 L95.7,216.1 L91.0,214.4" stroke="#cccccc" stroke-width="1.81"/><path d="M152.2,242.4 L153.3,237.2 L156.9,233.7 L159.4,235.3 L158.3,240.4 L154.7,244.0 Z" stroke="#a9a9a9" stroke-width="3.3"/><path d="M152.2,242.4 L153.3,237.2 L156.9,233.7 L159.4,235.3 L158.3,240.4 L154.7,244.0 Z" stroke="#cccccc" stroke-width="1.81"/><path d="M150.2,237.7 L144.8,236.6 L143.3,231.3 L138.3,231.3" stroke="#a9a9a9" stroke-width="3.3"/><path d="M150.2,237.7 L144.8,236.6 L143.3,231.3 L138.3,231.3" stroke="#cccccc" stroke-width="1.81"/><path d="M117.4,355.4 L111.6,354.9 L109.5,349.5 L103.7,349.0 L101.5,343.6 L95.7,343.1 L93.6,337.7" stroke="#a9a9a9" stroke-width="3.3"/><path d="M117.4,355.4 L111.6,354.9 L109.5,349.5 L103.7,349.0 L101.5,343.6 L95.7,343.1 L93.6,337.7" stroke="#d2d2d2" stroke-width="1.81"/><path d="M197.0,277.2 L192.8,277.1 L187.8,273.8 L186.9,270.6 L191.0,270.7 L196.1,274.0 Z" stroke="#a9a9a9" stroke-width="3.3"/><path d="M197.0,277.2 L192.8,277.1 L187.8,273.8 L186.9,270.6 L191.0,270.7 L196.1,274.0 Z" stroke="#d2d2d2" stroke-width="1.81"/><path d="M185.9,273.0 L180.5,272.3 L178.7,267.1 L173.7,267.4" stroke="#a9a9a9" stroke-width="3.3"/><path d="M185.9,273.0 L180.5,272.3 L178.7,267.1 L173.7,267.4" stroke="#d2d2d2" stroke-width="1.81"/><path d="M129.0,339.4 L123.6,337.2 L123.2,331.4 L117.8,329.2" stroke="#a9a9a9" stroke-width="3.3"/><path d="M129.0,339.4 L123.6,337.2 L123.2,331.4 L117.8,329.2" stroke="#d6d6d6" stroke-width="1.81"/><path d="M130.0,224.7 L125.6,222.4 L122.6,217.5 L124.0,215.0 L128.4,217.4 L131.4,222.2 Z" stroke="#a9a9a9" stroke-width="3.3"/><path d="M130.0,224.7 L125.6,222.4 L122.6,217.5 L124.0,215.0 L128.4,217.4 L131.4,222.2 Z" stroke="#c4c4c4" stroke-width="1.81"/><path d="M131.8,223.4 L136.3,226.6 L135.5,232.0 L140.0,234.1" stroke="#a9a9a9" stroke-width="3.3"/><path d="M131.8,223.4 L136.3,226.6 L135.5,232.0 L140.0,234.1" stroke="#c4c4c4" stroke-width="1.81"/><path d="M222.8,412.1 L218.6,409.6 L216.1,406.0 L217.8,405.0 L222.0,407.5 L224.5,411.1 Z" stroke="#a9a9a9" stroke-width="3.3"/><path d="M222.8,412.1 L218.6,409.6 L216.1,406.0 L217.8,405.0 L222.0,407.5 L224.5,411.1 Z" stroke="#c4c4c4" stroke-width="1.81"/><path d="M216.1,411.8 L211.7,415.1 L206.8,412.7 L203.5,416.5" stroke="#a9a9a9" stroke-width="3.3"/><path d="M216.1,411.8 L211.7,415.1 L206.8,412.7 L203.5,416.5" stroke="#c4c4c4" stroke-width="1.81"/><path d="M100.2,269.8 L103.9,267.4 L109.5,266.7 L111.5,268.5 L107.8,270.9 L102.1,271.6 Z" stroke="#a9a9a9" stroke-width="3.3"/><path d="M100.2,269.8 L103.9,267.4 L109.5,266.7 L111.5,268.5 L107.8,270.9 L102.1,271.6 Z" stroke="#cccccc" stroke-width="1.81"/><path d="M109.4,264.5 L112.8,260.1 L118.2,261.2 L120.4,256.7" stroke="#a9a9a9" stroke-width="3.3"/><path d="M109.4,264.5 L112.8,260.1 L118.2,261.2 L120.4,256.7" stroke="#cccccc" stroke-width="1.81"/><path d="M165.0,375.9 L159.8,373.7 L157.2,368.5 L159.8,365.6 L164.9,367.8 L167.5,373.0 Z" stroke="#a9a9a9" stroke-width="3.3"/><path d="M165.0,375.9 L159.8,373.7 L157.2,368.5 L159.8,365.6 L164.9,367.8 L167.5,373.0 Z" stroke="#c8c8c8" stroke-width="1.81"/><path d="M167.1,366.7 L171.3,363.1 L176.4,365.2 L179.4,361.3" stroke="#a9a9a9" stroke-width="3.3"/><path d="M167.1,366.7 L171.3,363.1 L176.4,365.2 L179.4,361.3" stroke="#c8c8c8" stroke-width="1.81"/><path d="M107.8,353.0 L104.1,349.0 L103.4,344.6 L106.3,344.2 L110.0,348.1 L110.7,352.5 Z" stroke="#a9a9a9" stroke-width="3.3"/><path d="M107.8,353.0 L104.1,349.0 L103.4,344.6 L106.3,344.2 L110.0,348.1 L110.7,352.5 Z" stroke="#cccccc" stroke-width="1.81"/><path d="M111.0,344.7 L114.9,340.8 L120.1,342.5 L122.9,338.3" stroke="#a9a9a9" stroke-width="3.3"/><path d="M111.0,344.7 L114.9,340.8 L120.1,342.5 L122.9,338.3" stroke="#cccccc" stroke-width="1.81"/><path d="M147.0,257.0 L143.5,254.6 L141.5,248.7 L142.9,245.4 L146.4,247.8 L148.5,253.7 Z" stroke="#a9a9a9" stroke-width="3.3"/><path d="M147.0,257.0 L143.5,254.6 L141.5,248.7 L142.9,245.4 L146.4,247.8 L148.5,253.7 Z" stroke="#d6d6d6" stroke-width="1.81"/><path d="M151.2,251.5 L156.7,251.8 L158.9,256.8 L163.9,256.0" stroke="#a9a9a9" stroke-width="3.3"/><path d="M151.2,251.5 L156.7,251.8 L158.9,256.8 L163.9,256.0" stroke="#d6d6d6" stroke-width="1.81"/><path d="M236.0,274.0 L231.1,271.9 L230.1,266.5 L234.0,263.3 L238.9,265.3 L239.9,270.7 Z" stroke="#a9a9a9" stroke-width="3.3"/><path d="M236.0,274.0 L231.1,271.9 L230.1,266.5 L234.0,263.3 L238.9,265.3 L239.9,270.7 Z" stroke="#c8c8c8" stroke-width="1.81"/><path d="M231.8,264.1 L228.6,259.7 L231.1,254.8 L227.5,251.4" stroke="#a9a9a9" stroke-width="3.3"/><path d="M231.8,264.1 L228.6,259.7 L231.1,254.8 L227.5,251.4" stroke="#c8c8c8" stroke-width="1.81"/><path d="M246.7,344.9 L244.4,339.5 L245.9,334.0 L249.7,334.0 L252.0,339.4 L250.5,344.8 Z" stroke="#a9a9a9" stroke-width="3.3"/><path d="M246.7,344.9 L244.4,339.5 L245.9,334.0 L249.7,334.0 L252.0,339.4 L250.5,344.8 Z" stroke="#cccccc" stroke-width="1.81"/><path d="M244.7,344.6 L241.6,349.2 L236.2,348.5 L234.2,353.2" stroke="#a9a9a9" stroke-width="3.3"/><path d="M244.7,344.6 L241.6,349.2 L236.2,348.5 L234.2,353.2" stroke="#cccccc" stroke-width="1.81"/><path d="M166.8,336.1 L168.2,331.4 L172.3,327.5 L175.0,328.3 L173.6,333.0 L169.5,336.9 Z" stroke="#a9a9a9" stroke-width="3.3"/><path d="M166.8,336.1 L168.2,331.4 L172.3,327.5 L175.0,328.3 L173.6,333.0 L169.5,336.9 Z" stroke="#d6d6d6" stroke-width="1.81"/><path d="M175.9,335.5 L180.5,338.5 L179.9,344.0 L184.5,345.8" stroke="#a9a9a9" stroke-width="3.3"/><path d="M175.9,335.5 L180.5,338.5 L179.9,344.0 L184.5,345.8" stroke="#d6d6d6" stroke-width="1.81"/><path d="M87.5,378.1 L81.9,379.2 L78.2,374.7 L72.6,375.9 L68.9,371.4" stroke="#a9a9a9" stroke-width="3.3"/><path d="M87.5,378.1 L81.9,379.2 L78.2,374.7 L72.6,375.9 L68.9,371.4" stroke="#c8c8c8" stroke-width="1.81"/><path d="M141.6,326.5 L146.8,329.0 L146.9,334.8 L152.1,337.3 L152.3,343.1" stroke="#a9a9a9" stroke-width="3.3"/><path d="M141.6,326.5 L146.8,329.0 L146.9,334.8 L152.1,337.3 L152.3,343.1" stroke="#d6d6d6" stroke-width="1.81"/><path d="M102.6,311.9 L98.4,308.7 L97.7,303.7 L101.4,301.9 L105.7,305.1 L106.3,310.1 Z" stroke="#a9a9a9" stroke-width="3.3"/><path d="M102.6,311.9 L98.4,308.7 L97.7,303.7 L101.4,301.9 L105.7,305.1 L106.3,310.1 Z" stroke="#c8c8c8" stroke-width="1.81"/><path d="M96.5,307.7 L91.1,308.6 L87.9,304.1 L83.2,305.8" stroke="#a9a9a9" stroke-width="3.3"/><path d="M96.5,307.7 L91.1,308.6 L87.9,304.1 L83.2,305.8" stroke="#c8c8c8" stroke-width="1.81"/><path d="M240.4,403.5 L235.4,403.4 L232.1,398.9 L233.7,394.5 L238.7,394.6 L242.1,399.1 Z" stroke="#a9a9a9" stroke-width="3.3"/><path d="M240.4,403.5 L235.4,403.4 L232.1,398.9 L233.7,394.5 L238.7,394.6 L242.1,399.1 Z" stroke="#d2d2d2" stroke-width="1.81"/><path d="M241.6,395.7 L246.1,392.4 L251.0,394.9 L254.3,391.2" stroke="#a9a9a9" stroke-width="3.3"/><path d="M241.6,395.7 L246.1,392.4 L251.0,394.9 L254.3,391.2" stroke="#d2d2d2" stroke-width="1.81"/><path d="M112.8,334.3 L110.4,339.6 L104.6,339.9 L102.3,345.2 L96.5,345.5" stroke="#a9a9a9" stroke-width="3.3"/><path d="M112.8,334.3 L110.4,339.6 L104.6,339.9 L102.3,345.2 L96.5,345.5" stroke="#c4c4c4" stroke-width="1.81"/><path d="M197.3,324.2 L194.4,320.0 L195.8,314.0 L200.0,312.1 L202.9,316.3 L201.5,322.4 Z" stroke="#a9a9a9" stroke-width="3.3"/><path d="M197.3,324.2 L194.4,320.0 L195.8,314.0 L200.0,312.1 L202.9,316.3 L201.5,322.4 Z" stroke="#c4c4c4" stroke-width="1.81"/><path d="M197.9,324.3 L197.2,329.8 L192.0,331.6 L192.3,336.6" stroke="#a9a9a9" stroke-width="3.3"/><path d="M197.9,324.3 L197.2,329.8 L192.0,331.6 L192.3,336.6" stroke="#c4c4c4" stroke-width="1.81"/><path d="M136.4,370.3 L137.4,366.3 L141.3,361.8 L144.2,361.3 L143.2,365.3 L139.3,369.8 Z" stroke="#a9a9a9" stroke-width="3.3"/><path d="M136.4,370.3 L137.4,366.3 L141.3,361.8 L144.2,361.3 L143.2,365.3 L139.3,369.8 Z" stroke="#d6d6d6" stroke-width="1.81"/><path d="M138.3,360.1 L136.4,355.0 L140.1,350.9 L137.5,346.7" stroke="#a9a9a9" stroke-width="3.3"/><path d="M138.3,360.1 L136.4,355.0 L140.1,350.9 L137.5,346.7" stroke="#d6d6d6" stroke-width="1.81"/><path d="M136.1,316.8 L131.5,315.0 L129.4,309.5 L132.0,305.7 L136.5,307.4 L138.6,313.0 Z" stroke="#a9a9a9" stroke-width="3.3"/><path d="M136.1,316.8 L131.5,315.0 L129.4,309.5 L132.0,305.7 L136.5,307.4 L138.6,313.0 Z" stroke="#d2d2d2" stroke-width="1.81"/><path d="M128.1,311.2 L122.6,311.2 L120.1,306.3 L115.2,307.3" stroke="#a9a9a9" stroke-width="3.3"/><path d="M128.1,311.2 L122.6,311.2 L120.1,306.3 L115.2,307.3" stroke="#d2d2d2" stroke-width="1.81"/><path d="M68.2,240.5 L69.7,236.4 L74.9,233.4 L78.6,234.5 L77.1,238.6 L71.9,241.6 Z" stroke="#a9a9a9" stroke-width="3.3"/><path d="M68.2,240.5 L69.7,236.4 L74.9,233.4 L78.6,234.5 L77.1,238.6 L71.9,241.6 Z" stroke="#c8c8c8" stroke-width="1.81"/><path d="M68.6,241.1 L64.1,244.3 L59.2,241.9 L55.9,245.6" stroke="#a9a9a9" stroke-width="3.3"/><path d="M68.6,241.1 L64.1,244.3 L59.2,241.9 L55.9,245.6" stroke="#c8c8c8" stroke-width="1.81"/><path d="M103.8,354.4 L108.8,350.6 L114.5,352.6 L115.2,358.4 L110.3,362.2 L104.6,360.2 Z" stroke="#a9a9a9" stroke-width="3.3"/><path d="M103.8,354.4 L108.8,350.6 L114.5,352.6 L115.2,358.4 L110.3,362.2 L104.6,360.2 Z" stroke="#c8c8c8" stroke-width="1.81"/><path d="M113.8,361.0 L117.5,365.1 L115.5,370.2 L119.6,373.2" stroke="#a9a9a9" stroke-width="3.3"/><path d="M113.8,361.0 L117.5,365.1 L115.5,370.2 L119.6,373.2" stroke="#c8c8c8" stroke-width="1.81"/><path d="M149.9,384.8 L154.8,382.2 L159.3,384.1 L159.0,388.6 L154.2,391.2 L149.7,389.3 Z" stroke="#a9a9a9" stroke-width="3.3"/><path d="M149.9,384.8 L154.8,382.2 L159.3,384.1 L159.0,388.6 L154.2,391.2 L149.7,389.3 Z" stroke="#c8c8c8" stroke-width="1.81"/><path d="M159.9,387.6 L165.4,388.5 L167.0,393.7 L172.0,393.5" stroke="#a9a9a9" stroke-width="3.3"/><path d="M159.9,387.6 L165.4,388.5 L167.0,393.7 L172.0,393.5" stroke="#c8c8c8" stroke-width="1.81"/><path d="M157.9,330.7 L152.3,330.6 L148.3,326.1 L150.0,321.6 L155.7,321.8 L159.6,326.3 Z" stroke="#a9a9a9" stroke-width="3.3"/><path d="M157.9,330.7 L152.3,330.6 L148.3,326.1 L150.0,321.6 L155.7,321.8 L159.6,326.3 Z" stroke="#d6d6d6" stroke-width="1.81"/><path d="M158.6,330.3 L162.7,333.9 L161.4,339.2 L165.7,341.7" stroke="#a9a9a9" stroke-width="3.3"/><path d="M158.6,330.3 L162.7,333.9 L161.4,339.2 L165.7,341.7" stroke="#d6d6d6" stroke-width="1.81"/><path d="M228.6,321.1 L226.2,326.4 L220.4,326.7 L218.1,332.0" stroke="#a9a9a9" stroke-width="3.3"/><path d="M228.6,321.1 L226.2,326.4 L220.4,326.7 L218.1,332.0" stroke="#c4c4c4" stroke-width="1.81"/><path d="M213.5,350.1 L209.3,351.7 L204.5,350.1 L203.8,346.9 L207.9,345.3 L212.8,346.9 Z" stroke="#a9a9a9" stroke-width="3.3"/><path d="M213.5,350.1 L209.3,351.7 L204.5,350.1 L203.8,346.9 L207.9,345.3 L212.8,346.9 Z" stroke="#c4c4c4" stroke-width="1.81"/><path d="M206.6,353.4 L204.6,358.5 L199.1,359.0 L198.2,363.9" stroke="#a9a9a9" stroke-width="3.3"/><path d="M206.6,353.4 L204.6,358.5 L199.1,359.0 L198.2,363.9" stroke="#c4c4c4" stroke-width="1.81"/><path d="M186.6,292.6 L180.8,293.3 L177.6,288.4 L171.9,289.0 L168.7,284.2" stroke="#a9a9a9" stroke-width="3.3"/><path d="M186.6,292.6 L180.8,293.3 L177.6,288.4 L171.9,289.0 L168.7,284.2" stroke="#d2d2d2" stroke-width="1.81"/><path d="M184.9,305.5 L179.5,306.5 L175.3,304.4 L176.4,301.2 L181.7,300.2 L185.9,302.3 Z" stroke="#a9a9a9" stroke-width="3.3"/><path d="M184.9,305.5 L179.5,306.5 L175.3,304.4 L176.4,301.2 L181.7,300.2 L185.9,302.3 Z" stroke="#c4c4c4" stroke-width="1.81"/><path d="M183.5,298.5 L186.2,293.7 L191.7,294.1 L193.3,289.3" stroke="#a9a9a9" stroke-width="3.3"/><path d="M183.5,298.5 L186.2,293.7 L191.7,294.1 L193.3,289.3" stroke="#c4c4c4" stroke-width="1.81"/><path d="M144.0,235.9 L148.4,232.1 L153.8,234.3 L158.2,230.5" stroke="#a9a9a9" stroke-width="3.3"/><path d="M144.0,235.9 L148.4,232.1 L153.8,234.3 L158.2,230.5" stroke="#c8c8c8" stroke-width="1.81"/><path d="M241.5,276.8 L246.4,274.7 L250.6,275.9 L249.9,279.2 L245.0,281.3 L240.8,280.1 Z" stroke="#a9a9a9" stroke-width="3.3"/><path d="M241.5,276.8 L246.4,274.7 L250.6,275.9 L249.9,279.2 L245.0,281.3 L240.8,280.1 Z" stroke="#cccccc" stroke-width="1.81"/><path d="M241.0,280.7 L236.2,283.4 L231.6,280.4 L227.9,283.7" stroke="#a9a9a9" stroke-width="3.3"/><path d="M241.0,280.7 L236.2,283.4 L231.6,280.4 L227.9,283.7" stroke="#cccccc" stroke-width="1.81"/><path d="M154.9,284.8 L156.9,290.2 L153.0,294.5 L155.0,299.9 L151.1,304.2" stroke="#a9a9a9" stroke-width="3.3"/><path d="M154.9,284.8 L156.9,290.2 L153.0,294.5 L155.0,299.9 L151.1,304.2" stroke="#d6d6d6" stroke-width="1.81"/><path d="M117.7,307.2 L115.8,301.9 L117.5,296.2 L121.1,295.9 L123.0,301.2 L121.3,306.8 Z" stroke="#a9a9a9" stroke-width="3.3"/><path d="M117.7,307.2 L115.8,301.9 L117.5,296.2 L121.1,295.9 L123.0,301.2 L121.3,306.8 Z" stroke="#cccccc" stroke-width="1.81"/><path d="M117.0,295.7 L114.9,290.6 L118.5,286.4 L115.8,282.3" stroke="#a9a9a9" stroke-width="3.3"/><path d="M117.0,295.7 L114.9,290.6 L118.5,286.4 L115.8,282.3" stroke="#cccccc" stroke-width="1.81"/><path d="M181.8,225.2 L178.7,230.1 L172.9,229.5 L169.8,234.4 L164.0,233.8" stroke="#a9a9a9" stroke-width="3.3"/><path d="M181.8,225.2 L178.7,230.1 L172.9,229.5 L169.8,234.4 L164.0,233.8" stroke="#d6d6d6" stroke-width="1.81"/><path d="M161.3,279.7 L156.5,283.1 L151.4,280.4 L146.7,283.7 L141.5,281.0" stroke="#a9a9a9" stroke-width="3.3"/><path d="M161.3,279.7 L156.5,283.1 L151.4,280.4 L146.7,283.7 L141.5,281.0" stroke="#c4c4c4" stroke-width="1.81"/><path d="M158.5,318.3 L158.8,312.4 L161.6,308.8 L164.3,311.1 L164.1,317.0 L161.2,320.5 Z" stroke="#a9a9a9" stroke-width="3.3"/><path d="M158.5,318.3 L158.8,312.4 L161.6,308.8 L164.3,311.1 L164.1,317.0 L161.2,320.5 Z" stroke="#d2d2d2" stroke-width="1.81"/><path d="M167.3,313.5 L172.7,312.5 L176.1,316.8 L180.7,314.9" stroke="#a9a9a9" stroke-width="3.3"/><path d="M167.3,313.5 L172.7,312.5 L176.1,316.8 L180.7,314.9" stroke="#d2d2d2" stroke-width="1.81"/><path d="M231.6,292.6 L235.7,288.5 L241.2,290.3 L245.4,286.2 L250.9,288.1" stroke="#a9a9a9" stroke-width="3.3"/><path d="M231.6,292.6 L235.7,288.5 L241.2,290.3 L245.4,286.2 L250.9,288.1" stroke="#d2d2d2" stroke-width="1.81"/><path d="M178.4,291.5 L174.1,292.0 L169.4,289.1 L169.0,285.8 L173.4,285.3 L178.1,288.1 Z" stroke="#a9a9a9" stroke-width="3.3"/><path d="M178.4,291.5 L174.1,292.0 L169.4,289.1 L169.0,285.8 L173.4,285.3 L178.1,288.1 Z" stroke="#d2d2d2" stroke-width="1.81"/><path d="M172.2,283.3 L170.8,278.0 L174.8,274.2 L172.5,269.8" stroke="#a9a9a9" stroke-width="3.3"/><path d="M172.2,283.3 L170.8,278.0 L174.8,274.2 L172.5,269.8" stroke="#d2d2d2" stroke-width="1.81"/><path d="M104.2,294.5 L108.4,291.9 L113.3,292.7 L113.9,296.1 L109.6,298.6 L104.8,297.8 Z" stroke="#a9a9a9" stroke-width="3.3"/><path d="M104.2,294.5 L108.4,291.9 L113.3,292.7 L113.9,296.1 L109.6,298.6 L104.8,297.8 Z" stroke="#d6d6d6" stroke-width="1.81"/><path d="M105.9,299.6 L102.6,304.0 L97.2,303.1 L95.0,307.6" stroke="#a9a9a9" stroke-width="3.3"/><path d="M105.9,299.6 L102.6,304.0 L97.2,303.1 L95.0,307.6" stroke="#d6d6d6" stroke-width="1.81"/><path d="M149.2,403.2 L150.1,397.7 L153.7,393.9 L156.2,395.6 L155.3,401.1 L151.7,404.9 Z" stroke="#a9a9a9" stroke-width="3.3"/><path d="M149.2,403.2 L150.1,397.7 L153.7,393.9 L156.2,395.6 L155.3,401.1 L151.7,404.9 Z" stroke="#c8c8c8" stroke-width="1.81"/><path d="M157.1,403.4 L161.2,407.2 L159.7,412.5 L164.0,415.0" stroke="#a9a9a9" stroke-width="3.3"/><path d="M157.1,403.4 L161.2,407.2 L159.7,412.5 L164.0,415.0" stroke="#c8c8c8" stroke-width="1.81"/><path d="M206.9,360.8 L202.0,357.7 L202.5,352.0 L197.6,348.9 L198.1,343.1" stroke="#a9a9a9" stroke-width="3.3"/><path d="M206.9,360.8 L202.0,357.7 L202.5,352.0 L197.6,348.9 L198.1,343.1" stroke="#d6d6d6" stroke-width="1.81"/><path d="M119.8,388.4 L119.9,382.6 L125.1,380.0 L125.2,374.2 L130.4,371.6 L130.5,365.8 L135.7,363.3" stroke="#a9a9a9" stroke-width="3.3"/><path d="M119.8,388.4 L119.9,382.6 L125.1,380.0 L125.2,374.2 L130.4,371.6 L130.5,365.8 L135.7,363.3" stroke="#d2d2d2" stroke-width="1.81"/><path d="M122.0,260.3 L117.3,256.8 L118.3,251.1 L113.7,247.6" stroke="#a9a9a9" stroke-width="3.3"/><path d="M122.0,260.3 L117.3,256.8 L118.3,251.1 L113.7,247.6" stroke="#d6d6d6" stroke-width="1.81"/><path d="M169.6,249.8 L165.9,250.0 L161.7,246.8 L161.3,243.4 L165.0,243.2 L169.2,246.4 Z" stroke="#a9a9a9" stroke-width="3.3"/><path d="M169.6,249.8 L165.9,250.0 L161.7,246.8 L161.3,243.4 L165.0,243.2 L169.2,246.4 Z" stroke="#cccccc" stroke-width="1.81"/><path d="M163.9,241.5 L162.2,236.3 L166.2,232.4 L163.7,228.0" stroke="#a9a9a9" stroke-width="3.3"/><path d="M163.9,241.5 L162.2,236.3 L166.2,232.4 L163.7,228.0" stroke="#cccccc" stroke-width="1.81"/><path d="M162.7,325.4 L163.1,331.2 L158.2,334.2 L158.7,340.0 L153.7,343.1" stroke="#a9a9a9" stroke-width="3.3"/><path d="M162.7,325.4 L163.1,331.2 L158.2,334.2 L158.7,340.0 L153.7,343.1" stroke="#d6d6d6" stroke-width="1.81"/><path d="M90.5,293.6 L95.6,296.4 L95.4,302.2 L100.5,305.0 L100.3,310.8 L105.3,313.6" stroke="#a9a9a9" stroke-width="3.3"/><path d="M90.5,293.6 L95.6,296.4 L95.4,302.2 L100.5,305.0 L100.3,310.8 L105.3,313.6" stroke="#d6d6d6" stroke-width="1.81"/><path d="M177.1,393.6 L181.0,389.5 L185.3,389.7 L185.8,393.9 L181.9,398.0 L177.5,397.8 Z" stroke="#a9a9a9" stroke-width="3.3"/><path d="M177.1,393.6 L181.0,389.5 L185.3,389.7 L185.8,393.9 L181.9,398.0 L177.5,397.8 Z" stroke="#cccccc" stroke-width="1.81"/><path d="M178.7,398.7 L176.0,403.5 L170.5,403.2 L168.9,408.0" stroke="#a9a9a9" stroke-width="3.3"/><path d="M178.7,398.7 L176.0,403.5 L170.5,403.2 L168.9,408.0" stroke="#cccccc" stroke-width="1.81"/><path d="M147.7,354.7 L152.2,350.8 L156.7,351.4 L156.8,355.8 L152.3,359.7 L147.8,359.1 Z" stroke="#a9a9a9" stroke-width="3.3"/><path d="M147.7,354.7 L152.2,350.8 L156.7,351.4 L156.8,355.8 L152.3,359.7 L147.8,359.1 Z" stroke="#c4c4c4" stroke-width="1.81"/><path d="M149.7,360.6 L147.3,365.5 L141.8,365.6 L140.5,370.5" stroke="#a9a9a9" stroke-width="3.3"/><path d="M149.7,360.6 L147.3,365.5 L141.8,365.6 L140.5,370.5" stroke="#c4c4c4" stroke-width="1.81"/><path d="M256.2,386.1 L250.6,384.6 L249.3,379.0 L243.7,377.5 L242.5,371.8 L236.9,370.4" stroke="#a9a9a9" stroke-width="3.3"/><path d="M256.2,386.1 L250.6,384.6 L249.3,379.0 L243.7,377.5 L242.5,371.8 L236.9,370.4" stroke="#c8c8c8" stroke-width="1.81"/><path d="M134.4,248.6 L139.9,250.4 L140.7,256.1 L146.2,258.0" stroke="#a9a9a9" stroke-width="3.3"/><path d="M134.4,248.6 L139.9,250.4 L140.7,256.1 L146.2,258.0" stroke="#c8c8c8" stroke-width="1.81"/><path d="M158.7,361.5 L161.9,358.5 L167.4,358.4 L169.7,361.2 L166.6,364.1 L161.1,364.3 Z" stroke="#a9a9a9" stroke-width="3.3"/><path d="M158.7,361.5 L161.9,358.5 L167.4,358.4 L169.7,361.2 L166.6,364.1 L161.1,364.3 Z" stroke="#cccccc" stroke-width="1.81"/><path d="M158.7,360.4 L153.3,359.6 L151.6,354.3 L146.6,354.5" stroke="#a9a9a9" stroke-width="3.3"/><path d="M158.7,360.4 L153.3,359.6 L151.6,354.3 L146.6,354.5" stroke="#cccccc" stroke-width="1.81"/><path d="M249.2,388.4 L244.8,385.3 L244.0,379.5 L247.7,376.8 L252.1,379.9 L252.9,385.7 Z" stroke="#a9a9a9" stroke-width="3.3"/><path d="M249.2,388.4 L244.8,385.3 L244.0,379.5 L247.7,376.8 L252.1,379.9 L252.9,385.7 Z" stroke="#d2d2d2" stroke-width="1.81"/><path d="M244.8,377.8 L241.5,373.4 L243.9,368.5 L240.2,365.2" stroke="#a9a9a9" stroke-width="3.3"/><path d="M244.8,377.8 L241.5,373.4 L243.9,368.5 L240.2,365.2" stroke="#d2d2d2" stroke-width="1.81"/><path d="M112.1,398.2 L115.6,394.4 L120.5,393.6 L121.9,396.6 L118.4,400.3 L113.5,401.1 Z" stroke="#a9a9a9" stroke-width="3.3"/><path d="M112.1,398.2 L115.6,394.4 L120.5,393.6 L121.9,396.6 L118.4,400.3 L113.5,401.1 Z" stroke="#c8c8c8" stroke-width="1.81"/><path d="M117.4,402.9 L117.7,408.4 L113.0,411.2 L114.3,416.0" stroke="#a9a9a9" stroke-width="3.3"/><path d="M117.4,402.9 L117.7,408.4 L113.0,411.2 L114.3,416.0" stroke="#c8c8c8" stroke-width="1.81"/><path d="M86.6,244.3 L84.3,238.7 L88.1,233.8 L94.2,234.7 L96.5,240.3 L92.7,245.2 Z" stroke="#a9a9a9" stroke-width="3.3"/><path d="M86.6,244.3 L84.3,238.7 L88.1,233.8 L94.2,234.7 L96.5,240.3 L92.7,245.2 Z" stroke="#cccccc" stroke-width="1.81"/><path d="M96.2,241.4 L101.4,243.1 L102.3,248.6 L107.2,249.2" stroke="#a9a9a9" stroke-width="3.3"/><path d="M96.2,241.4 L101.4,243.1 L102.3,248.6 L107.2,249.2" stroke="#cccccc" stroke-width="1.81"/><path d="M197.3,255.9 L195.8,251.8 L197.8,246.5 L201.1,245.3 L202.5,249.4 L200.6,254.7 Z" stroke="#a9a9a9" stroke-width="3.3"/><path d="M197.3,255.9 L195.8,251.8 L197.8,246.5 L201.1,245.3 L202.5,249.4 L200.6,254.7 Z" stroke="#d2d2d2" stroke-width="1.81"/><path d="M204.2,253.4 L209.0,256.0 L208.8,261.5 L213.6,263.0" stroke="#a9a9a9" stroke-width="3.3"/><path d="M204.2,253.4 L209.0,256.0 L208.8,261.5 L213.6,263.0" stroke="#d2d2d2" stroke-width="1.81"/><path d="M174.5,406.1 L168.9,405.5 L166.2,403.2 L169.1,401.5 L174.7,402.2 L177.4,404.5 Z" stroke="#a9a9a9" stroke-width="3.3"/><path d="M174.5,406.1 L168.9,405.5 L166.2,403.2 L169.1,401.5 L174.7,402.2 L177.4,404.5 Z" stroke="#d2d2d2" stroke-width="1.81"/><path d="M166.6,405.9 L161.5,408.0 L157.3,404.3 L153.1,407.1" stroke="#a9a9a9" stroke-width="3.3"/><path d="M166.6,405.9 L161.5,408.0 L157.3,404.3 L153.1,407.1" stroke="#d2d2d2" stroke-width="1.81"/><path d="M200.1,274.1 L200.8,269.6 L205.7,266.9 L209.8,268.8 L209.0,273.3 L204.1,275.9 Z" stroke="#a9a9a9" stroke-width="3.3"/><path d="M200.1,274.1 L200.8,269.6 L205.7,266.9 L209.8,268.8 L209.0,273.3 L204.1,275.9 Z" stroke="#d2d2d2" stroke-width="1.81"/><path d="M199.4,271.0 L193.9,270.6 L191.8,265.6 L186.8,266.2" stroke="#a9a9a9" stroke-width="3.3"/><path d="M199.4,271.0 L193.9,270.6 L191.8,265.6 L186.8,266.2" stroke="#d2d2d2" stroke-width="1.81"/><path d="M128.4,283.7 L124.4,280.1 L123.6,274.7 L126.8,273.0 L130.9,276.7 L131.7,282.0 Z" stroke="#a9a9a9" stroke-width="3.3"/><path d="M128.4,283.7 L124.4,280.1 L123.6,274.7 L126.8,273.0 L130.9,276.7 L131.7,282.0 Z" stroke="#d2d2d2" stroke-width="1.81"/><path d="M122.1,280.6 L117.0,282.7 L112.9,279.1 L108.7,281.8" stroke="#a9a9a9" stroke-width="3.3"/><path d="M122.1,280.6 L117.0,282.7 L112.9,279.1 L108.7,281.8" stroke="#d2d2d2" stroke-width="1.81"/><path d="M185.0,246.4 L183.5,252.1 L177.8,253.3 L176.3,258.9 L170.7,260.1" stroke="#a9a9a9" stroke-width="3.3"/><path d="M185.0,246.4 L183.5,252.1 L177.8,253.3 L176.3,258.9 L170.7,260.1" stroke="#d2d2d2" stroke-width="1.81"/><path d="M236.2,307.5 L231.4,308.0 L226.4,305.6 L226.3,302.7 L231.0,302.2 L236.0,304.6 Z" stroke="#a9a9a9" stroke-width="3.3"/><path d="M236.2,307.5 L231.4,308.0 L226.4,305.6 L226.3,302.7 L231.0,302.2 L236.0,304.6 Z" stroke="#cccccc" stroke-width="1.81"/><path d="M228.6,310.3 L226.2,315.2 L220.7,315.2 L219.4,320.1" stroke="#a9a9a9" stroke-width="3.3"/><path d="M228.6,310.3 L226.2,315.2 L220.7,315.2 L219.4,320.1" stroke="#cccccc" stroke-width="1.81"/><path d="M105.2,384.3 L102.7,379.6 L102.8,374.7 L105.4,374.7 L108.0,379.4 L107.9,384.3 Z" stroke="#a9a9a9" stroke-width="3.3"/><path d="M105.2,384.3 L102.7,379.6 L102.8,374.7 L105.4,374.7 L108.0,379.4 L107.9,384.3 Z" stroke="#d6d6d6" stroke-width="1.81"/><path d="M100.9,375.9 L96.6,372.4 L97.8,367.0 L93.4,364.7" stroke="#a9a9a9" stroke-width="3.3"/><path d="M100.9,375.9 L96.6,372.4 L97.8,367.0 L93.4,364.7" stroke="#d6d6d6" stroke-width="1.81"/><path d="M100.7,386.9 L96.9,382.6 L99.0,377.2 L95.2,372.8" stroke="#a9a9a9" stroke-width="3.3"/><path d="M100.7,386.9 L96.9,382.6 L99.0,377.2 L95.2,372.8" stroke="#cccccc" stroke-width="1.81"/><path d="M230.3,240.5 L224.6,241.3 L221.3,236.6 L215.5,237.4 L212.2,232.7 L206.5,233.5" stroke="#a9a9a9" stroke-width="3.3"/><path d="M230.3,240.5 L224.6,241.3 L221.3,236.6 L215.5,237.4 L212.2,232.7 L206.5,233.5" stroke="#c8c8c8" stroke-width="1.81"/><path d="M87.8,369.3 L82.5,366.9 L82.3,361.1 L77.1,358.6 L76.8,352.9 L71.6,350.4 L71.4,344.6" stroke="#a9a9a9" stroke-width="3.3"/><path d="M87.8,369.3 L82.5,366.9 L82.3,361.1 L77.1,358.6 L76.8,352.9 L71.6,350.4 L71.4,344.6" stroke="#d6d6d6" stroke-width="1.81"/></g>
<line x1="110.5" y1="236.4" x2="125.4" y2="228.4" stroke="#45bcc7" stroke-width="2.6" stroke-linecap="round" />
<line x1="111.7" y1="238.7" x2="126.6" y2="230.6" stroke="#45bcc7" stroke-width="2.6" stroke-linecap="round" />
<line x1="111.1" y1="237.6" x2="126.0" y2="229.5" stroke="#9be6ec" stroke-width="0.9" stroke-linecap="round" />
<line x1="108.5" y1="239.0" x2="112.0" y2="237.1" stroke="#eba3a0" stroke-width="2.6" stroke-linecap="round" />
<circle cx="108.3" cy="240.8" r="2.1" fill="#9a17aa"/>
<circle cx="106.6" cy="237.5" r="1.7" fill="#9a17aa"/>
<circle cx="127.0" cy="228.9" r="1.5" fill="#82dc70"/>
<circle cx="119.7" cy="236.6" r="1.2" fill="#82dc70"/>
<circle cx="116.6" cy="231.0" r="1.2" fill="#82dc70"/>
<line x1="89.7" y1="322.2" x2="81.2" y2="346.4" stroke="#45bcc7" stroke-width="2.6" stroke-linecap="round" />
<line x1="87.3" y1="321.3" x2="78.8" y2="345.6" stroke="#45bcc7" stroke-width="2.6" stroke-linecap="round" />
<line x1="88.5" y1="321.8" x2="80.0" y2="346.0" stroke="#9be6ec" stroke-width="0.9" stroke-linecap="round" />
<line x1="90.0" y1="317.5" x2="88.0" y2="323.2" stroke="#eba3a0" stroke-width="2.6" stroke-linecap="round" />
<circle cx="89.1" cy="315.6" r="2.1" fill="#9a17aa"/>
<circle cx="92.6" cy="316.8" r="1.7" fill="#9a17aa"/>
<circle cx="79.4" cy="347.7" r="1.5" fill="#82dc70"/>
<circle cx="81.5" cy="332.1" r="1.2" fill="#82dc70"/>
<circle cx="87.5" cy="334.2" r="1.2" fill="#82dc70"/>
<line x1="134.1" y1="336.1" x2="138.7" y2="350.1" stroke="#45bcc7" stroke-width="2.6" stroke-linecap="round" />
<line x1="131.6" y1="336.9" x2="136.3" y2="350.9" stroke="#45bcc7" stroke-width="2.6" stroke-linecap="round" />
<line x1="132.8" y1="336.5" x2="137.5" y2="350.5" stroke="#9be6ec" stroke-width="0.9" stroke-linecap="round" />
<line x1="132.0" y1="334.0" x2="133.1" y2="337.3" stroke="#eba3a0" stroke-width="2.6" stroke-linecap="round" />
<circle cx="130.3" cy="333.6" r="2.1" fill="#9a17aa"/>
<circle cx="133.8" cy="332.5" r="1.7" fill="#9a17aa"/>
<circle cx="137.8" cy="351.5" r="1.5" fill="#82dc70"/>
<circle cx="132.0" cy="344.1" r="1.2" fill="#82dc70"/>
<circle cx="138.1" cy="342.1" r="1.2" fill="#82dc70"/>
<line x1="149.2" y1="355.8" x2="143.2" y2="375.4" stroke="#45bcc7" stroke-width="2.6" stroke-linecap="round" />
<line x1="146.7" y1="355.1" x2="140.8" y2="374.6" stroke="#45bcc7" stroke-width="2.6" stroke-linecap="round" />
<line x1="147.9" y1="355.4" x2="142.0" y2="375.0" stroke="#9be6ec" stroke-width="0.9" stroke-linecap="round" />
<line x1="149.0" y1="352.0" x2="147.6" y2="356.6" stroke="#eba3a0" stroke-width="2.6" stroke-linecap="round" />
<circle cx="147.9" cy="350.4" r="2.1" fill="#9a17aa"/>
<circle cx="151.5" cy="351.5" r="1.7" fill="#9a17aa"/>
<circle cx="141.6" cy="376.4" r="1.5" fill="#82dc70"/>
<circle cx="142.1" cy="363.7" r="1.2" fill="#82dc70"/>
<circle cx="148.2" cy="365.6" r="1.2" fill="#82dc70"/>
<line x1="174.2" y1="307.6" x2="176.3" y2="325.8" stroke="#45bcc7" stroke-width="2.6" stroke-linecap="round" />
<line x1="171.6" y1="307.9" x2="173.7" y2="326.2" stroke="#45bcc7" stroke-width="2.6" stroke-linecap="round" />
<line x1="172.9" y1="307.7" x2="175.0" y2="326.0" stroke="#9be6ec" stroke-width="0.9" stroke-linecap="round" />
<line x1="172.5" y1="304.5" x2="173.0" y2="308.8" stroke="#eba3a0" stroke-width="2.6" stroke-linecap="round" />
<circle cx="170.9" cy="303.6" r="2.1" fill="#9a17aa"/>
<circle cx="174.6" cy="303.2" r="1.7" fill="#9a17aa"/>
<circle cx="175.2" cy="327.3" r="1.5" fill="#82dc70"/>
<circle cx="170.7" cy="316.7" r="1.2" fill="#82dc70"/>
<circle cx="177.1" cy="316.0" r="1.2" fill="#82dc70"/>
<line x1="191.3" y1="375.4" x2="202.3" y2="373.7" stroke="#45bcc7" stroke-width="2.6" stroke-linecap="round" />
<line x1="191.6" y1="378.0" x2="202.7" y2="376.3" stroke="#45bcc7" stroke-width="2.6" stroke-linecap="round" />
<line x1="191.4" y1="376.7" x2="202.5" y2="375.0" stroke="#9be6ec" stroke-width="0.9" stroke-linecap="round" />
<line x1="189.5" y1="377.0" x2="192.1" y2="376.6" stroke="#eba3a0" stroke-width="2.6" stroke-linecap="round" />
<circle cx="189.1" cy="378.6" r="2.1" fill="#9a17aa"/>
<circle cx="188.5" cy="374.9" r="1.7" fill="#9a17aa"/>
<circle cx="203.3" cy="374.9" r="1.5" fill="#82dc70"/>
<circle cx="197.1" cy="379.1" r="1.2" fill="#82dc70"/>
<circle cx="196.2" cy="372.7" r="1.2" fill="#82dc70"/>
<line x1="135.0" y1="408.2" x2="151.5" y2="402.5" stroke="#45bcc7" stroke-width="3.2" stroke-linecap="round" />
<line x1="135.0" y1="408.2" x2="151.5" y2="402.5" stroke="#9be6ec" stroke-width="0.9" stroke-linecap="round" />
<circle cx="152.3" cy="402.2" r="1.5" fill="#82dc70"/>
<polygon points="80.5,295.0 75.8,297.8 75.8,303.2 80.5,306.0 85.2,303.2 85.2,297.8" fill="none" stroke="#45bcc7" stroke-width="3.0"/>
<line x1="85.2" y1="297.8" x2="89.5" y2="294.5" stroke="#eba3a0" stroke-width="2.6" stroke-linecap="round" />
<circle cx="90.0" cy="293.0" r="2.0" fill="#9a17aa"/>
<circle cx="91.5" cy="305.5" r="1.7" fill="#9a17aa"/>
<circle cx="71.0" cy="297.5" r="1.4" fill="#82dc70"/>
<circle cx="73.0" cy="306.5" r="1.4" fill="#82dc70"/>
<circle cx="82.0" cy="310.0" r="1.4" fill="#82dc70"/>
<circle cx="80.5" cy="290.5" r="1.4" fill="#82dc70"/>
<line x1="113.3" y1="217.2" x2="266.3" y2="221.7" stroke="#666" stroke-width="0.8"/>
<line x1="266.3" y1="221.7" x2="271.6" y2="388.9" stroke="#666" stroke-width="0.8"/>
<line x1="271.6" y1="388.9" x2="118.7" y2="384.5" stroke="#666" stroke-width="0.8"/>
<line x1="118.7" y1="384.5" x2="113.3" y2="217.2" stroke="#666" stroke-width="0.8"/>
<line x1="55.2" y1="244.2" x2="113.3" y2="217.2" stroke="#555" stroke-width="0.85"/>
<line x1="209.5" y1="248.0" x2="266.3" y2="221.7" stroke="#555" stroke-width="0.85"/>
<line x1="214.4" y1="415.3" x2="271.6" y2="388.9" stroke="#555" stroke-width="0.85"/>
<line x1="60.1" y1="411.3" x2="118.7" y2="384.5" stroke="#555" stroke-width="0.85"/>
<line x1="55.2" y1="244.2" x2="209.5" y2="248.0" stroke="#4a4a4a" stroke-width="0.9"/>
<line x1="209.5" y1="248.0" x2="214.4" y2="415.3" stroke="#4a4a4a" stroke-width="0.9"/>
<line x1="214.4" y1="415.3" x2="60.1" y2="411.3" stroke="#4a4a4a" stroke-width="0.9"/>
<line x1="60.1" y1="411.3" x2="55.2" y2="244.2" stroke="#4a4a4a" stroke-width="0.9"/>
<line x1="57" y1="252.5" x2="112" y2="253.5" stroke="#c8c8c8" stroke-width="0.8" stroke-dasharray="0.8 4"/>
<line x1="263.5" y1="226" x2="268.5" y2="385" stroke="#c8c8c8" stroke-width="0.8" stroke-dasharray="0.8 4"/>
<defs><linearGradient id="cb" x1="0" y1="0" x2="0" y2="1"><stop offset="0.000" stop-color="#fcffa4"/><stop offset="0.050" stop-color="#f1ef75"/><stop offset="0.100" stop-color="#f6d746"/><stop offset="0.150" stop-color="#fbbe23"/><stop offset="0.200" stop-color="#fca50a"/><stop offset="0.250" stop-color="#f98e09"/><stop offset="0.300" stop-color="#f37819"/><stop offset="0.350" stop-color="#ea632a"/><stop offset="0.400" stop-color="#dd513a"/><stop offset="0.450" stop-color="#cc4248"/><stop offset="0.500" stop-color="#bc3754"/><stop offset="0.550" stop-color="#a82e5f"/><stop offset="0.600" stop-color="#932667"/><stop offset="0.650" stop-color="#7f1e6c"/><stop offset="0.700" stop-color="#6a176e"/><stop offset="0.750" stop-color="#57106e"/><stop offset="0.800" stop-color="#420a68"/><stop offset="0.850" stop-color="#2b0b57"/><stop offset="0.900" stop-color="#160b39"/><stop offset="0.950" stop-color="#07051b"/><stop offset="1.000" stop-color="#000004"/></linearGradient></defs>
<rect x="32.35" y="21.35" width="142.30" height="76.30" fill="none" stroke="#000" stroke-width="2.7"/>
<rect x="199.65" y="21.35" width="142.10" height="76.30" fill="none" stroke="#000" stroke-width="2.7"/>
<rect x="367.35" y="21.35" width="141.60" height="76.30" fill="none" stroke="#000" stroke-width="2.7"/>
<rect x="534.65" y="21.35" width="141.80" height="76.30" fill="none" stroke="#000" stroke-width="2.7"/>
<line x1="175.50" y1="59.6" x2="193.30" y2="59.6" stroke="#000" stroke-width="2.5"/>
<path d="M191.90,56.0 L198.60,59.6 L191.90,63.2 L192.90,59.6 Z" fill="#000"/>
<line x1="342.60" y1="59.6" x2="361.00" y2="59.6" stroke="#000" stroke-width="2.5"/>
<path d="M359.60,56.0 L366.30,59.6 L359.60,63.2 L360.60,59.6 Z" fill="#000"/>
<line x1="509.80" y1="59.6" x2="528.30" y2="59.6" stroke="#000" stroke-width="2.5"/>
<path d="M526.90,56.0 L533.60,59.6 L526.90,63.2 L527.90,59.6 Z" fill="#000"/>
<text transform="translate(103.50,36.00) scale(0.84,1)" font-size="15.8" text-anchor="middle" fill="#000" >Polymer Structure</text>
<text transform="translate(103.50,55.50) scale(0.84,1)" font-size="15.8" text-anchor="middle" fill="#000" >Predictor (PSP) to</text>
<text transform="translate(103.50,75.00) scale(0.84,1)" font-size="15.8" text-anchor="middle" fill="#000" >generate polymer-</text>
<text transform="translate(103.50,94.50) scale(0.84,1)" font-size="15.8" text-anchor="middle" fill="#000" >solvent structure</text>
<text transform="translate(270.70,55.70) scale(0.84,1)" font-size="15.8" text-anchor="middle" fill="#000" >21-step</text>
<text transform="translate(270.70,75.00) scale(0.84,1)" font-size="15.8" text-anchor="middle" fill="#000" >equilibration</text>
<text transform="translate(438.15,45.70) scale(0.84,1)" font-size="15.8" text-anchor="middle" fill="#000" >Production run</text>
<text transform="translate(438.15,64.90) scale(0.84,1)" font-size="15.8" text-anchor="middle" fill="#000" >(10ns NPT,</text>
<text transform="translate(438.15,84.30) scale(0.84,1)" font-size="15.8" text-anchor="middle" fill="#000" >200ns NVT)</text>
<text transform="translate(605.55,45.70) scale(0.84,1)" font-size="15.8" text-anchor="middle" fill="#000" >Simulated diffusivity</text>
<text transform="translate(605.55,64.90) scale(0.84,1)" font-size="15.8" text-anchor="middle" fill="#000" >(from mean squared</text>
<text transform="translate(605.55,84.30) scale(0.84,1)" font-size="15.8" text-anchor="middle" fill="#000" >displacement)</text>
<text transform="translate(-0.60,11.70) scale(0.84,1)" font-size="15.8" text-anchor="start" fill="#000" >a</text>
<text transform="translate(7.40,11.90) scale(0.84,1)" font-size="15.8" text-anchor="start" fill="#000" >)</text>
<text transform="translate(-0.40,152.60) scale(0.84,1)" font-size="15.8" text-anchor="start" fill="#000" >b</text>
<text transform="translate(7.20,152.60) scale(0.84,1)" font-size="15.8" text-anchor="start" fill="#000" >)</text>
<text transform="translate(322.30,152.60) scale(0.84,1)" font-size="15.8" text-anchor="start" fill="#000" >c</text>
<text transform="translate(329.30,152.60) scale(0.84,1)" font-size="15.8" text-anchor="start" fill="#000" >)</text>
<text transform="translate(95.40,141.00) scale(0.84,1)" font-size="15.8" text-anchor="middle" fill="#000" >Toluene</text>
<text transform="translate(201.50,140.80) scale(0.84,1)" font-size="15.8" text-anchor="middle" fill="#000" >Polystyrene</text>
<rect x="359" y="113.8" width="2" height="1.2" fill="#ddd"/>
<circle cx="509.8" cy="262.3" r="2.8" fill="#f68013"/>
<circle cx="509.8" cy="262.3" r="0.75" fill="#000"/>
<circle cx="443.8" cy="258.8" r="2.8" fill="#f68013"/>
<circle cx="443.8" cy="258.8" r="0.75" fill="#000"/>
<circle cx="475.8" cy="237.0" r="2.8" fill="#f68013"/>
<circle cx="475.8" cy="237.0" r="0.75" fill="#000"/>
<circle cx="513.3" cy="228.9" r="2.8" fill="#f68013"/>
<circle cx="513.3" cy="228.9" r="0.75" fill="#000"/>
<circle cx="508.8" cy="262.1" r="2.8" fill="#f68013"/>
<circle cx="508.8" cy="262.1" r="0.75" fill="#000"/>
<circle cx="490.3" cy="226.2" r="2.8" fill="#f68013"/>
<circle cx="490.3" cy="226.2" r="0.75" fill="#000"/>
<circle cx="531.7" cy="206.9" r="2.8" fill="#f68013"/>
<circle cx="531.7" cy="206.9" r="0.75" fill="#000"/>
<circle cx="522.5" cy="217.5" r="2.8" fill="#f68013"/>
<circle cx="522.5" cy="217.5" r="0.75" fill="#000"/>
<circle cx="528.0" cy="210.1" r="2.8" fill="#f68013"/>
<circle cx="528.0" cy="210.1" r="0.75" fill="#000"/>
<circle cx="495.8" cy="229.4" r="2.8" fill="#f68013"/>
<circle cx="495.8" cy="229.4" r="0.75" fill="#000"/>
<circle cx="534.1" cy="184.8" r="2.8" fill="#fca60c"/>
<circle cx="534.1" cy="184.8" r="0.75" fill="#000"/>
<circle cx="506.9" cy="223.4" r="2.8" fill="#f68013"/>
<circle cx="506.9" cy="223.4" r="0.75" fill="#000"/>
<circle cx="498.5" cy="233.7" r="2.8" fill="#f68013"/>
<circle cx="498.5" cy="233.7" r="0.75" fill="#000"/>
<circle cx="487.5" cy="228.1" r="2.8" fill="#f68013"/>
<circle cx="487.5" cy="228.1" r="0.75" fill="#000"/>
<circle cx="507.8" cy="233.5" r="2.8" fill="#f68013"/>
<circle cx="507.8" cy="233.5" r="0.75" fill="#000"/>
<circle cx="533.5" cy="201.0" r="2.8" fill="#f68013"/>
<circle cx="533.5" cy="201.0" r="0.75" fill="#000"/>
<circle cx="538.3" cy="191.7" r="2.8" fill="#fca60c"/>
<circle cx="538.3" cy="191.7" r="0.75" fill="#000"/>
<circle cx="448.6" cy="253.3" r="2.8" fill="#f68013"/>
<circle cx="448.6" cy="253.3" r="0.75" fill="#000"/>
<circle cx="526.2" cy="206.9" r="2.8" fill="#f68013"/>
<circle cx="526.2" cy="206.9" r="0.75" fill="#000"/>
<circle cx="534.1" cy="200.5" r="2.8" fill="#f68013"/>
<circle cx="534.1" cy="200.5" r="0.75" fill="#000"/>
<circle cx="536.9" cy="188.4" r="2.8" fill="#fca60c"/>
<circle cx="536.9" cy="188.4" r="0.75" fill="#000"/>
<circle cx="506.0" cy="229.9" r="2.8" fill="#f3e55d"/>
<circle cx="506.0" cy="229.9" r="0.75" fill="#000"/>
<circle cx="450.6" cy="252.6" r="2.8" fill="#f68013"/>
<circle cx="450.6" cy="252.6" r="0.75" fill="#000"/>
<circle cx="537.3" cy="195.8" r="2.8" fill="#fca60c"/>
<circle cx="537.3" cy="195.8" r="0.75" fill="#000"/>
<circle cx="477.2" cy="270.5" r="2.8" fill="#f3e55d"/>
<circle cx="477.2" cy="270.5" r="0.75" fill="#000"/>
<circle cx="455.5" cy="263.6" r="2.8" fill="#f68013"/>
<circle cx="455.5" cy="263.6" r="0.75" fill="#000"/>
<circle cx="547.9" cy="196.2" r="2.8" fill="#de5238"/>
<circle cx="547.9" cy="196.2" r="0.75" fill="#000"/>
<circle cx="541.5" cy="200.0" r="2.8" fill="#de5238"/>
<circle cx="541.5" cy="200.0" r="0.75" fill="#000"/>
<circle cx="572.8" cy="176.1" r="2.8" fill="#de5238"/>
<circle cx="572.8" cy="176.1" r="0.75" fill="#000"/>
<circle cx="579.7" cy="169.7" r="2.8" fill="#de5238"/>
<circle cx="579.7" cy="169.7" r="0.75" fill="#000"/>
<circle cx="542.4" cy="199.0" r="2.8" fill="#de5238"/>
<circle cx="542.4" cy="199.0" r="0.75" fill="#000"/>
<circle cx="545.1" cy="191.2" r="2.8" fill="#de5238"/>
<circle cx="545.1" cy="191.2" r="0.75" fill="#000"/>
<circle cx="563.0" cy="184.3" r="2.8" fill="#de5238"/>
<circle cx="563.0" cy="184.3" r="0.75" fill="#000"/>
<circle cx="546.1" cy="183.9" r="2.8" fill="#de5238"/>
<circle cx="546.1" cy="183.9" r="0.75" fill="#000"/>
<circle cx="581.5" cy="167.4" r="2.8" fill="#de5238"/>
<circle cx="581.5" cy="167.4" r="0.75" fill="#000"/>
<circle cx="569.0" cy="177.9" r="2.8" fill="#de5238"/>
<circle cx="569.0" cy="177.9" r="0.75" fill="#000"/>
<circle cx="575.1" cy="174.3" r="2.8" fill="#de5238"/>
<circle cx="575.1" cy="174.3" r="0.75" fill="#000"/>
<circle cx="565.9" cy="182.1" r="2.8" fill="#de5238"/>
<circle cx="565.9" cy="182.1" r="0.75" fill="#000"/>
<circle cx="567.8" cy="179.4" r="2.8" fill="#de5238"/>
<circle cx="567.8" cy="179.4" r="0.75" fill="#000"/>
<circle cx="555.7" cy="188.4" r="2.8" fill="#de5238"/>
<circle cx="555.7" cy="188.4" r="0.75" fill="#000"/>
<circle cx="496.7" cy="226.2" r="2.8" fill="#de5238"/>
<circle cx="496.7" cy="226.2" r="0.75" fill="#000"/>
<circle cx="577.4" cy="172.0" r="2.8" fill="#de5238"/>
<circle cx="577.4" cy="172.0" r="0.75" fill="#000"/>
<circle cx="558.4" cy="188.0" r="2.8" fill="#de5238"/>
<circle cx="558.4" cy="188.0" r="0.75" fill="#000"/>
<circle cx="570.0" cy="177.5" r="2.8" fill="#de5238"/>
<circle cx="570.0" cy="177.5" r="0.75" fill="#000"/>
<circle cx="566.7" cy="183.4" r="2.8" fill="#de5238"/>
<circle cx="566.7" cy="183.4" r="0.75" fill="#000"/>
<circle cx="494.2" cy="261.8" r="2.8" fill="#450a69"/>
<circle cx="494.2" cy="261.8" r="0.75" fill="#000"/>
<circle cx="434.1" cy="258.4" r="2.8" fill="#1b0c41"/>
<circle cx="434.1" cy="258.4" r="0.75" fill="#000"/>
<circle cx="456.2" cy="231.5" r="2.8" fill="#450a69"/>
<circle cx="456.2" cy="231.5" r="0.75" fill="#000"/>
<circle cx="443.8" cy="262.9" r="2.8" fill="#450a69"/>
<circle cx="443.8" cy="262.9" r="0.75" fill="#000"/>
<circle cx="481.3" cy="267.7" r="2.8" fill="#450a69"/>
<circle cx="481.3" cy="267.7" r="0.75" fill="#000"/>
<circle cx="442.7" cy="234.3" r="2.8" fill="#450a69"/>
<circle cx="442.7" cy="234.3" r="0.75" fill="#000"/>
<circle cx="514.3" cy="198.7" r="2.8" fill="#040314"/>
<circle cx="514.3" cy="198.7" r="0.75" fill="#000"/>
<circle cx="485.5" cy="221.2" r="2.8" fill="#450a69"/>
<circle cx="485.5" cy="221.2" r="0.75" fill="#000"/>
<circle cx="485.5" cy="233.6" r="2.8" fill="#450a69"/>
<circle cx="485.5" cy="233.6" r="0.75" fill="#000"/>
<circle cx="454.8" cy="235.6" r="2.8" fill="#450a69"/>
<circle cx="454.8" cy="235.6" r="0.75" fill="#000"/>
<circle cx="433.3" cy="283.3" r="2.8" fill="#040314"/>
<circle cx="433.3" cy="283.3" r="0.75" fill="#000"/>
<circle cx="516.6" cy="254.8" r="2.8" fill="#040314"/>
<circle cx="516.6" cy="254.8" r="0.75" fill="#000"/>
<circle cx="436.0" cy="296.6" r="2.8" fill="#040314"/>
<circle cx="436.0" cy="296.6" r="0.75" fill="#000"/>
<circle cx="495.8" cy="258.4" r="2.8" fill="#1b0c41"/>
<circle cx="495.8" cy="258.4" r="0.75" fill="#000"/>
<circle cx="466.2" cy="236.3" r="2.8" fill="#450a69"/>
<circle cx="466.2" cy="236.3" r="0.75" fill="#000"/>
<circle cx="567.6" cy="191.2" r="2.8" fill="#801f6c"/>
<circle cx="567.6" cy="191.2" r="0.75" fill="#000"/>
<circle cx="444.1" cy="231.2" r="2.8" fill="#450a69"/>
<circle cx="444.1" cy="231.2" r="0.75" fill="#000"/>
<circle cx="514.3" cy="231.4" r="2.8" fill="#450a69"/>
<circle cx="514.3" cy="231.4" r="0.75" fill="#000"/>
<circle cx="532.6" cy="214.3" r="2.8" fill="#040314"/>
<circle cx="532.6" cy="214.3" r="0.75" fill="#000"/>
<circle cx="559.4" cy="200.5" r="2.8" fill="#801f6c"/>
<circle cx="559.4" cy="200.5" r="0.75" fill="#000"/>
<circle cx="506.9" cy="217.5" r="2.8" fill="#450a69"/>
<circle cx="506.9" cy="217.5" r="0.75" fill="#000"/>
<circle cx="443.8" cy="271.2" r="2.8" fill="#450a69"/>
<circle cx="443.8" cy="271.2" r="0.75" fill="#000"/>
<circle cx="436.2" cy="262.9" r="2.8" fill="#801f6c"/>
<circle cx="436.2" cy="262.9" r="0.75" fill="#000"/>
<circle cx="429.5" cy="273.3" r="2.8" fill="#040314"/>
<circle cx="429.5" cy="273.3" r="0.75" fill="#000"/>
<circle cx="454.1" cy="256.7" r="2.8" fill="#1b0c41"/>
<circle cx="454.1" cy="256.7" r="0.75" fill="#000"/>
<circle cx="394.7" cy="254.3" r="2.8" fill="#040314"/>
<circle cx="394.7" cy="254.3" r="0.75" fill="#000"/>
<circle cx="464.1" cy="241.8" r="2.8" fill="#801f6c"/>
<circle cx="464.1" cy="241.8" r="0.75" fill="#000"/>
<circle cx="458.2" cy="235.6" r="2.8" fill="#1b0c41"/>
<circle cx="458.2" cy="235.6" r="0.75" fill="#000"/>
<circle cx="468.9" cy="247.8" r="2.8" fill="#1b0c41"/>
<circle cx="468.9" cy="247.8" r="0.75" fill="#000"/>
<circle cx="473.8" cy="273.9" r="2.8" fill="#040314"/>
<circle cx="473.8" cy="273.9" r="0.75" fill="#000"/>
<circle cx="488.2" cy="237.0" r="2.8" fill="#801f6c"/>
<circle cx="488.2" cy="237.0" r="0.75" fill="#000"/>
<circle cx="488.4" cy="282.0" r="2.8" fill="#801f6c"/>
<circle cx="488.4" cy="282.0" r="0.75" fill="#000"/>
<circle cx="497.6" cy="262.1" r="2.8" fill="#801f6c"/>
<circle cx="497.6" cy="262.1" r="0.75" fill="#000"/>
<circle cx="553.4" cy="205.6" r="2.8" fill="#801f6c"/>
<circle cx="553.4" cy="205.6" r="0.75" fill="#000"/>
<circle cx="512.9" cy="208.8" r="2.8" fill="#040314"/>
<circle cx="512.9" cy="208.8" r="0.75" fill="#000"/>
<circle cx="472.4" cy="264.3" r="2.8" fill="#1b0c41"/>
<circle cx="472.4" cy="264.3" r="0.75" fill="#000"/>
<circle cx="455.5" cy="313.3" r="2.8" fill="#450a69"/>
<circle cx="455.5" cy="313.3" r="0.75" fill="#000"/>
<circle cx="470.3" cy="228.8" r="2.8" fill="#1b0c41"/>
<circle cx="470.3" cy="228.8" r="0.75" fill="#000"/>
<circle cx="466.9" cy="228.1" r="2.8" fill="#450a69"/>
<circle cx="466.9" cy="228.1" r="0.75" fill="#000"/>
<circle cx="442.4" cy="278.7" r="2.8" fill="#450a69"/>
<circle cx="442.4" cy="278.7" r="0.75" fill="#000"/>
<circle cx="536.4" cy="212.9" r="2.8" fill="#1b0c41"/>
<circle cx="536.4" cy="212.9" r="0.75" fill="#000"/>
<circle cx="444.1" cy="237.0" r="2.8" fill="#450a69"/>
<circle cx="444.1" cy="237.0" r="0.75" fill="#000"/>
<circle cx="491.7" cy="277.8" r="2.8" fill="#1b0c41"/>
<circle cx="491.7" cy="277.8" r="0.75" fill="#000"/>
<circle cx="532.8" cy="193.9" r="2.8" fill="#040314"/>
<circle cx="532.8" cy="193.9" r="0.75" fill="#000"/>
<circle cx="570.5" cy="182.1" r="2.8" fill="#801f6c"/>
<circle cx="570.5" cy="182.1" r="0.75" fill="#000"/>
<circle cx="451.3" cy="256.7" r="2.8" fill="#1b0c41"/>
<circle cx="451.3" cy="256.7" r="0.75" fill="#000"/>
<circle cx="468.9" cy="259.5" r="2.8" fill="#450a69"/>
<circle cx="468.9" cy="259.5" r="0.75" fill="#000"/>
<circle cx="498.5" cy="222.5" r="2.8" fill="#450a69"/>
<circle cx="498.5" cy="222.5" r="0.75" fill="#000"/>
<circle cx="475.8" cy="253.3" r="2.8" fill="#1b0c41"/>
<circle cx="475.8" cy="253.3" r="0.75" fill="#000"/>
<circle cx="518.3" cy="191.7" r="2.8" fill="#040314"/>
<circle cx="518.3" cy="191.7" r="0.75" fill="#000"/>
<circle cx="471.0" cy="222.6" r="2.8" fill="#450a69"/>
<circle cx="471.0" cy="222.6" r="0.75" fill="#000"/>
<circle cx="439.6" cy="272.5" r="2.8" fill="#040314"/>
<circle cx="439.6" cy="272.5" r="0.75" fill="#000"/>
<circle cx="422.2" cy="258.4" r="2.8" fill="#040314"/>
<circle cx="422.2" cy="258.4" r="0.75" fill="#000"/>
<circle cx="482.0" cy="260.1" r="2.8" fill="#1b0c41"/>
<circle cx="482.0" cy="260.1" r="0.75" fill="#000"/>
<circle cx="478.6" cy="221.2" r="2.8" fill="#450a69"/>
<circle cx="478.6" cy="221.2" r="0.75" fill="#000"/>
<circle cx="532.6" cy="196.8" r="2.8" fill="#1b0c41"/>
<circle cx="532.6" cy="196.8" r="0.75" fill="#000"/>
<circle cx="496.8" cy="257.5" r="2.8" fill="#450a69"/>
<circle cx="496.8" cy="257.5" r="0.75" fill="#000"/>
<circle cx="448.2" cy="237.0" r="2.8" fill="#040314"/>
<circle cx="448.2" cy="237.0" r="0.75" fill="#000"/>
<circle cx="495.3" cy="246.1" r="2.8" fill="#450a69"/>
<circle cx="495.3" cy="246.1" r="0.75" fill="#000"/>
<circle cx="472.4" cy="233.6" r="2.8" fill="#1b0c41"/>
<circle cx="472.4" cy="233.6" r="0.75" fill="#000"/>
<circle cx="471.7" cy="252.6" r="2.8" fill="#1b0c41"/>
<circle cx="471.7" cy="252.6" r="0.75" fill="#000"/>
<circle cx="528.0" cy="197.3" r="2.8" fill="#1b0c41"/>
<circle cx="528.0" cy="197.3" r="0.75" fill="#000"/>
<circle cx="486.2" cy="260.8" r="2.8" fill="#1b0c41"/>
<circle cx="486.2" cy="260.8" r="0.75" fill="#000"/>
<circle cx="480.6" cy="247.8" r="2.8" fill="#1b0c41"/>
<circle cx="480.6" cy="247.8" r="0.75" fill="#000"/>
<circle cx="484.1" cy="240.5" r="2.8" fill="#801f6c"/>
<circle cx="484.1" cy="240.5" r="0.75" fill="#000"/>
<circle cx="510.6" cy="258.4" r="2.8" fill="#040314"/>
<circle cx="510.6" cy="258.4" r="0.75" fill="#000"/>
<circle cx="426.8" cy="286.6" r="2.8" fill="#450a69"/>
<circle cx="426.8" cy="286.6" r="0.75" fill="#000"/>
<circle cx="503.7" cy="239.2" r="2.8" fill="#450a69"/>
<circle cx="503.7" cy="239.2" r="0.75" fill="#000"/>
<circle cx="447.9" cy="267.0" r="2.8" fill="#040314"/>
<circle cx="447.9" cy="267.0" r="0.75" fill="#000"/>
<circle cx="468.9" cy="232.2" r="2.8" fill="#1b0c41"/>
<circle cx="468.9" cy="232.2" r="0.75" fill="#000"/>
<circle cx="534.6" cy="206.9" r="2.8" fill="#040314"/>
<circle cx="534.6" cy="206.9" r="0.75" fill="#000"/>
<circle cx="461.4" cy="247.1" r="2.8" fill="#040314"/>
<circle cx="461.4" cy="247.1" r="0.75" fill="#000"/>
<circle cx="573.3" cy="179.4" r="2.8" fill="#801f6c"/>
<circle cx="573.3" cy="179.4" r="0.75" fill="#000"/>
<circle cx="488.2" cy="242.5" r="2.8" fill="#1b0c41"/>
<circle cx="488.2" cy="242.5" r="0.75" fill="#000"/>
<circle cx="463.5" cy="276.4" r="2.8" fill="#450a69"/>
<circle cx="463.5" cy="276.4" r="0.75" fill="#000"/>
<circle cx="506.9" cy="211.5" r="2.8" fill="#040314"/>
<circle cx="506.9" cy="211.5" r="0.75" fill="#000"/>
<circle cx="504.3" cy="263.7" r="2.8" fill="#1b0c41"/>
<circle cx="504.3" cy="263.7" r="0.75" fill="#000"/>
<circle cx="477.2" cy="260.8" r="2.8" fill="#450a69"/>
<circle cx="477.2" cy="260.8" r="0.75" fill="#000"/>
<circle cx="511.0" cy="231.8" r="2.8" fill="#1b0c41"/>
<circle cx="511.0" cy="231.8" r="0.75" fill="#000"/>
<circle cx="470.3" cy="237.0" r="2.8" fill="#1b0c41"/>
<circle cx="470.3" cy="237.0" r="0.75" fill="#000"/>
<circle cx="411.4" cy="263.0" r="2.8" fill="#040314"/>
<circle cx="411.4" cy="263.0" r="0.75" fill="#000"/>
<circle cx="484.1" cy="224.6" r="2.8" fill="#1b0c41"/>
<circle cx="484.1" cy="224.6" r="0.75" fill="#000"/>
<circle cx="426.3" cy="267.8" r="2.8" fill="#450a69"/>
<circle cx="426.3" cy="267.8" r="0.75" fill="#000"/>
<circle cx="493.5" cy="214.7" r="2.8" fill="#450a69"/>
<circle cx="493.5" cy="214.7" r="0.75" fill="#000"/>
<circle cx="518.9" cy="257.1" r="2.8" fill="#450a69"/>
<circle cx="518.9" cy="257.1" r="0.75" fill="#000"/>
<circle cx="462.1" cy="270.5" r="2.8" fill="#040314"/>
<circle cx="462.1" cy="270.5" r="0.75" fill="#000"/>
<circle cx="504.6" cy="249.3" r="2.8" fill="#1b0c41"/>
<circle cx="504.6" cy="249.3" r="0.75" fill="#000"/>
<circle cx="458.0" cy="288.3" r="2.8" fill="#040314"/>
<circle cx="458.0" cy="288.3" r="0.75" fill="#000"/>
<circle cx="494.9" cy="208.8" r="2.8" fill="#1b0c41"/>
<circle cx="494.9" cy="208.8" r="0.75" fill="#000"/>
<circle cx="458.2" cy="263.6" r="2.8" fill="#450a69"/>
<circle cx="458.2" cy="263.6" r="0.75" fill="#000"/>
<circle cx="496.7" cy="265.5" r="2.8" fill="#450a69"/>
<circle cx="496.7" cy="265.5" r="0.75" fill="#000"/>
<circle cx="531.2" cy="217.9" r="2.8" fill="#801f6c"/>
<circle cx="531.2" cy="217.9" r="0.75" fill="#000"/>
<circle cx="462.1" cy="229.5" r="2.8" fill="#450a69"/>
<circle cx="462.1" cy="229.5" r="0.75" fill="#000"/>
<circle cx="450.0" cy="247.8" r="2.8" fill="#450a69"/>
<circle cx="450.0" cy="247.8" r="0.75" fill="#000"/>
<circle cx="480.0" cy="252.6" r="2.8" fill="#1b0c41"/>
<circle cx="480.0" cy="252.6" r="0.75" fill="#000"/>
<circle cx="490.3" cy="211.5" r="2.8" fill="#1b0c41"/>
<circle cx="490.3" cy="211.5" r="0.75" fill="#000"/>
<circle cx="464.8" cy="246.4" r="2.8" fill="#450a69"/>
<circle cx="464.8" cy="246.4" r="0.75" fill="#000"/>
<circle cx="480.0" cy="217.8" r="2.8" fill="#450a69"/>
<circle cx="480.0" cy="217.8" r="0.75" fill="#000"/>
<circle cx="452.0" cy="272.5" r="2.8" fill="#040314"/>
<circle cx="452.0" cy="272.5" r="0.75" fill="#000"/>
<circle cx="473.8" cy="225.3" r="2.8" fill="#1b0c41"/>
<circle cx="473.8" cy="225.3" r="0.75" fill="#000"/>
<circle cx="571.4" cy="187.6" r="2.8" fill="#801f6c"/>
<circle cx="571.4" cy="187.6" r="0.75" fill="#000"/>
<circle cx="565.8" cy="196.7" r="2.8" fill="#1b0c41"/>
<circle cx="565.8" cy="196.7" r="0.75" fill="#000"/>
<circle cx="454.1" cy="242.5" r="2.8" fill="#450a69"/>
<circle cx="454.1" cy="242.5" r="0.75" fill="#000"/>
<circle cx="496.8" cy="245.6" r="2.8" fill="#450a69"/>
<circle cx="496.8" cy="245.6" r="0.75" fill="#000"/>
<circle cx="468.3" cy="265.6" r="2.8" fill="#1b0c41"/>
<circle cx="468.3" cy="265.6" r="0.75" fill="#000"/>
<circle cx="527.1" cy="229.9" r="2.8" fill="#040314"/>
<circle cx="527.1" cy="229.9" r="0.75" fill="#000"/>
<circle cx="463.4" cy="253.3" r="2.8" fill="#040314"/>
<circle cx="463.4" cy="253.3" r="0.75" fill="#000"/>
<circle cx="430.7" cy="269.1" r="2.8" fill="#040314"/>
<circle cx="430.7" cy="269.1" r="0.75" fill="#000"/>
<circle cx="480.6" cy="225.3" r="2.8" fill="#1b0c41"/>
<circle cx="480.6" cy="225.3" r="0.75" fill="#000"/>
<circle cx="476.5" cy="226.0" r="2.8" fill="#1b0c41"/>
<circle cx="476.5" cy="226.0" r="0.75" fill="#000"/>
<circle cx="470.1" cy="285.9" r="2.8" fill="#450a69"/>
<circle cx="470.1" cy="285.9" r="0.75" fill="#000"/>
<circle cx="464.8" cy="224.6" r="2.8" fill="#1b0c41"/>
<circle cx="464.8" cy="224.6" r="0.75" fill="#000"/>
<circle cx="415.3" cy="259.4" r="2.8" fill="#040314"/>
<circle cx="415.3" cy="259.4" r="0.75" fill="#000"/>
<circle cx="482.0" cy="237.0" r="2.8" fill="#801f6c"/>
<circle cx="482.0" cy="237.0" r="0.75" fill="#000"/>
<circle cx="479.3" cy="235.6" r="2.8" fill="#1b0c41"/>
<circle cx="479.3" cy="235.6" r="0.75" fill="#000"/>
<circle cx="453.4" cy="246.4" r="2.8" fill="#1b0c41"/>
<circle cx="453.4" cy="246.4" r="0.75" fill="#000"/>
<circle cx="445.1" cy="267.0" r="2.8" fill="#1b0c41"/>
<circle cx="445.1" cy="267.0" r="0.75" fill="#000"/>
<circle cx="486.2" cy="247.1" r="2.8" fill="#1b0c41"/>
<circle cx="486.2" cy="247.1" r="0.75" fill="#000"/>
<circle cx="446.5" cy="260.8" r="2.8" fill="#1b0c41"/>
<circle cx="446.5" cy="260.8" r="0.75" fill="#000"/>
<circle cx="443.1" cy="246.4" r="2.8" fill="#450a69"/>
<circle cx="443.1" cy="246.4" r="0.75" fill="#000"/>
<circle cx="521.6" cy="213.3" r="2.8" fill="#1b0c41"/>
<circle cx="521.6" cy="213.3" r="0.75" fill="#000"/>
<circle cx="458.2" cy="241.2" r="2.8" fill="#1b0c41"/>
<circle cx="458.2" cy="241.2" r="0.75" fill="#000"/>
<circle cx="470.3" cy="241.2" r="2.8" fill="#1b0c41"/>
<circle cx="470.3" cy="241.2" r="0.75" fill="#000"/>
<circle cx="555.2" cy="195.9" r="2.8" fill="#801f6c"/>
<circle cx="555.2" cy="195.9" r="0.75" fill="#000"/>
<circle cx="547.4" cy="210.1" r="2.8" fill="#1b0c41"/>
<circle cx="547.4" cy="210.1" r="0.75" fill="#000"/>
<circle cx="458.9" cy="252.6" r="2.8" fill="#450a69"/>
<circle cx="458.9" cy="252.6" r="0.75" fill="#000"/>
<circle cx="540.6" cy="226.7" r="2.8" fill="#040314"/>
<circle cx="540.6" cy="226.7" r="0.75" fill="#000"/>
<circle cx="482.0" cy="220.5" r="2.8" fill="#1b0c41"/>
<circle cx="482.0" cy="220.5" r="0.75" fill="#000"/>
<circle cx="466.9" cy="289.3" r="2.8" fill="#040314"/>
<circle cx="466.9" cy="289.3" r="0.75" fill="#000"/>
<circle cx="504.2" cy="243.8" r="2.8" fill="#1b0c41"/>
<circle cx="504.2" cy="243.8" r="0.75" fill="#000"/>
<circle cx="512.0" cy="222.9" r="2.8" fill="#1b0c41"/>
<circle cx="512.0" cy="222.9" r="0.75" fill="#000"/>
<circle cx="438.3" cy="258.8" r="2.8" fill="#040314"/>
<circle cx="438.3" cy="258.8" r="0.75" fill="#000"/>
<circle cx="425.4" cy="282.0" r="2.8" fill="#040314"/>
<circle cx="425.4" cy="282.0" r="0.75" fill="#000"/>
<circle cx="498.5" cy="287.9" r="2.8" fill="#040314"/>
<circle cx="498.5" cy="287.9" r="0.75" fill="#000"/>
<circle cx="510.6" cy="214.7" r="2.8" fill="#040314"/>
<circle cx="510.6" cy="214.7" r="0.75" fill="#000"/>
<circle cx="532.8" cy="218.9" r="2.8" fill="#801f6c"/>
<circle cx="532.8" cy="218.9" r="0.75" fill="#000"/>
<circle cx="521.6" cy="220.2" r="2.8" fill="#1b0c41"/>
<circle cx="521.6" cy="220.2" r="0.75" fill="#000"/>
<circle cx="399.1" cy="279.5" r="2.8" fill="#040314"/>
<circle cx="399.1" cy="279.5" r="0.75" fill="#000"/>
<circle cx="460.7" cy="251.9" r="2.8" fill="#040314"/>
<circle cx="460.7" cy="251.9" r="0.75" fill="#000"/>
<circle cx="548.3" cy="213.3" r="2.8" fill="#1b0c41"/>
<circle cx="548.3" cy="213.3" r="0.75" fill="#000"/>
<circle cx="452.5" cy="296.1" r="2.8" fill="#040314"/>
<circle cx="452.5" cy="296.1" r="0.75" fill="#000"/>
<circle cx="448.9" cy="281.0" r="2.8" fill="#040314"/>
<circle cx="448.9" cy="281.0" r="0.75" fill="#000"/>
<circle cx="419.3" cy="254.0" r="2.8" fill="#040314"/>
<circle cx="419.3" cy="254.0" r="0.75" fill="#000"/>
<circle cx="504.2" cy="227.1" r="2.8" fill="#1b0c41"/>
<circle cx="504.2" cy="227.1" r="0.75" fill="#000"/>
<circle cx="434.1" cy="271.2" r="2.8" fill="#040314"/>
<circle cx="434.1" cy="271.2" r="0.75" fill="#000"/>
<circle cx="440.3" cy="264.3" r="2.8" fill="#450a69"/>
<circle cx="440.3" cy="264.3" r="0.75" fill="#000"/>
<circle cx="455.5" cy="248.4" r="2.8" fill="#1b0c41"/>
<circle cx="455.5" cy="248.4" r="0.75" fill="#000"/>
<circle cx="529.0" cy="224.4" r="2.8" fill="#1b0c41"/>
<circle cx="529.0" cy="224.4" r="0.75" fill="#000"/>
<circle cx="532.3" cy="213.3" r="2.8" fill="#1b0c41"/>
<circle cx="532.3" cy="213.3" r="0.75" fill="#000"/>
<circle cx="486.2" cy="217.1" r="2.8" fill="#450a69"/>
<circle cx="486.2" cy="217.1" r="0.75" fill="#000"/>
<circle cx="523.4" cy="241.5" r="2.8" fill="#040314"/>
<circle cx="523.4" cy="241.5" r="0.75" fill="#000"/>
<circle cx="471.0" cy="272.5" r="2.8" fill="#040314"/>
<circle cx="471.0" cy="272.5" r="0.75" fill="#000"/>
<circle cx="533.7" cy="222.5" r="2.8" fill="#1b0c41"/>
<circle cx="533.7" cy="222.5" r="0.75" fill="#000"/>
<circle cx="468.3" cy="254.6" r="2.8" fill="#1b0c41"/>
<circle cx="468.3" cy="254.6" r="0.75" fill="#000"/>
<circle cx="422.7" cy="286.6" r="2.8" fill="#450a69"/>
<circle cx="422.7" cy="286.6" r="0.75" fill="#000"/>
<circle cx="464.6" cy="276.9" r="2.8" fill="#450a69"/>
<circle cx="464.6" cy="276.9" r="0.75" fill="#000"/>
<circle cx="504.2" cy="263.9" r="2.8" fill="#1b0c41"/>
<circle cx="504.2" cy="263.9" r="0.75" fill="#000"/>
<circle cx="526.2" cy="219.8" r="2.8" fill="#040314"/>
<circle cx="526.2" cy="219.8" r="0.75" fill="#000"/>
<circle cx="421.7" cy="263.5" r="2.8" fill="#040314"/>
<circle cx="421.7" cy="263.5" r="0.75" fill="#000"/>
<circle cx="495.8" cy="282.0" r="2.8" fill="#040314"/>
<circle cx="495.8" cy="282.0" r="0.75" fill="#000"/>
<circle cx="499.1" cy="263.0" r="2.8" fill="#801f6c"/>
<circle cx="499.1" cy="263.0" r="0.75" fill="#000"/>
<circle cx="427.8" cy="266.2" r="2.8" fill="#040314"/>
<circle cx="427.8" cy="266.2" r="0.75" fill="#000"/>
<circle cx="512.4" cy="231.7" r="2.8" fill="#1b0c41"/>
<circle cx="512.4" cy="231.7" r="0.75" fill="#000"/>
<circle cx="445.2" cy="286.1" r="2.8" fill="#040314"/>
<circle cx="445.2" cy="286.1" r="0.75" fill="#000"/>
<circle cx="472.4" cy="247.1" r="2.8" fill="#1b0c41"/>
<circle cx="472.4" cy="247.1" r="0.75" fill="#000"/>
<circle cx="496.9" cy="263.7" r="2.8" fill="#801f6c"/>
<circle cx="496.9" cy="263.7" r="0.75" fill="#000"/>
<circle cx="565.8" cy="187.5" r="2.8" fill="#801f6c"/>
<circle cx="565.8" cy="187.5" r="0.75" fill="#000"/>
<circle cx="426.8" cy="261.6" r="2.8" fill="#450a69"/>
<circle cx="426.8" cy="261.6" r="0.75" fill="#000"/>
<circle cx="469.2" cy="275.1" r="2.8" fill="#1b0c41"/>
<circle cx="469.2" cy="275.1" r="0.75" fill="#000"/>
<circle cx="517.0" cy="217.9" r="2.8" fill="#1b0c41"/>
<circle cx="517.0" cy="217.9" r="0.75" fill="#000"/>
<circle cx="515.6" cy="214.7" r="2.8" fill="#450a69"/>
<circle cx="515.6" cy="214.7" r="0.75" fill="#000"/>
<circle cx="478.6" cy="241.8" r="2.8" fill="#450a69"/>
<circle cx="478.6" cy="241.8" r="0.75" fill="#000"/>
<circle cx="502.9" cy="276.1" r="2.8" fill="#040314"/>
<circle cx="502.9" cy="276.1" r="0.75" fill="#000"/>
<circle cx="518.4" cy="202.8" r="2.8" fill="#040314"/>
<circle cx="518.4" cy="202.8" r="0.75" fill="#000"/>
<circle cx="441.4" cy="230.5" r="2.8" fill="#450a69"/>
<circle cx="441.4" cy="230.5" r="0.75" fill="#000"/>
<circle cx="482.7" cy="216.4" r="2.8" fill="#1b0c41"/>
<circle cx="482.7" cy="216.4" r="0.75" fill="#000"/>
<circle cx="443.8" cy="298.0" r="2.8" fill="#040314"/>
<circle cx="443.8" cy="298.0" r="0.75" fill="#000"/>
<circle cx="545.1" cy="205.1" r="2.8" fill="#801f6c"/>
<circle cx="545.1" cy="205.1" r="0.75" fill="#000"/>
<circle cx="457.5" cy="256.0" r="2.8" fill="#1b0c41"/>
<circle cx="457.5" cy="256.0" r="0.75" fill="#000"/>
<circle cx="567.8" cy="185.3" r="2.8" fill="#801f6c"/>
<circle cx="567.8" cy="185.3" r="0.75" fill="#000"/>
<circle cx="435.5" cy="254.6" r="2.8" fill="#040314"/>
<circle cx="435.5" cy="254.6" r="0.75" fill="#000"/>
<circle cx="494.9" cy="233.7" r="2.8" fill="#1b0c41"/>
<circle cx="494.9" cy="233.7" r="0.75" fill="#000"/>
<circle cx="454.8" cy="239.8" r="2.8" fill="#450a69"/>
<circle cx="454.8" cy="239.8" r="0.75" fill="#000"/>
<circle cx="441.0" cy="242.2" r="2.8" fill="#450a69"/>
<circle cx="441.0" cy="242.2" r="0.75" fill="#000"/>
<circle cx="541.0" cy="219.3" r="2.8" fill="#1b0c41"/>
<circle cx="541.0" cy="219.3" r="0.75" fill="#000"/>
<circle cx="511.0" cy="219.3" r="2.8" fill="#450a69"/>
<circle cx="511.0" cy="219.3" r="0.75" fill="#000"/>
<circle cx="441.7" cy="251.9" r="2.8" fill="#450a69"/>
<circle cx="441.7" cy="251.9" r="0.75" fill="#000"/>
<circle cx="482.7" cy="255.3" r="2.8" fill="#1b0c41"/>
<circle cx="482.7" cy="255.3" r="0.75" fill="#000"/>
<circle cx="450.0" cy="240.5" r="2.8" fill="#1b0c41"/>
<circle cx="450.0" cy="240.5" r="0.75" fill="#000"/>
<circle cx="530.8" cy="222.5" r="2.8" fill="#1b0c41"/>
<circle cx="530.8" cy="222.5" r="0.75" fill="#000"/>
<circle cx="528.5" cy="201.9" r="2.8" fill="#450a69"/>
<circle cx="528.5" cy="201.9" r="0.75" fill="#000"/>
<circle cx="501.4" cy="259.4" r="2.8" fill="#450a69"/>
<circle cx="501.4" cy="259.4" r="0.75" fill="#000"/>
<circle cx="538.3" cy="208.8" r="2.8" fill="#040314"/>
<circle cx="538.3" cy="208.8" r="0.75" fill="#000"/>
<circle cx="578.8" cy="183.9" r="2.8" fill="#801f6c"/>
<circle cx="578.8" cy="183.9" r="0.75" fill="#000"/>
<circle cx="497.8" cy="238.3" r="2.8" fill="#450a69"/>
<circle cx="497.8" cy="238.3" r="0.75" fill="#000"/>
<circle cx="550.6" cy="202.3" r="2.8" fill="#801f6c"/>
<circle cx="550.6" cy="202.3" r="0.75" fill="#000"/>
<circle cx="462.1" cy="265.6" r="2.8" fill="#040314"/>
<circle cx="462.1" cy="265.6" r="0.75" fill="#000"/>
<circle cx="473.8" cy="242.5" r="2.8" fill="#1b0c41"/>
<circle cx="473.8" cy="242.5" r="0.75" fill="#000"/>
<circle cx="497.8" cy="264.9" r="2.8" fill="#450a69"/>
<circle cx="497.8" cy="264.9" r="0.75" fill="#000"/>
<circle cx="464.8" cy="260.1" r="2.8" fill="#450a69"/>
<circle cx="464.8" cy="260.1" r="0.75" fill="#000"/>
<circle cx="476.5" cy="246.4" r="2.8" fill="#1b0c41"/>
<circle cx="476.5" cy="246.4" r="0.75" fill="#000"/>
<circle cx="526.1" cy="196.2" r="2.8" fill="#1b0c41"/>
<circle cx="526.1" cy="196.2" r="0.75" fill="#000"/>
<circle cx="461.4" cy="260.8" r="2.8" fill="#450a69"/>
<circle cx="461.4" cy="260.8" r="0.75" fill="#000"/>
<circle cx="443.8" cy="242.5" r="2.8" fill="#1b0c41"/>
<circle cx="443.8" cy="242.5" r="0.75" fill="#000"/>
<circle cx="524.4" cy="200.5" r="2.8" fill="#450a69"/>
<circle cx="524.4" cy="200.5" r="0.75" fill="#000"/>
<circle cx="558.4" cy="199.0" r="2.8" fill="#040314"/>
<circle cx="558.4" cy="199.0" r="0.75" fill="#000"/>
<circle cx="457.5" cy="271.2" r="2.8" fill="#040314"/>
<circle cx="457.5" cy="271.2" r="0.75" fill="#000"/>
<circle cx="411.4" cy="279.5" r="2.8" fill="#040314"/>
<circle cx="411.4" cy="279.5" r="0.75" fill="#000"/>
<circle cx="462.6" cy="288.3" r="2.8" fill="#040314"/>
<circle cx="462.6" cy="288.3" r="0.75" fill="#000"/>
<circle cx="509.2" cy="242.8" r="2.8" fill="#1b0c41"/>
<circle cx="509.2" cy="242.8" r="0.75" fill="#000"/>
<circle cx="431.4" cy="258.8" r="2.8" fill="#1b0c41"/>
<circle cx="431.4" cy="258.8" r="0.75" fill="#000"/>
<circle cx="463.7" cy="287.9" r="2.8" fill="#040314"/>
<circle cx="463.7" cy="287.9" r="0.75" fill="#000"/>
<circle cx="450.0" cy="265.0" r="2.8" fill="#040314"/>
<circle cx="450.0" cy="265.0" r="0.75" fill="#000"/>
<circle cx="452.0" cy="265.6" r="2.8" fill="#040314"/>
<circle cx="452.0" cy="265.6" r="0.75" fill="#000"/>
<circle cx="441.0" cy="260.1" r="2.8" fill="#450a69"/>
<circle cx="441.0" cy="260.1" r="0.75" fill="#000"/>
<circle cx="477.2" cy="234.3" r="2.8" fill="#1b0c41"/>
<circle cx="477.2" cy="234.3" r="0.75" fill="#000"/>
<circle cx="445.8" cy="248.4" r="2.8" fill="#1b0c41"/>
<circle cx="445.8" cy="248.4" r="0.75" fill="#000"/>
<circle cx="473.8" cy="229.5" r="2.8" fill="#450a69"/>
<circle cx="473.8" cy="229.5" r="0.75" fill="#000"/>
<circle cx="466.9" cy="271.2" r="2.8" fill="#1b0c41"/>
<circle cx="466.9" cy="271.2" r="0.75" fill="#000"/>
<circle cx="574.2" cy="184.9" r="2.8" fill="#801f6c"/>
<circle cx="574.2" cy="184.9" r="0.75" fill="#000"/>
<circle cx="429.5" cy="277.8" r="2.8" fill="#040314"/>
<circle cx="429.5" cy="277.8" r="0.75" fill="#000"/>
<circle cx="543.8" cy="215.2" r="2.8" fill="#1b0c41"/>
<circle cx="543.8" cy="215.2" r="0.75" fill="#000"/>
<circle cx="438.8" cy="283.8" r="2.8" fill="#040314"/>
<circle cx="438.8" cy="283.8" r="0.75" fill="#000"/>
<circle cx="519.3" cy="227.6" r="2.8" fill="#450a69"/>
<circle cx="519.3" cy="227.6" r="0.75" fill="#000"/>
<circle cx="476.5" cy="276.5" r="2.8" fill="#450a69"/>
<circle cx="476.5" cy="276.5" r="0.75" fill="#000"/>
<circle cx="425.9" cy="266.7" r="2.8" fill="#1b0c41"/>
<circle cx="425.9" cy="266.7" r="0.75" fill="#000"/>
<circle cx="464.1" cy="232.9" r="2.8" fill="#450a69"/>
<circle cx="464.1" cy="232.9" r="0.75" fill="#000"/>
<circle cx="487.5" cy="253.9" r="2.8" fill="#450a69"/>
<circle cx="487.5" cy="253.9" r="0.75" fill="#000"/>
<circle cx="472.4" cy="258.8" r="2.8" fill="#1b0c41"/>
<circle cx="472.4" cy="258.8" r="0.75" fill="#000"/>
<circle cx="500.5" cy="222.9" r="2.8" fill="#040314"/>
<circle cx="500.5" cy="222.9" r="0.75" fill="#000"/>
<circle cx="461.4" cy="237.0" r="2.8" fill="#450a69"/>
<circle cx="461.4" cy="237.0" r="0.75" fill="#000"/>
<circle cx="442.4" cy="268.4" r="2.8" fill="#450a69"/>
<circle cx="442.4" cy="268.4" r="0.75" fill="#000"/>
<circle cx="482.7" cy="270.5" r="2.8" fill="#1b0c41"/>
<circle cx="482.7" cy="270.5" r="0.75" fill="#000"/>
<circle cx="508.3" cy="252.0" r="2.8" fill="#801f6c"/>
<circle cx="508.3" cy="252.0" r="0.75" fill="#000"/>
<circle cx="556.6" cy="194.9" r="2.8" fill="#801f6c"/>
<circle cx="556.6" cy="194.9" r="0.75" fill="#000"/>
<circle cx="427.2" cy="262.1" r="2.8" fill="#1b0c41"/>
<circle cx="427.2" cy="262.1" r="0.75" fill="#000"/>
<circle cx="469.2" cy="285.2" r="2.8" fill="#801f6c"/>
<circle cx="469.2" cy="285.2" r="0.75" fill="#000"/>
<circle cx="432.1" cy="265.6" r="2.8" fill="#040314"/>
<circle cx="432.1" cy="265.6" r="0.75" fill="#000"/>
<circle cx="488.9" cy="223.3" r="2.8" fill="#450a69"/>
<circle cx="488.9" cy="223.3" r="0.75" fill="#000"/>
<circle cx="517.9" cy="210.1" r="2.8" fill="#801f6c"/>
<circle cx="517.9" cy="210.1" r="0.75" fill="#000"/>
<circle cx="477.2" cy="266.3" r="2.8" fill="#1b0c41"/>
<circle cx="477.2" cy="266.3" r="0.75" fill="#000"/>
<line x1="399.1" y1="271.0" x2="399.1" y2="287.5" stroke="#8a8a8a" stroke-width="1.4"/>
<line x1="411.4" y1="273.3" x2="411.4" y2="285.6" stroke="#111" stroke-width="1.4"/>
<line x1="425.4" y1="278.8" x2="425.4" y2="291.6" stroke="#8a8a8a" stroke-width="1.4"/>
<line x1="443.8" y1="288.0" x2="443.8" y2="307.0" stroke="#111" stroke-width="1.4"/>
<line x1="458.0" y1="277.0" x2="458.0" y2="299.4" stroke="#111" stroke-width="1.4"/>
<line x1="495.8" y1="228.0" x2="495.8" y2="250.0" stroke="#111" stroke-width="1.4"/>
<line x1="497.2" y1="215.0" x2="497.2" y2="232.0" stroke="#111" stroke-width="1.4"/>
<line x1="505.1" y1="218.0" x2="505.1" y2="235.0" stroke="#111" stroke-width="1.4"/>
<line x1="509.2" y1="222.0" x2="509.2" y2="236.0" stroke="#111" stroke-width="1.4"/>
<line x1="505.6" y1="228.0" x2="505.6" y2="272.0" stroke="#111" stroke-width="1.4"/>
<line x1="499.1" y1="252.0" x2="499.1" y2="267.6" stroke="#111" stroke-width="1.4"/>
<line x1="512.0" y1="253.0" x2="512.0" y2="266.7" stroke="#111" stroke-width="1.4"/>
<line x1="502.9" y1="270.1" x2="502.9" y2="282.0" stroke="#111" stroke-width="1.4"/>
<line x1="505.2" y1="263.0" x2="505.2" y2="273.8" stroke="#111" stroke-width="1.4"/>
<line x1="448.2" y1="232.5" x2="448.2" y2="250.0" stroke="#111" stroke-width="1.4"/>
<line x1="476.9" y1="229.5" x2="476.9" y2="245.0" stroke="#111" stroke-width="1.4"/>
<line x1="482.0" y1="216.4" x2="482.0" y2="228.8" stroke="#111" stroke-width="1.4"/>
<line x1="483.0" y1="237.7" x2="483.0" y2="243.6" stroke="#111" stroke-width="1.4"/>
<line x1="438.6" y1="254.0" x2="438.6" y2="276.0" stroke="#111" stroke-width="1.4"/>
<line x1="446.5" y1="244.0" x2="446.5" y2="276.0" stroke="#111" stroke-width="1.4"/>
<line x1="449.6" y1="249.0" x2="449.6" y2="276.0" stroke="#111" stroke-width="1.4"/>
<line x1="452.4" y1="247.0" x2="452.4" y2="257.0" stroke="#111" stroke-width="1.4"/>
<line x1="455.8" y1="246.0" x2="455.8" y2="262.0" stroke="#111" stroke-width="1.4"/>
<line x1="461.4" y1="245.0" x2="461.4" y2="276.0" stroke="#111" stroke-width="1.4"/>
<line x1="465.2" y1="245.0" x2="465.2" y2="276.0" stroke="#111" stroke-width="1.4"/>
<line x1="466.9" y1="245.0" x2="466.9" y2="262.0" stroke="#111" stroke-width="1.4"/>
<line x1="469.3" y1="245.0" x2="469.3" y2="276.0" stroke="#111" stroke-width="1.4"/>
<line x1="472.7" y1="245.0" x2="472.7" y2="272.0" stroke="#111" stroke-width="1.4"/>
<line x1="474.8" y1="245.0" x2="474.8" y2="268.0" stroke="#111" stroke-width="1.4"/>
<line x1="478.2" y1="245.0" x2="478.2" y2="276.0" stroke="#111" stroke-width="1.4"/>
<line x1="481.3" y1="245.0" x2="481.3" y2="270.0" stroke="#111" stroke-width="1.4"/>
<line x1="438.8" y1="270.0" x2="438.8" y2="313.7" stroke="#111" stroke-width="1.4"/>
<line x1="452.5" y1="270.0" x2="452.5" y2="319.7" stroke="#111" stroke-width="1.4"/>
<line x1="468.3" y1="270.0" x2="468.3" y2="298.0" stroke="#111" stroke-width="1.4"/>
<line x1="464.6" y1="270.0" x2="464.6" y2="291.6" stroke="#111" stroke-width="1.4"/>
<line x1="471.0" y1="270.0" x2="471.0" y2="283.3" stroke="#111" stroke-width="1.4"/>
<line x1="481.6" y1="262.0" x2="481.6" y2="279.2" stroke="#111" stroke-width="1.4"/>
<line x1="391.5" y1="365.5" x2="617.0" y2="140.5" stroke="#000" stroke-width="2.1" stroke-dasharray="7.0 3.47"/>
<rect x="391.5" y="140.5" width="225.5" height="225.0" fill="none" stroke="#6e6e6e" stroke-width="1.2"/>
<line x1="447.88" y1="365.5" x2="447.88" y2="363.1" stroke="#6e6e6e" stroke-width="1"/>
<line x1="391.5" y1="309.25" x2="393.9" y2="309.25" stroke="#6e6e6e" stroke-width="1"/>
<line x1="504.25" y1="365.5" x2="504.25" y2="363.1" stroke="#6e6e6e" stroke-width="1"/>
<line x1="391.5" y1="253.00" x2="393.9" y2="253.00" stroke="#6e6e6e" stroke-width="1"/>
<line x1="560.62" y1="365.5" x2="560.62" y2="363.1" stroke="#6e6e6e" stroke-width="1"/>
<line x1="391.5" y1="196.75" x2="393.9" y2="196.75" stroke="#6e6e6e" stroke-width="1"/>
<text transform="translate(375.75,376.9) scale(1.1,1)" font-size="12.3" fill="#1a1a1a">10</text>
<rect x="391.05" y="369.75" width="5.8" height="0.95" fill="#555"/>
<text transform="translate(397.35,373.3)" font-size="9" fill="#1a1a1a">11</text>
<text transform="translate(389.30,366.00)" font-size="9" text-anchor="end" fill="#1a1a1a">11</text>
<rect x="373.70" y="362.15" width="5.8" height="0.95" fill="#555"/>
<text transform="translate(373.20,369.90) scale(1.1,1)" font-size="12.3" text-anchor="end" fill="#1a1a1a">10</text>
<text transform="translate(434.27,376.9) scale(1.1,1)" font-size="12.3" fill="#1a1a1a">10</text>
<rect x="449.57" y="369.75" width="5.8" height="0.95" fill="#555"/>
<text transform="translate(455.88,373.3)" font-size="9" fill="#1a1a1a">9</text>
<text transform="translate(389.30,309.75)" font-size="9" text-anchor="end" fill="#1a1a1a">9</text>
<rect x="378.00" y="305.90" width="5.8" height="0.95" fill="#555"/>
<text transform="translate(377.50,313.65) scale(1.1,1)" font-size="12.3" text-anchor="end" fill="#1a1a1a">10</text>
<text transform="translate(490.65,376.9) scale(1.1,1)" font-size="12.3" fill="#1a1a1a">10</text>
<rect x="505.95" y="369.75" width="5.8" height="0.95" fill="#555"/>
<text transform="translate(512.25,373.3)" font-size="9" fill="#1a1a1a">7</text>
<text transform="translate(389.30,253.50)" font-size="9" text-anchor="end" fill="#1a1a1a">7</text>
<rect x="378.00" y="249.65" width="5.8" height="0.95" fill="#555"/>
<text transform="translate(377.50,257.40) scale(1.1,1)" font-size="12.3" text-anchor="end" fill="#1a1a1a">10</text>
<text transform="translate(547.02,376.9) scale(1.1,1)" font-size="12.3" fill="#1a1a1a">10</text>
<rect x="562.32" y="369.75" width="5.8" height="0.95" fill="#555"/>
<text transform="translate(568.62,373.3)" font-size="9" fill="#1a1a1a">5</text>
<text transform="translate(389.30,197.25)" font-size="9" text-anchor="end" fill="#1a1a1a">5</text>
<rect x="378.00" y="193.40" width="5.8" height="0.95" fill="#555"/>
<text transform="translate(377.50,201.15) scale(1.1,1)" font-size="12.3" text-anchor="end" fill="#1a1a1a">10</text>
<text transform="translate(603.40,376.9) scale(1.1,1)" font-size="12.3" fill="#1a1a1a">10</text>
<rect x="618.70" y="369.75" width="5.8" height="0.95" fill="#555"/>
<text transform="translate(625.00,373.3)" font-size="9" fill="#1a1a1a">3</text>
<text transform="translate(389.30,141.00)" font-size="9" text-anchor="end" fill="#1a1a1a">3</text>
<rect x="378.00" y="137.15" width="5.8" height="0.95" fill="#555"/>
<text transform="translate(377.50,144.90) scale(1.1,1)" font-size="12.3" text-anchor="end" fill="#1a1a1a">10</text>
<text transform="translate(403.00,158.70) scale(0.89,1)" font-size="13.4" text-anchor="start" fill="#000" >Number of systems: 376</text>
<text transform="translate(403.00,175.90) scale(0.89,1)" font-size="13.4" text-anchor="start" fill="#000" >Polymers: 18</text>
<text transform="translate(403.00,193.10) scale(0.89,1)" font-size="13.4" text-anchor="start" fill="#000" >Solvents: 45</text>
<text transform="translate(403.0,210.4) scale(0.89,1)" font-size="13.4" fill="#111">R<tspan font-size="8.8" dy="-3.9">2</tspan><tspan dy="3.9">: 0.63</tspan></text>
<text transform="translate(493,397.3) scale(0.845,1)" font-size="15.8" text-anchor="middle" fill="#111">Experimental diffusivity (cm<tspan font-size="10" dy="-5.5">2</tspan><tspan dy="5.5">/s)</tspan></text>
<text transform="translate(360.2,253.4) rotate(-90) scale(0.845,1)" font-size="15.8" text-anchor="middle" fill="#111">Simulated diffusivity (cm<tspan font-size="10" dy="-5.5">2</tspan><tspan dy="5.5">/s)</tspan></text>
<rect x="632.4" y="140.4" width="12.200000000000045" height="224.6" fill="url(#cb)" stroke="#444" stroke-width="0.8"/>
<line x1="644.6" y1="347.60" x2="647.4" y2="347.60" stroke="#333" stroke-width="0.9"/>
<text transform="translate(648.80,351.40) scale(0.9,1)" font-size="10.6" text-anchor="start" fill="#222" >300</text>
<line x1="644.6" y1="316.54" x2="647.4" y2="316.54" stroke="#333" stroke-width="0.9"/>
<text transform="translate(648.80,320.34) scale(0.9,1)" font-size="10.6" text-anchor="start" fill="#222" >320</text>
<line x1="644.6" y1="285.47" x2="647.4" y2="285.47" stroke="#333" stroke-width="0.9"/>
<text transform="translate(648.80,289.27) scale(0.9,1)" font-size="10.6" text-anchor="start" fill="#222" >340</text>
<line x1="644.6" y1="254.41" x2="647.4" y2="254.41" stroke="#333" stroke-width="0.9"/>
<text transform="translate(648.80,258.21) scale(0.9,1)" font-size="10.6" text-anchor="start" fill="#222" >360</text>
<line x1="644.6" y1="223.34" x2="647.4" y2="223.34" stroke="#333" stroke-width="0.9"/>
<text transform="translate(648.80,227.14) scale(0.9,1)" font-size="10.6" text-anchor="start" fill="#222" >380</text>
<line x1="644.6" y1="192.28" x2="647.4" y2="192.28" stroke="#333" stroke-width="0.9"/>
<text transform="translate(648.80,196.08) scale(0.9,1)" font-size="10.6" text-anchor="start" fill="#222" >400</text>
<line x1="644.6" y1="161.21" x2="647.4" y2="161.21" stroke="#333" stroke-width="0.9"/>
<text transform="translate(648.80,165.01) scale(0.9,1)" font-size="10.6" text-anchor="start" fill="#222" >420</text>
<text transform="translate(681.6,247.6) rotate(-90) scale(0.845,1)" font-size="15.8" text-anchor="middle" fill="#111">Temperature (K)</text>
</svg>
</body></html>
